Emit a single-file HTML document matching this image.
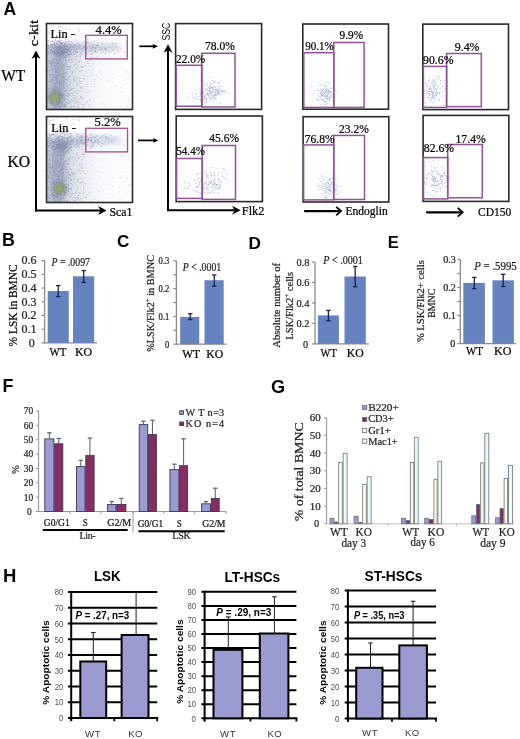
<!DOCTYPE html>
<html><head><meta charset="utf-8"><title>Figure</title>
<style>html,body{margin:0;padding:0;background:#fff;width:520px;height:739px;overflow:hidden}svg{display:block;will-change:transform}</style>
</head><body>
<svg width="520" height="739" viewBox="0 0 520 739">
<defs><filter id="soft" x="-5%" y="-5%" width="110%" height="110%"><feGaussianBlur stdDeviation="0.45"/></filter><filter id="blur1" x="-50%" y="-50%" width="200%" height="200%"><feGaussianBlur stdDeviation="1.6"/></filter><filter id="blur3" x="-20%" y="-20%" width="140%" height="140%"><feGaussianBlur stdDeviation="2.5"/></filter></defs>
<rect width="520" height="739" fill="#fff"/>
<text x="3.4" y="15.4" font-family="'Liberation Sans', sans-serif" font-size="17.5" font-weight="bold">A</text>
<text x="1.3" y="81" font-family="'Liberation Serif', serif" font-size="16" stroke="#000" stroke-width="0.22" textLength="24" lengthAdjust="spacingAndGlyphs">WT</text>
<text x="7.5" y="167.3" font-family="'Liberation Serif', serif" font-size="16" stroke="#000" stroke-width="0.22" textLength="22.6" lengthAdjust="spacingAndGlyphs">KO</text>
<text x="38.4" y="46.2" font-family="'Liberation Serif', serif" font-size="13.5" stroke="#000" stroke-width="0.22" textLength="26.2" lengthAdjust="spacingAndGlyphs" transform="rotate(-90 38.4 46.2)">c-kit</text>
<clipPath id="c23"><rect x="46.5" y="23.5" width="86.0" height="86.0"/></clipPath>
<linearGradient id="gc23" x1="46.5" y1="0" x2="132.5" y2="0" gradientUnits="userSpaceOnUse"><stop offset="0" stop-color="#c4c9d9"/><stop offset="0.22" stop-color="#d3d7e3"/><stop offset="0.42" stop-color="#e9ebf1"/><stop offset="0.6" stop-color="#f7f8fa"/><stop offset="1" stop-color="#fdfdfe"/></linearGradient>
<g clip-path="url(#c23)"><g filter="url(#blur3)">
<rect x="41.5" y="45.5" width="96.0" height="70.0" fill="url(#gc23)"/>
<ellipse cx="79.5" cy="47.5" rx="36" ry="5" fill="#c9cedd"/>
<ellipse cx="104.5" cy="47.5" rx="18" ry="4" fill="#d0d5e4"/>
<ellipse cx="58.5" cy="81.5" rx="7.5" ry="34" fill="#a9b0c6"/>
<ellipse cx="61.5" cy="50" rx="9" ry="6" fill="#9aa2bb"/>
<ellipse cx="55.0" cy="97.5" rx="7.5" ry="8" fill="#84938a"/>
</g><g filter="url(#soft)">
<path d="M52.7 69.0h1.0v1.0h-1.0zM51.4 66.6h1.0v1.0h-1.0zM50.5 96.5h1.0v1.0h-1.0zM56.5 59.0h1.0v1.0h-1.0zM59.4 65.1h1.0v1.0h-1.0zM48.4 62.7h1.0v1.0h-1.0zM57.5 44.5h1.0v1.0h-1.0zM59.3 38.5h1.0v1.0h-1.0zM55.1 54.4h1.0v1.0h-1.0zM67.9 53.0h1.0v1.0h-1.0zM55.2 52.6h1.0v1.0h-1.0zM68.7 54.7h1.0v1.0h-1.0zM90.5 53.7h1.0v1.0h-1.0zM48.9 47.3h1.0v1.0h-1.0zM68.5 59.1h1.0v1.0h-1.0zM94.1 44.6h1.0v1.0h-1.0zM52.7 44.0h1.0v1.0h-1.0zM59.6 84.4h1.0v1.0h-1.0zM60.2 60.2h1.0v1.0h-1.0zM55.4 46.1h1.0v1.0h-1.0zM51.4 82.0h1.0v1.0h-1.0zM52.7 103.3h1.0v1.0h-1.0zM52.2 96.8h1.0v1.0h-1.0zM50.8 40.7h1.0v1.0h-1.0zM48.0 44.8h1.0v1.0h-1.0zM80.9 53.0h1.0v1.0h-1.0zM70.5 44.1h1.0v1.0h-1.0zM72.8 53.8h1.0v1.0h-1.0zM63.6 66.4h1.0v1.0h-1.0zM55.4 94.5h1.0v1.0h-1.0zM59.0 45.1h1.0v1.0h-1.0zM72.4 71.8h1.0v1.0h-1.0zM51.7 46.3h1.0v1.0h-1.0zM56.6 99.5h1.0v1.0h-1.0zM84.7 46.3h1.0v1.0h-1.0zM57.8 93.2h1.0v1.0h-1.0zM73.4 94.9h1.0v1.0h-1.0zM82.9 46.9h1.0v1.0h-1.0zM55.1 94.4h1.0v1.0h-1.0zM101.3 47.8h1.0v1.0h-1.0zM75.7 48.8h1.0v1.0h-1.0zM58.4 39.9h1.0v1.0h-1.0zM51.8 47.1h1.0v1.0h-1.0zM57.2 66.3h1.0v1.0h-1.0zM85.4 70.4h1.0v1.0h-1.0zM101.4 49.3h1.0v1.0h-1.0zM49.4 52.2h1.0v1.0h-1.0zM62.4 42.5h1.0v1.0h-1.0zM50.7 63.7h1.0v1.0h-1.0zM73.4 46.9h1.0v1.0h-1.0zM79.4 44.8h1.0v1.0h-1.0zM56.8 95.0h1.0v1.0h-1.0zM63.4 44.5h1.0v1.0h-1.0zM59.5 98.7h1.0v1.0h-1.0zM60.4 82.6h1.0v1.0h-1.0zM51.0 102.2h1.0v1.0h-1.0zM60.1 90.3h1.0v1.0h-1.0zM62.1 42.0h1.0v1.0h-1.0zM49.7 94.7h1.0v1.0h-1.0zM52.1 53.3h1.0v1.0h-1.0zM60.0 99.7h1.0v1.0h-1.0zM89.5 50.6h1.0v1.0h-1.0zM55.4 107.9h1.0v1.0h-1.0zM58.0 103.1h1.0v1.0h-1.0zM67.6 100.3h1.0v1.0h-1.0zM51.5 89.7h1.0v1.0h-1.0zM72.8 49.0h1.0v1.0h-1.0zM49.8 52.0h1.0v1.0h-1.0zM64.5 76.4h1.0v1.0h-1.0zM55.6 102.5h1.0v1.0h-1.0zM58.6 25.9h1.0v1.0h-1.0zM64.0 33.0h1.0v1.0h-1.0zM63.9 50.6h1.0v1.0h-1.0zM48.3 45.3h1.0v1.0h-1.0zM62.2 65.5h1.0v1.0h-1.0zM53.4 90.5h1.0v1.0h-1.0zM53.8 99.0h1.0v1.0h-1.0zM64.0 45.9h1.0v1.0h-1.0zM76.1 51.3h1.0v1.0h-1.0zM63.2 77.7h1.0v1.0h-1.0zM64.0 56.5h1.0v1.0h-1.0zM58.6 74.8h1.0v1.0h-1.0zM73.1 76.9h1.0v1.0h-1.0zM64.4 81.7h1.0v1.0h-1.0zM65.7 105.4h1.0v1.0h-1.0zM86.3 48.5h1.0v1.0h-1.0zM57.1 94.4h1.0v1.0h-1.0zM68.1 59.7h1.0v1.0h-1.0zM46.7 84.9h1.0v1.0h-1.0zM67.3 49.2h1.0v1.0h-1.0zM51.5 63.2h1.0v1.0h-1.0zM89.3 46.6h1.0v1.0h-1.0zM74.6 50.5h1.0v1.0h-1.0zM68.4 49.2h1.0v1.0h-1.0zM64.5 36.4h1.0v1.0h-1.0zM46.9 81.6h1.0v1.0h-1.0zM67.1 85.9h1.0v1.0h-1.0zM61.9 83.1h1.0v1.0h-1.0zM75.8 67.7h1.0v1.0h-1.0zM49.8 45.2h1.0v1.0h-1.0zM60.8 43.8h1.0v1.0h-1.0zM58.6 42.3h1.0v1.0h-1.0zM59.7 46.5h1.0v1.0h-1.0zM73.5 100.3h1.0v1.0h-1.0zM70.8 45.4h1.0v1.0h-1.0zM71.4 106.7h1.0v1.0h-1.0zM65.1 72.1h1.0v1.0h-1.0zM52.1 85.8h1.0v1.0h-1.0zM62.3 94.2h1.0v1.0h-1.0zM60.4 55.0h1.0v1.0h-1.0zM65.5 39.0h1.0v1.0h-1.0zM67.8 93.0h1.0v1.0h-1.0zM54.7 82.9h1.0v1.0h-1.0zM57.0 65.5h1.0v1.0h-1.0zM81.1 48.0h1.0v1.0h-1.0zM63.6 83.9h1.0v1.0h-1.0zM72.9 44.1h1.0v1.0h-1.0zM61.0 50.5h1.0v1.0h-1.0zM59.8 48.1h1.0v1.0h-1.0zM55.0 100.3h1.0v1.0h-1.0zM51.1 99.2h1.0v1.0h-1.0zM65.3 49.8h1.0v1.0h-1.0zM61.2 54.0h1.0v1.0h-1.0zM56.3 68.9h1.0v1.0h-1.0zM62.8 47.6h1.0v1.0h-1.0zM49.5 80.0h1.0v1.0h-1.0zM59.8 83.5h1.0v1.0h-1.0zM69.4 94.5h1.0v1.0h-1.0zM60.0 53.5h1.0v1.0h-1.0zM64.6 97.7h1.0v1.0h-1.0zM73.8 79.8h1.0v1.0h-1.0zM57.7 47.0h1.0v1.0h-1.0zM63.3 49.3h1.0v1.0h-1.0zM49.8 49.9h1.0v1.0h-1.0zM61.8 94.9h1.0v1.0h-1.0zM104.7 53.2h1.0v1.0h-1.0zM50.5 44.3h1.0v1.0h-1.0zM57.3 88.3h1.0v1.0h-1.0zM92.7 44.7h1.0v1.0h-1.0zM58.6 71.4h1.0v1.0h-1.0zM60.9 80.2h1.0v1.0h-1.0zM56.2 48.1h1.0v1.0h-1.0zM63.3 83.1h1.0v1.0h-1.0zM56.1 51.1h1.0v1.0h-1.0zM67.9 44.4h1.0v1.0h-1.0zM59.9 49.0h1.0v1.0h-1.0zM53.3 82.0h1.0v1.0h-1.0zM49.9 60.9h1.0v1.0h-1.0zM60.5 48.6h1.0v1.0h-1.0zM53.7 51.0h1.0v1.0h-1.0zM65.8 72.2h1.0v1.0h-1.0zM64.6 49.0h1.0v1.0h-1.0zM50.2 74.8h1.0v1.0h-1.0zM55.9 91.6h1.0v1.0h-1.0zM53.0 51.5h1.0v1.0h-1.0zM60.9 54.2h1.0v1.0h-1.0zM47.0 72.7h1.0v1.0h-1.0zM69.7 46.7h1.0v1.0h-1.0zM66.5 53.2h1.0v1.0h-1.0zM69.9 45.4h1.0v1.0h-1.0zM60.5 46.3h1.0v1.0h-1.0zM65.1 57.5h1.0v1.0h-1.0zM51.4 58.7h1.0v1.0h-1.0zM108.1 51.5h1.0v1.0h-1.0zM54.1 92.7h1.0v1.0h-1.0zM51.6 66.2h1.0v1.0h-1.0zM62.0 103.4h1.0v1.0h-1.0zM52.1 78.4h1.0v1.0h-1.0zM68.8 60.4h1.0v1.0h-1.0zM56.0 106.3h1.0v1.0h-1.0zM54.2 52.4h1.0v1.0h-1.0zM66.2 60.1h1.0v1.0h-1.0zM48.2 107.7h1.0v1.0h-1.0zM58.0 59.9h1.0v1.0h-1.0zM108.7 46.7h1.0v1.0h-1.0zM78.5 44.0h1.0v1.0h-1.0zM73.3 106.1h1.0v1.0h-1.0zM87.0 42.3h1.0v1.0h-1.0zM61.1 93.4h1.0v1.0h-1.0zM59.6 44.9h1.0v1.0h-1.0zM59.2 81.3h1.0v1.0h-1.0zM75.4 55.9h1.0v1.0h-1.0zM63.6 72.0h1.0v1.0h-1.0zM61.7 84.5h1.0v1.0h-1.0zM103.1 51.5h1.0v1.0h-1.0zM48.7 73.9h1.0v1.0h-1.0zM58.9 51.9h1.0v1.0h-1.0zM47.0 107.5h1.0v1.0h-1.0zM68.8 50.1h1.0v1.0h-1.0zM68.4 40.7h1.0v1.0h-1.0zM83.4 77.8h1.0v1.0h-1.0zM61.8 101.9h1.0v1.0h-1.0zM103.9 48.6h1.0v1.0h-1.0zM54.5 63.0h1.0v1.0h-1.0zM65.8 102.1h1.0v1.0h-1.0zM57.7 72.6h1.0v1.0h-1.0zM60.9 103.5h1.0v1.0h-1.0zM56.5 65.7h1.0v1.0h-1.0zM56.5 63.3h1.0v1.0h-1.0zM63.3 57.8h1.0v1.0h-1.0zM57.3 43.9h1.0v1.0h-1.0zM89.2 99.2h1.0v1.0h-1.0zM49.1 56.9h1.0v1.0h-1.0zM71.3 99.2h1.0v1.0h-1.0zM85.8 101.8h1.0v1.0h-1.0zM54.0 44.3h1.0v1.0h-1.0zM58.4 40.3h1.0v1.0h-1.0zM54.0 46.5h1.0v1.0h-1.0zM56.8 81.6h1.0v1.0h-1.0zM53.0 76.5h1.0v1.0h-1.0zM77.4 106.5h1.0v1.0h-1.0zM60.3 86.3h1.0v1.0h-1.0zM62.4 49.8h1.0v1.0h-1.0zM63.3 50.8h1.0v1.0h-1.0zM55.7 45.6h1.0v1.0h-1.0zM63.8 100.7h1.0v1.0h-1.0zM62.3 97.6h1.0v1.0h-1.0zM57.9 52.3h1.0v1.0h-1.0zM57.7 83.3h1.0v1.0h-1.0zM98.5 46.9h1.0v1.0h-1.0zM64.6 42.5h1.0v1.0h-1.0zM77.1 83.0h1.0v1.0h-1.0zM117.8 51.1h1.0v1.0h-1.0zM51.5 61.4h1.0v1.0h-1.0zM55.9 42.6h1.0v1.0h-1.0zM65.0 90.9h1.0v1.0h-1.0zM49.1 89.6h1.0v1.0h-1.0zM57.9 62.1h1.0v1.0h-1.0zM62.6 57.7h1.0v1.0h-1.0zM63.0 86.1h1.0v1.0h-1.0zM63.2 46.1h1.0v1.0h-1.0zM59.6 89.6h1.0v1.0h-1.0zM55.8 71.4h1.0v1.0h-1.0zM64.3 44.9h1.0v1.0h-1.0zM96.3 55.7h1.0v1.0h-1.0zM50.2 99.1h1.0v1.0h-1.0zM52.5 51.0h1.0v1.0h-1.0zM57.2 40.5h1.0v1.0h-1.0zM51.1 63.5h1.0v1.0h-1.0zM58.6 100.8h1.0v1.0h-1.0zM66.9 102.6h1.0v1.0h-1.0zM48.0 87.9h1.0v1.0h-1.0zM71.2 57.2h1.0v1.0h-1.0zM55.9 106.5h1.0v1.0h-1.0zM56.2 82.4h1.0v1.0h-1.0zM69.8 44.7h1.0v1.0h-1.0zM64.6 47.9h1.0v1.0h-1.0zM47.7 45.6h1.0v1.0h-1.0zM48.9 82.2h1.0v1.0h-1.0zM105.6 49.3h1.0v1.0h-1.0zM49.1 93.9h1.0v1.0h-1.0zM65.5 29.0h1.0v1.0h-1.0zM65.1 56.2h1.0v1.0h-1.0zM56.3 62.6h1.0v1.0h-1.0zM61.3 43.1h1.0v1.0h-1.0zM91.1 43.9h1.0v1.0h-1.0zM87.4 38.8h1.0v1.0h-1.0zM53.5 41.9h1.0v1.0h-1.0zM80.7 81.2h1.0v1.0h-1.0zM60.3 93.9h1.0v1.0h-1.0zM50.9 101.3h1.0v1.0h-1.0zM48.0 48.1h1.0v1.0h-1.0zM68.2 43.6h1.0v1.0h-1.0zM64.8 46.1h1.0v1.0h-1.0zM58.1 58.0h1.0v1.0h-1.0zM48.0 81.0h1.0v1.0h-1.0zM69.7 29.5h1.0v1.0h-1.0zM61.2 82.7h1.0v1.0h-1.0zM66.0 46.0h1.0v1.0h-1.0zM54.3 76.5h1.0v1.0h-1.0zM59.6 82.4h1.0v1.0h-1.0zM62.9 73.0h1.0v1.0h-1.0zM49.1 85.1h1.0v1.0h-1.0zM59.9 42.7h1.0v1.0h-1.0zM65.4 50.6h1.0v1.0h-1.0zM100.6 47.2h1.0v1.0h-1.0zM54.5 105.4h1.0v1.0h-1.0zM71.0 88.8h1.0v1.0h-1.0zM61.3 88.5h1.0v1.0h-1.0zM75.3 44.6h1.0v1.0h-1.0zM76.5 55.7h1.0v1.0h-1.0zM50.6 97.5h1.0v1.0h-1.0zM75.4 44.7h1.0v1.0h-1.0zM49.5 73.7h1.0v1.0h-1.0zM62.4 70.0h1.0v1.0h-1.0zM62.1 100.9h1.0v1.0h-1.0zM68.5 47.0h1.0v1.0h-1.0zM99.0 49.3h1.0v1.0h-1.0zM63.3 73.8h1.0v1.0h-1.0zM92.3 46.9h1.0v1.0h-1.0zM48.3 39.9h1.0v1.0h-1.0zM51.4 45.9h1.0v1.0h-1.0zM51.3 34.1h1.0v1.0h-1.0zM59.2 88.2h1.0v1.0h-1.0zM55.2 47.0h1.0v1.0h-1.0zM54.8 65.5h1.0v1.0h-1.0zM64.7 79.1h1.0v1.0h-1.0zM58.8 81.3h1.0v1.0h-1.0zM57.6 77.6h1.0v1.0h-1.0zM67.7 92.8h1.0v1.0h-1.0zM58.1 92.7h1.0v1.0h-1.0zM62.3 66.0h1.0v1.0h-1.0zM60.4 102.5h1.0v1.0h-1.0zM58.2 63.5h1.0v1.0h-1.0zM57.0 47.7h1.0v1.0h-1.0zM64.0 66.6h1.0v1.0h-1.0zM47.6 40.7h1.0v1.0h-1.0zM60.2 85.2h1.0v1.0h-1.0zM81.6 69.7h1.0v1.0h-1.0zM51.4 59.4h1.0v1.0h-1.0zM53.5 51.7h1.0v1.0h-1.0zM59.6 49.5h1.0v1.0h-1.0zM54.3 100.2h1.0v1.0h-1.0zM65.4 57.4h1.0v1.0h-1.0zM75.0 46.1h1.0v1.0h-1.0zM55.0 66.2h1.0v1.0h-1.0zM63.0 80.4h1.0v1.0h-1.0zM56.1 50.9h1.0v1.0h-1.0zM78.9 80.6h1.0v1.0h-1.0zM78.4 48.2h1.0v1.0h-1.0zM76.9 49.5h1.0v1.0h-1.0zM66.0 52.1h1.0v1.0h-1.0zM77.9 46.4h1.0v1.0h-1.0zM59.9 47.4h1.0v1.0h-1.0zM97.1 45.2h1.0v1.0h-1.0zM79.7 55.7h1.0v1.0h-1.0zM95.3 50.9h1.0v1.0h-1.0zM66.9 96.3h1.0v1.0h-1.0zM51.1 55.8h1.0v1.0h-1.0zM55.4 45.6h1.0v1.0h-1.0zM85.8 41.6h1.0v1.0h-1.0zM60.9 66.9h1.0v1.0h-1.0zM53.7 104.7h1.0v1.0h-1.0zM56.2 79.3h1.0v1.0h-1.0zM68.5 78.3h1.0v1.0h-1.0zM73.2 70.3h1.0v1.0h-1.0zM61.6 93.9h1.0v1.0h-1.0zM47.8 99.2h1.0v1.0h-1.0zM54.3 102.1h1.0v1.0h-1.0zM76.5 92.6h1.0v1.0h-1.0zM62.1 72.6h1.0v1.0h-1.0zM65.0 89.9h1.0v1.0h-1.0zM50.8 44.6h1.0v1.0h-1.0zM67.8 49.0h1.0v1.0h-1.0zM56.2 42.5h1.0v1.0h-1.0zM49.6 87.8h1.0v1.0h-1.0zM52.7 104.1h1.0v1.0h-1.0zM48.4 61.0h1.0v1.0h-1.0zM97.3 52.1h1.0v1.0h-1.0zM56.3 85.6h1.0v1.0h-1.0zM59.5 67.6h1.0v1.0h-1.0zM57.3 63.7h1.0v1.0h-1.0zM59.3 42.4h1.0v1.0h-1.0zM58.1 93.3h1.0v1.0h-1.0zM50.5 86.6h1.0v1.0h-1.0zM70.1 65.7h1.0v1.0h-1.0zM83.7 47.4h1.0v1.0h-1.0zM71.9 46.9h1.0v1.0h-1.0zM53.8 91.6h1.0v1.0h-1.0zM53.3 96.9h1.0v1.0h-1.0zM68.5 75.9h1.0v1.0h-1.0zM62.7 105.1h1.0v1.0h-1.0zM64.5 52.1h1.0v1.0h-1.0zM59.7 84.4h1.0v1.0h-1.0zM72.2 46.2h1.0v1.0h-1.0zM47.5 60.5h1.0v1.0h-1.0zM47.6 96.7h1.0v1.0h-1.0zM46.5 105.1h1.0v1.0h-1.0zM67.4 47.9h1.0v1.0h-1.0zM57.1 95.6h1.0v1.0h-1.0zM92.4 46.1h1.0v1.0h-1.0zM55.2 51.8h1.0v1.0h-1.0zM61.2 106.1h1.0v1.0h-1.0zM53.0 62.0h1.0v1.0h-1.0zM47.5 31.5h1.0v1.0h-1.0zM68.7 76.3h1.0v1.0h-1.0zM73.7 98.0h1.0v1.0h-1.0zM48.1 46.5h1.0v1.0h-1.0zM52.0 51.5h1.0v1.0h-1.0zM57.9 49.3h1.0v1.0h-1.0zM115.4 43.0h1.0v1.0h-1.0zM94.7 46.9h1.0v1.0h-1.0zM111.6 49.5h1.0v1.0h-1.0zM52.7 87.5h1.0v1.0h-1.0zM57.3 56.2h1.0v1.0h-1.0zM74.2 47.5h1.0v1.0h-1.0zM57.0 77.6h1.0v1.0h-1.0zM90.3 48.0h1.0v1.0h-1.0zM58.3 101.8h1.0v1.0h-1.0zM54.1 106.6h1.0v1.0h-1.0zM67.8 50.3h1.0v1.0h-1.0zM102.1 42.6h1.0v1.0h-1.0zM66.2 83.4h1.0v1.0h-1.0zM78.7 107.4h1.0v1.0h-1.0zM46.5 45.5h1.0v1.0h-1.0zM63.3 49.9h1.0v1.0h-1.0zM54.7 53.1h1.0v1.0h-1.0zM56.4 87.4h1.0v1.0h-1.0zM54.7 44.9h1.0v1.0h-1.0zM69.6 41.5h1.0v1.0h-1.0zM62.8 76.8h1.0v1.0h-1.0zM50.0 46.8h1.0v1.0h-1.0zM59.2 68.4h1.0v1.0h-1.0zM56.5 95.6h1.0v1.0h-1.0zM81.4 87.3h1.0v1.0h-1.0zM53.2 96.5h1.0v1.0h-1.0zM115.8 46.9h1.0v1.0h-1.0zM58.1 108.1h1.0v1.0h-1.0zM81.6 104.0h1.0v1.0h-1.0zM47.9 51.4h1.0v1.0h-1.0zM57.0 59.0h1.0v1.0h-1.0zM60.8 52.7h1.0v1.0h-1.0zM57.5 59.7h1.0v1.0h-1.0zM67.0 45.2h1.0v1.0h-1.0zM52.3 92.3h1.0v1.0h-1.0zM55.9 58.4h1.0v1.0h-1.0zM100.7 52.6h1.0v1.0h-1.0zM57.1 71.1h1.0v1.0h-1.0zM69.9 90.0h1.0v1.0h-1.0zM60.6 39.9h1.0v1.0h-1.0zM64.7 51.7h1.0v1.0h-1.0zM78.9 46.6h1.0v1.0h-1.0zM61.6 52.1h1.0v1.0h-1.0zM74.3 44.6h1.0v1.0h-1.0zM60.5 45.4h1.0v1.0h-1.0zM68.3 95.6h1.0v1.0h-1.0zM104.5 47.5h1.0v1.0h-1.0zM53.9 107.2h1.0v1.0h-1.0zM60.5 77.0h1.0v1.0h-1.0zM50.1 94.1h1.0v1.0h-1.0zM59.7 79.5h1.0v1.0h-1.0zM57.3 56.2h1.0v1.0h-1.0zM54.0 51.5h1.0v1.0h-1.0zM56.5 45.2h1.0v1.0h-1.0zM59.6 94.2h1.0v1.0h-1.0zM63.1 105.5h1.0v1.0h-1.0zM54.1 101.7h1.0v1.0h-1.0zM58.3 80.7h1.0v1.0h-1.0zM73.9 45.7h1.0v1.0h-1.0zM51.3 68.4h1.0v1.0h-1.0zM47.0 53.5h1.0v1.0h-1.0zM54.6 101.7h1.0v1.0h-1.0zM54.4 84.1h1.0v1.0h-1.0zM48.1 60.2h1.0v1.0h-1.0zM52.9 82.5h1.0v1.0h-1.0zM74.1 50.3h1.0v1.0h-1.0zM55.1 76.8h1.0v1.0h-1.0zM63.7 96.3h1.0v1.0h-1.0zM46.8 44.7h1.0v1.0h-1.0zM55.8 89.7h1.0v1.0h-1.0zM75.4 53.2h1.0v1.0h-1.0zM46.9 59.0h1.0v1.0h-1.0zM56.7 51.1h1.0v1.0h-1.0zM53.5 87.3h1.0v1.0h-1.0zM51.6 60.5h1.0v1.0h-1.0zM80.1 46.4h1.0v1.0h-1.0zM61.1 46.0h1.0v1.0h-1.0zM51.5 49.2h1.0v1.0h-1.0zM65.4 79.4h1.0v1.0h-1.0zM48.2 65.5h1.0v1.0h-1.0zM68.5 56.0h1.0v1.0h-1.0zM46.7 45.6h1.0v1.0h-1.0zM56.9 66.1h1.0v1.0h-1.0zM56.5 50.6h1.0v1.0h-1.0zM78.6 29.4h1.0v1.0h-1.0zM53.0 88.9h1.0v1.0h-1.0zM55.0 91.2h1.0v1.0h-1.0zM58.1 47.1h1.0v1.0h-1.0zM60.9 44.1h1.0v1.0h-1.0zM54.5 71.6h1.0v1.0h-1.0zM53.3 89.2h1.0v1.0h-1.0zM88.4 91.2h1.0v1.0h-1.0zM57.8 41.0h1.0v1.0h-1.0zM58.1 67.0h1.0v1.0h-1.0zM55.4 62.3h1.0v1.0h-1.0zM54.6 87.3h1.0v1.0h-1.0zM76.7 84.4h1.0v1.0h-1.0zM57.5 75.4h1.0v1.0h-1.0zM65.4 79.0h1.0v1.0h-1.0zM55.6 44.8h1.0v1.0h-1.0zM61.9 73.0h1.0v1.0h-1.0zM86.7 84.1h1.0v1.0h-1.0zM71.0 45.3h1.0v1.0h-1.0zM65.0 45.3h1.0v1.0h-1.0zM90.5 47.4h1.0v1.0h-1.0zM57.1 100.4h1.0v1.0h-1.0zM61.9 51.7h1.0v1.0h-1.0zM52.9 97.4h1.0v1.0h-1.0zM85.6 46.9h1.0v1.0h-1.0zM112.1 49.5h1.0v1.0h-1.0zM62.1 82.6h1.0v1.0h-1.0zM79.1 70.4h1.0v1.0h-1.0zM81.4 54.2h1.0v1.0h-1.0zM88.8 45.5h1.0v1.0h-1.0zM63.1 77.5h1.0v1.0h-1.0zM53.1 104.2h1.0v1.0h-1.0zM51.5 103.0h1.0v1.0h-1.0zM58.9 45.6h1.0v1.0h-1.0zM49.9 81.0h1.0v1.0h-1.0zM78.2 77.8h1.0v1.0h-1.0zM93.1 46.9h1.0v1.0h-1.0zM93.7 51.2h1.0v1.0h-1.0zM82.2 66.5h1.0v1.0h-1.0zM93.5 40.5h1.0v1.0h-1.0zM50.1 94.5h1.0v1.0h-1.0zM64.9 58.0h1.0v1.0h-1.0zM61.3 82.1h1.0v1.0h-1.0zM54.8 95.1h1.0v1.0h-1.0zM62.4 52.0h1.0v1.0h-1.0zM47.5 105.3h1.0v1.0h-1.0zM51.9 41.0h1.0v1.0h-1.0zM69.6 66.9h1.0v1.0h-1.0zM66.3 74.3h1.0v1.0h-1.0zM60.8 94.8h1.0v1.0h-1.0zM77.7 104.4h1.0v1.0h-1.0zM53.7 63.5h1.0v1.0h-1.0zM60.9 50.8h1.0v1.0h-1.0zM63.2 75.7h1.0v1.0h-1.0zM53.9 95.5h1.0v1.0h-1.0zM58.4 49.1h1.0v1.0h-1.0zM56.1 67.6h1.0v1.0h-1.0zM64.8 45.7h1.0v1.0h-1.0zM64.0 63.2h1.0v1.0h-1.0zM68.2 93.5h1.0v1.0h-1.0zM62.8 83.9h1.0v1.0h-1.0zM67.0 63.9h1.0v1.0h-1.0zM50.3 61.7h1.0v1.0h-1.0zM67.7 66.2h1.0v1.0h-1.0zM72.0 93.2h1.0v1.0h-1.0zM50.5 104.6h1.0v1.0h-1.0zM54.5 78.4h1.0v1.0h-1.0zM90.4 41.7h1.0v1.0h-1.0zM68.5 50.2h1.0v1.0h-1.0zM57.7 79.0h1.0v1.0h-1.0zM58.8 73.8h1.0v1.0h-1.0zM49.8 70.4h1.0v1.0h-1.0zM49.8 63.1h1.0v1.0h-1.0zM49.3 70.0h1.0v1.0h-1.0zM56.1 72.0h1.0v1.0h-1.0zM52.8 59.1h1.0v1.0h-1.0zM58.9 42.2h1.0v1.0h-1.0zM46.5 59.1h1.0v1.0h-1.0zM57.7 92.2h1.0v1.0h-1.0zM78.2 108.5h1.0v1.0h-1.0zM61.4 53.4h1.0v1.0h-1.0zM48.3 98.0h1.0v1.0h-1.0zM53.6 68.0h1.0v1.0h-1.0zM52.8 47.3h1.0v1.0h-1.0zM50.1 77.6h1.0v1.0h-1.0zM63.3 90.6h1.0v1.0h-1.0zM47.4 53.4h1.0v1.0h-1.0zM56.5 42.6h1.0v1.0h-1.0zM55.4 87.5h1.0v1.0h-1.0zM60.8 98.0h1.0v1.0h-1.0zM58.3 46.2h1.0v1.0h-1.0zM75.1 102.5h1.0v1.0h-1.0zM66.7 49.8h1.0v1.0h-1.0zM87.6 42.0h1.0v1.0h-1.0zM57.6 47.8h1.0v1.0h-1.0zM58.4 87.0h1.0v1.0h-1.0zM58.4 101.0h1.0v1.0h-1.0zM91.3 48.5h1.0v1.0h-1.0zM80.2 96.4h1.0v1.0h-1.0zM61.3 64.7h1.0v1.0h-1.0zM66.0 78.8h1.0v1.0h-1.0zM52.2 76.1h1.0v1.0h-1.0zM91.7 56.5h1.0v1.0h-1.0zM91.3 53.7h1.0v1.0h-1.0zM83.3 74.9h1.0v1.0h-1.0zM61.6 89.1h1.0v1.0h-1.0zM62.2 69.6h1.0v1.0h-1.0zM72.9 44.9h1.0v1.0h-1.0zM55.6 46.3h1.0v1.0h-1.0zM50.6 80.3h1.0v1.0h-1.0zM62.5 64.1h1.0v1.0h-1.0zM63.1 95.3h1.0v1.0h-1.0zM61.3 69.4h1.0v1.0h-1.0zM59.3 57.6h1.0v1.0h-1.0zM58.4 102.5h1.0v1.0h-1.0zM57.1 103.9h1.0v1.0h-1.0zM65.3 78.8h1.0v1.0h-1.0zM60.7 62.3h1.0v1.0h-1.0zM64.6 103.0h1.0v1.0h-1.0zM90.1 60.1h1.0v1.0h-1.0zM55.5 95.1h1.0v1.0h-1.0zM71.3 61.9h1.0v1.0h-1.0zM63.2 50.5h1.0v1.0h-1.0zM56.6 52.0h1.0v1.0h-1.0zM61.3 53.2h1.0v1.0h-1.0zM54.6 74.4h1.0v1.0h-1.0zM59.4 88.5h1.0v1.0h-1.0zM70.1 51.4h1.0v1.0h-1.0zM62.9 92.7h1.0v1.0h-1.0zM62.0 97.9h1.0v1.0h-1.0zM60.2 52.7h1.0v1.0h-1.0zM55.8 77.9h1.0v1.0h-1.0zM105.4 48.8h1.0v1.0h-1.0zM59.2 72.8h1.0v1.0h-1.0zM61.1 80.2h1.0v1.0h-1.0zM53.4 106.2h1.0v1.0h-1.0zM65.5 47.4h1.0v1.0h-1.0zM79.7 77.8h1.0v1.0h-1.0zM83.5 66.1h1.0v1.0h-1.0zM86.1 91.8h1.0v1.0h-1.0zM81.4 33.3h1.0v1.0h-1.0zM49.0 32.3h1.0v1.0h-1.0zM54.5 48.7h1.0v1.0h-1.0zM71.1 41.6h1.0v1.0h-1.0zM60.6 74.6h1.0v1.0h-1.0zM59.4 99.6h1.0v1.0h-1.0zM59.7 65.4h1.0v1.0h-1.0zM68.7 57.6h1.0v1.0h-1.0zM77.4 51.2h1.0v1.0h-1.0zM67.3 49.6h1.0v1.0h-1.0zM58.3 106.1h1.0v1.0h-1.0zM87.2 41.6h1.0v1.0h-1.0zM58.3 82.7h1.0v1.0h-1.0zM60.4 88.3h1.0v1.0h-1.0zM59.5 97.7h1.0v1.0h-1.0zM95.0 48.6h1.0v1.0h-1.0zM56.6 58.7h1.0v1.0h-1.0zM112.2 43.3h1.0v1.0h-1.0zM68.2 49.1h1.0v1.0h-1.0zM56.5 74.1h1.0v1.0h-1.0zM53.9 42.5h1.0v1.0h-1.0zM54.2 100.5h1.0v1.0h-1.0zM104.2 47.8h1.0v1.0h-1.0zM62.0 45.9h1.0v1.0h-1.0zM95.0 50.2h1.0v1.0h-1.0zM47.3 70.4h1.0v1.0h-1.0zM60.8 42.7h1.0v1.0h-1.0zM54.6 67.6h1.0v1.0h-1.0zM55.0 70.5h1.0v1.0h-1.0zM70.5 48.8h1.0v1.0h-1.0zM54.1 47.7h1.0v1.0h-1.0zM56.8 70.2h1.0v1.0h-1.0zM49.4 107.3h1.0v1.0h-1.0zM67.9 102.6h1.0v1.0h-1.0zM53.7 41.8h1.0v1.0h-1.0zM54.9 46.3h1.0v1.0h-1.0zM46.7 47.9h1.0v1.0h-1.0zM84.4 45.6h1.0v1.0h-1.0zM53.8 47.1h1.0v1.0h-1.0zM60.4 45.3h1.0v1.0h-1.0zM57.4 44.1h1.0v1.0h-1.0zM91.4 52.9h1.0v1.0h-1.0zM54.1 85.7h1.0v1.0h-1.0zM94.7 47.8h1.0v1.0h-1.0zM50.3 89.8h1.0v1.0h-1.0zM64.8 63.5h1.0v1.0h-1.0zM105.2 50.0h1.0v1.0h-1.0zM61.2 74.6h1.0v1.0h-1.0zM86.5 48.5h1.0v1.0h-1.0zM80.4 52.6h1.0v1.0h-1.0zM55.8 92.4h1.0v1.0h-1.0zM65.8 49.2h1.0v1.0h-1.0zM62.6 97.8h1.0v1.0h-1.0zM75.7 100.7h1.0v1.0h-1.0zM55.8 76.5h1.0v1.0h-1.0zM62.5 61.3h1.0v1.0h-1.0zM76.4 48.0h1.0v1.0h-1.0zM64.1 105.3h1.0v1.0h-1.0zM81.3 66.8h1.0v1.0h-1.0zM59.1 84.9h1.0v1.0h-1.0zM54.6 44.9h1.0v1.0h-1.0zM69.7 106.7h1.0v1.0h-1.0zM82.4 108.1h1.0v1.0h-1.0zM69.9 76.1h1.0v1.0h-1.0zM55.1 68.1h1.0v1.0h-1.0zM47.3 68.6h1.0v1.0h-1.0zM108.8 51.2h1.0v1.0h-1.0zM62.9 58.8h1.0v1.0h-1.0zM66.9 95.1h1.0v1.0h-1.0zM69.9 87.8h1.0v1.0h-1.0zM74.5 80.4h1.0v1.0h-1.0zM53.8 45.3h1.0v1.0h-1.0zM73.5 47.3h1.0v1.0h-1.0zM47.7 40.0h1.0v1.0h-1.0zM66.4 65.7h1.0v1.0h-1.0zM60.2 43.6h1.0v1.0h-1.0zM55.9 56.8h1.0v1.0h-1.0zM65.2 40.9h1.0v1.0h-1.0zM89.2 45.9h1.0v1.0h-1.0zM63.7 64.1h1.0v1.0h-1.0zM99.6 49.2h1.0v1.0h-1.0zM55.2 105.2h1.0v1.0h-1.0zM67.3 88.9h1.0v1.0h-1.0zM69.6 43.4h1.0v1.0h-1.0zM49.5 52.6h1.0v1.0h-1.0zM57.7 88.0h1.0v1.0h-1.0zM52.9 94.1h1.0v1.0h-1.0zM78.9 61.8h1.0v1.0h-1.0zM58.1 100.2h1.0v1.0h-1.0zM59.1 90.8h1.0v1.0h-1.0zM65.7 59.0h1.0v1.0h-1.0zM82.8 50.8h1.0v1.0h-1.0zM84.5 41.5h1.0v1.0h-1.0zM65.5 27.6h1.0v1.0h-1.0zM53.3 73.3h1.0v1.0h-1.0zM83.1 46.5h1.0v1.0h-1.0zM54.9 39.6h1.0v1.0h-1.0zM58.9 55.5h1.0v1.0h-1.0zM61.1 47.0h1.0v1.0h-1.0zM71.9 88.2h1.0v1.0h-1.0zM67.8 80.7h1.0v1.0h-1.0zM56.5 52.5h1.0v1.0h-1.0zM51.9 52.0h1.0v1.0h-1.0zM52.0 41.0h1.0v1.0h-1.0zM60.6 51.6h1.0v1.0h-1.0zM54.1 94.8h1.0v1.0h-1.0zM48.7 59.9h1.0v1.0h-1.0zM61.6 101.4h1.0v1.0h-1.0zM46.9 45.2h1.0v1.0h-1.0zM65.4 104.5h1.0v1.0h-1.0zM51.1 51.1h1.0v1.0h-1.0zM55.3 74.5h1.0v1.0h-1.0zM65.2 59.8h1.0v1.0h-1.0zM56.3 87.0h1.0v1.0h-1.0zM48.0 62.6h1.0v1.0h-1.0zM59.6 51.2h1.0v1.0h-1.0zM63.6 65.7h1.0v1.0h-1.0zM73.4 47.6h1.0v1.0h-1.0zM51.9 67.2h1.0v1.0h-1.0zM62.3 56.1h1.0v1.0h-1.0zM63.0 50.7h1.0v1.0h-1.0zM49.4 67.5h1.0v1.0h-1.0zM56.3 63.8h1.0v1.0h-1.0zM56.4 75.0h1.0v1.0h-1.0zM65.4 105.9h1.0v1.0h-1.0zM56.0 65.5h1.0v1.0h-1.0zM53.2 49.2h1.0v1.0h-1.0zM59.4 68.0h1.0v1.0h-1.0zM47.4 69.8h1.0v1.0h-1.0zM52.9 101.7h1.0v1.0h-1.0zM87.1 61.4h1.0v1.0h-1.0zM74.1 64.5h1.0v1.0h-1.0zM57.5 98.7h1.0v1.0h-1.0zM77.5 42.7h1.0v1.0h-1.0zM58.0 106.5h1.0v1.0h-1.0zM66.8 98.4h1.0v1.0h-1.0zM77.1 45.8h1.0v1.0h-1.0zM55.3 48.9h1.0v1.0h-1.0zM64.1 86.7h1.0v1.0h-1.0zM59.3 40.9h1.0v1.0h-1.0zM80.0 87.5h1.0v1.0h-1.0zM53.9 97.4h1.0v1.0h-1.0zM54.2 56.3h1.0v1.0h-1.0zM51.2 64.5h1.0v1.0h-1.0zM63.0 70.5h1.0v1.0h-1.0zM52.0 79.3h1.0v1.0h-1.0zM58.8 86.3h1.0v1.0h-1.0zM55.3 55.6h1.0v1.0h-1.0zM52.0 94.5h1.0v1.0h-1.0zM67.7 95.8h1.0v1.0h-1.0zM105.0 48.5h1.0v1.0h-1.0zM60.8 95.8h1.0v1.0h-1.0zM51.0 79.5h1.0v1.0h-1.0zM65.8 61.0h1.0v1.0h-1.0zM54.3 43.4h1.0v1.0h-1.0zM63.3 87.8h1.0v1.0h-1.0zM96.1 45.1h1.0v1.0h-1.0zM67.4 48.7h1.0v1.0h-1.0zM60.3 107.4h1.0v1.0h-1.0zM62.3 75.3h1.0v1.0h-1.0zM52.8 79.4h1.0v1.0h-1.0zM52.3 87.2h1.0v1.0h-1.0zM51.5 24.9h1.0v1.0h-1.0zM55.4 77.2h1.0v1.0h-1.0zM56.4 80.3h1.0v1.0h-1.0zM51.9 69.9h1.0v1.0h-1.0zM51.8 107.9h1.0v1.0h-1.0zM58.4 36.5h1.0v1.0h-1.0zM64.1 42.9h1.0v1.0h-1.0zM69.2 85.2h1.0v1.0h-1.0zM62.5 56.1h1.0v1.0h-1.0zM60.2 49.4h1.0v1.0h-1.0zM57.8 55.2h1.0v1.0h-1.0zM98.8 49.0h1.0v1.0h-1.0zM60.6 53.5h1.0v1.0h-1.0zM58.5 92.1h1.0v1.0h-1.0zM47.9 39.9h1.0v1.0h-1.0zM58.9 45.2h1.0v1.0h-1.0zM74.9 50.3h1.0v1.0h-1.0zM48.7 82.2h1.0v1.0h-1.0zM54.1 68.1h1.0v1.0h-1.0zM65.3 51.3h1.0v1.0h-1.0zM60.1 45.2h1.0v1.0h-1.0zM47.1 96.6h1.0v1.0h-1.0zM68.1 49.4h1.0v1.0h-1.0zM57.9 50.6h1.0v1.0h-1.0zM95.3 49.7h1.0v1.0h-1.0zM51.2 49.1h1.0v1.0h-1.0zM53.4 59.1h1.0v1.0h-1.0zM63.3 78.2h1.0v1.0h-1.0zM90.4 57.2h1.0v1.0h-1.0zM62.8 47.8h1.0v1.0h-1.0zM78.6 48.3h1.0v1.0h-1.0zM51.6 58.6h1.0v1.0h-1.0zM51.4 48.6h1.0v1.0h-1.0zM62.4 73.1h1.0v1.0h-1.0zM73.5 78.9h1.0v1.0h-1.0zM65.1 61.8h1.0v1.0h-1.0zM75.4 63.9h1.0v1.0h-1.0zM59.8 91.1h1.0v1.0h-1.0zM57.5 48.8h1.0v1.0h-1.0zM49.6 74.0h1.0v1.0h-1.0zM63.6 75.4h1.0v1.0h-1.0zM73.1 50.6h1.0v1.0h-1.0zM51.7 44.7h1.0v1.0h-1.0zM61.6 82.4h1.0v1.0h-1.0zM58.5 62.4h1.0v1.0h-1.0zM54.3 80.3h1.0v1.0h-1.0zM64.1 104.2h1.0v1.0h-1.0zM50.8 63.0h1.0v1.0h-1.0zM58.9 70.9h1.0v1.0h-1.0zM112.1 43.0h1.0v1.0h-1.0zM52.6 98.8h1.0v1.0h-1.0zM67.0 68.8h1.0v1.0h-1.0zM92.7 47.5h1.0v1.0h-1.0zM53.9 106.9h1.0v1.0h-1.0zM95.3 47.3h1.0v1.0h-1.0zM57.5 72.9h1.0v1.0h-1.0zM76.6 52.0h1.0v1.0h-1.0zM47.3 67.1h1.0v1.0h-1.0zM61.8 67.8h1.0v1.0h-1.0zM54.1 57.5h1.0v1.0h-1.0zM53.3 63.0h1.0v1.0h-1.0zM61.1 97.4h1.0v1.0h-1.0zM57.1 95.1h1.0v1.0h-1.0zM114.0 53.6h1.0v1.0h-1.0zM53.3 47.4h1.0v1.0h-1.0zM54.0 53.3h1.0v1.0h-1.0zM61.9 44.3h1.0v1.0h-1.0zM65.4 103.7h1.0v1.0h-1.0zM56.0 77.3h1.0v1.0h-1.0zM68.8 66.1h1.0v1.0h-1.0zM75.7 59.1h1.0v1.0h-1.0zM53.7 60.7h1.0v1.0h-1.0zM51.7 39.5h1.0v1.0h-1.0zM70.5 36.6h1.0v1.0h-1.0zM62.5 79.5h1.0v1.0h-1.0zM71.6 73.4h1.0v1.0h-1.0zM54.2 40.5h1.0v1.0h-1.0zM77.6 101.6h1.0v1.0h-1.0zM51.2 69.4h1.0v1.0h-1.0zM58.8 80.4h1.0v1.0h-1.0zM53.5 43.7h1.0v1.0h-1.0zM60.0 58.9h1.0v1.0h-1.0zM58.5 46.9h1.0v1.0h-1.0zM47.6 90.9h1.0v1.0h-1.0zM70.2 44.9h1.0v1.0h-1.0zM60.4 102.0h1.0v1.0h-1.0zM59.4 82.8h1.0v1.0h-1.0zM97.4 45.4h1.0v1.0h-1.0zM50.0 44.1h1.0v1.0h-1.0zM58.4 52.0h1.0v1.0h-1.0zM56.1 91.8h1.0v1.0h-1.0zM63.6 99.4h1.0v1.0h-1.0zM59.8 63.9h1.0v1.0h-1.0zM71.2 46.7h1.0v1.0h-1.0zM57.5 62.5h1.0v1.0h-1.0zM46.6 102.9h1.0v1.0h-1.0zM70.1 82.1h1.0v1.0h-1.0zM59.6 106.2h1.0v1.0h-1.0zM50.2 73.7h1.0v1.0h-1.0zM65.6 50.8h1.0v1.0h-1.0zM56.5 59.6h1.0v1.0h-1.0zM54.3 44.2h1.0v1.0h-1.0zM55.4 96.7h1.0v1.0h-1.0zM49.6 76.3h1.0v1.0h-1.0zM59.7 41.9h1.0v1.0h-1.0zM63.4 72.2h1.0v1.0h-1.0zM67.5 54.0h1.0v1.0h-1.0zM78.0 60.9h1.0v1.0h-1.0zM49.4 46.8h1.0v1.0h-1.0zM56.5 43.3h1.0v1.0h-1.0zM71.7 71.3h1.0v1.0h-1.0zM63.6 93.4h1.0v1.0h-1.0zM94.3 51.6h1.0v1.0h-1.0zM97.5 44.2h1.0v1.0h-1.0zM86.8 47.2h1.0v1.0h-1.0zM87.3 53.3h1.0v1.0h-1.0zM62.1 65.0h1.0v1.0h-1.0zM55.5 103.9h1.0v1.0h-1.0zM64.3 106.4h1.0v1.0h-1.0zM57.1 81.0h1.0v1.0h-1.0zM74.6 44.0h1.0v1.0h-1.0zM49.6 103.1h1.0v1.0h-1.0zM63.4 64.9h1.0v1.0h-1.0zM85.7 44.7h1.0v1.0h-1.0zM61.4 57.3h1.0v1.0h-1.0zM76.9 46.3h1.0v1.0h-1.0zM68.6 102.7h1.0v1.0h-1.0zM71.3 73.4h1.0v1.0h-1.0zM56.9 82.1h1.0v1.0h-1.0zM66.3 55.3h1.0v1.0h-1.0zM80.4 96.0h1.0v1.0h-1.0zM69.7 101.1h1.0v1.0h-1.0zM53.5 56.4h1.0v1.0h-1.0zM60.0 26.2h1.0v1.0h-1.0zM59.1 99.9h1.0v1.0h-1.0zM54.6 68.2h1.0v1.0h-1.0zM75.4 52.6h1.0v1.0h-1.0zM56.5 70.8h1.0v1.0h-1.0zM57.0 52.3h1.0v1.0h-1.0zM79.6 102.2h1.0v1.0h-1.0zM56.3 80.1h1.0v1.0h-1.0zM83.2 98.3h1.0v1.0h-1.0zM49.6 86.7h1.0v1.0h-1.0zM69.9 48.1h1.0v1.0h-1.0zM85.8 42.4h1.0v1.0h-1.0zM88.5 63.3h1.0v1.0h-1.0zM56.7 81.1h1.0v1.0h-1.0zM57.2 79.6h1.0v1.0h-1.0zM61.9 44.4h1.0v1.0h-1.0zM55.7 54.1h1.0v1.0h-1.0zM75.3 97.0h1.0v1.0h-1.0zM61.3 92.0h1.0v1.0h-1.0zM48.6 88.0h1.0v1.0h-1.0zM56.4 43.0h1.0v1.0h-1.0zM91.1 50.3h1.0v1.0h-1.0zM55.4 52.2h1.0v1.0h-1.0zM50.8 60.9h1.0v1.0h-1.0zM57.8 40.0h1.0v1.0h-1.0zM49.4 52.6h1.0v1.0h-1.0zM61.1 83.4h1.0v1.0h-1.0zM64.4 46.3h1.0v1.0h-1.0zM69.0 84.2h1.0v1.0h-1.0zM72.5 51.9h1.0v1.0h-1.0zM70.1 88.2h1.0v1.0h-1.0zM51.8 62.8h1.0v1.0h-1.0zM46.7 49.6h1.0v1.0h-1.0zM82.3 47.7h1.0v1.0h-1.0zM50.0 64.7h1.0v1.0h-1.0zM58.3 50.8h1.0v1.0h-1.0zM59.6 63.7h1.0v1.0h-1.0zM65.0 42.8h1.0v1.0h-1.0zM80.8 48.7h1.0v1.0h-1.0zM49.9 50.4h1.0v1.0h-1.0zM83.7 104.6h1.0v1.0h-1.0zM59.4 83.5h1.0v1.0h-1.0zM56.1 78.8h1.0v1.0h-1.0zM68.4 68.5h1.0v1.0h-1.0zM59.9 53.7h1.0v1.0h-1.0zM74.8 51.0h1.0v1.0h-1.0zM51.3 65.7h1.0v1.0h-1.0zM63.4 53.7h1.0v1.0h-1.0zM47.2 54.6h1.0v1.0h-1.0zM59.7 105.9h1.0v1.0h-1.0zM58.4 55.1h1.0v1.0h-1.0z" fill="#8891b0" opacity="0.65"/>
<path d="M62.6 82.7h1.0v1.0h-1.0zM47.5 104.1h1.0v1.0h-1.0zM61.6 65.9h1.0v1.0h-1.0zM51.7 89.7h1.0v1.0h-1.0zM76.8 65.4h1.0v1.0h-1.0zM70.9 104.9h1.0v1.0h-1.0zM60.7 72.2h1.0v1.0h-1.0zM48.8 49.3h1.0v1.0h-1.0zM110.2 51.7h1.0v1.0h-1.0zM48.0 49.1h1.0v1.0h-1.0zM54.3 63.6h1.0v1.0h-1.0zM85.8 64.4h1.0v1.0h-1.0zM57.6 50.0h1.0v1.0h-1.0zM48.3 63.2h1.0v1.0h-1.0zM125.2 41.6h1.0v1.0h-1.0zM90.9 108.3h1.0v1.0h-1.0zM71.7 98.4h1.0v1.0h-1.0zM52.4 86.4h1.0v1.0h-1.0zM73.4 66.2h1.0v1.0h-1.0zM68.5 77.7h1.0v1.0h-1.0zM61.5 47.0h1.0v1.0h-1.0zM62.9 65.5h1.0v1.0h-1.0zM115.2 85.5h1.0v1.0h-1.0zM59.9 61.8h1.0v1.0h-1.0zM79.4 54.6h1.0v1.0h-1.0zM52.1 67.4h1.0v1.0h-1.0zM64.9 89.3h1.0v1.0h-1.0zM88.4 104.4h1.0v1.0h-1.0zM129.8 73.0h1.0v1.0h-1.0zM97.7 42.3h1.0v1.0h-1.0zM102.3 102.2h1.0v1.0h-1.0zM51.4 47.4h1.0v1.0h-1.0zM52.0 62.5h1.0v1.0h-1.0zM65.7 67.7h1.0v1.0h-1.0zM77.2 106.4h1.0v1.0h-1.0zM88.9 44.4h1.0v1.0h-1.0zM81.3 97.8h1.0v1.0h-1.0zM92.8 67.2h1.0v1.0h-1.0zM77.1 78.2h1.0v1.0h-1.0zM47.5 95.2h1.0v1.0h-1.0zM68.4 42.8h1.0v1.0h-1.0zM68.1 86.9h1.0v1.0h-1.0zM61.0 40.1h1.0v1.0h-1.0zM54.1 46.6h1.0v1.0h-1.0zM52.4 89.6h1.0v1.0h-1.0zM63.6 102.5h1.0v1.0h-1.0zM47.4 53.5h1.0v1.0h-1.0zM76.7 69.1h1.0v1.0h-1.0zM51.7 93.1h1.0v1.0h-1.0zM77.8 43.6h1.0v1.0h-1.0zM66.9 78.8h1.0v1.0h-1.0zM69.3 67.9h1.0v1.0h-1.0zM80.6 50.2h1.0v1.0h-1.0zM70.3 80.1h1.0v1.0h-1.0zM50.6 103.6h1.0v1.0h-1.0zM48.8 93.2h1.0v1.0h-1.0zM91.4 75.6h1.0v1.0h-1.0zM50.2 69.7h1.0v1.0h-1.0zM77.8 98.4h1.0v1.0h-1.0zM73.2 60.0h1.0v1.0h-1.0zM62.3 91.9h1.0v1.0h-1.0zM70.9 85.1h1.0v1.0h-1.0zM120.6 90.9h1.0v1.0h-1.0zM93.5 61.5h1.0v1.0h-1.0zM109.3 80.5h1.0v1.0h-1.0zM54.5 60.1h1.0v1.0h-1.0zM87.6 69.7h1.0v1.0h-1.0zM73.7 45.0h1.0v1.0h-1.0zM70.7 69.6h1.0v1.0h-1.0zM54.2 82.1h1.0v1.0h-1.0zM62.1 83.1h1.0v1.0h-1.0zM80.4 54.3h1.0v1.0h-1.0zM51.4 40.3h1.0v1.0h-1.0zM120.5 87.0h1.0v1.0h-1.0zM81.0 91.1h1.0v1.0h-1.0zM49.7 40.8h1.0v1.0h-1.0zM78.5 81.7h1.0v1.0h-1.0zM93.8 86.2h1.0v1.0h-1.0zM53.0 47.5h1.0v1.0h-1.0zM57.5 92.2h1.0v1.0h-1.0zM77.1 102.3h1.0v1.0h-1.0zM50.3 77.4h1.0v1.0h-1.0zM66.4 46.9h1.0v1.0h-1.0zM77.0 45.2h1.0v1.0h-1.0zM75.7 102.6h1.0v1.0h-1.0zM66.5 61.9h1.0v1.0h-1.0zM100.5 79.1h1.0v1.0h-1.0zM53.0 106.4h1.0v1.0h-1.0zM64.5 84.0h1.0v1.0h-1.0zM52.4 66.0h1.0v1.0h-1.0zM49.5 105.2h1.0v1.0h-1.0zM55.4 100.4h1.0v1.0h-1.0zM55.3 49.3h1.0v1.0h-1.0zM62.4 69.3h1.0v1.0h-1.0zM81.1 70.2h1.0v1.0h-1.0zM91.2 81.1h1.0v1.0h-1.0zM55.4 84.9h1.0v1.0h-1.0zM127.0 105.6h1.0v1.0h-1.0zM49.8 84.4h1.0v1.0h-1.0zM64.9 69.0h1.0v1.0h-1.0zM55.9 65.5h1.0v1.0h-1.0zM48.4 102.3h1.0v1.0h-1.0zM83.9 79.0h1.0v1.0h-1.0zM89.7 66.0h1.0v1.0h-1.0zM52.8 99.2h1.0v1.0h-1.0zM76.6 76.6h1.0v1.0h-1.0zM51.9 70.9h1.0v1.0h-1.0zM50.4 69.6h1.0v1.0h-1.0zM95.8 32.7h1.0v1.0h-1.0zM66.1 74.1h1.0v1.0h-1.0zM73.5 106.2h1.0v1.0h-1.0zM79.3 85.6h1.0v1.0h-1.0zM88.8 38.9h1.0v1.0h-1.0zM79.6 59.6h1.0v1.0h-1.0zM62.9 90.8h1.0v1.0h-1.0zM53.8 47.8h1.0v1.0h-1.0zM85.9 62.4h1.0v1.0h-1.0zM104.1 47.7h1.0v1.0h-1.0zM72.8 56.9h1.0v1.0h-1.0zM47.9 105.3h1.0v1.0h-1.0zM66.3 62.7h1.0v1.0h-1.0zM74.7 38.6h1.0v1.0h-1.0zM91.8 73.4h1.0v1.0h-1.0zM69.4 72.4h1.0v1.0h-1.0zM52.3 93.9h1.0v1.0h-1.0zM55.8 91.5h1.0v1.0h-1.0zM53.6 47.7h1.0v1.0h-1.0zM60.5 65.3h1.0v1.0h-1.0zM79.9 95.8h1.0v1.0h-1.0zM58.0 71.0h1.0v1.0h-1.0zM60.9 91.0h1.0v1.0h-1.0zM57.9 65.2h1.0v1.0h-1.0zM59.7 107.9h1.0v1.0h-1.0zM71.6 44.6h1.0v1.0h-1.0zM57.8 48.0h1.0v1.0h-1.0zM62.1 54.6h1.0v1.0h-1.0zM73.3 80.8h1.0v1.0h-1.0zM61.6 85.6h1.0v1.0h-1.0zM65.9 107.9h1.0v1.0h-1.0zM51.8 83.2h1.0v1.0h-1.0zM55.9 40.9h1.0v1.0h-1.0zM70.5 70.5h1.0v1.0h-1.0zM61.0 89.0h1.0v1.0h-1.0zM85.8 54.1h1.0v1.0h-1.0zM50.8 49.2h1.0v1.0h-1.0zM86.7 75.4h1.0v1.0h-1.0zM53.2 56.5h1.0v1.0h-1.0zM74.9 35.1h1.0v1.0h-1.0zM97.8 58.2h1.0v1.0h-1.0zM76.6 108.3h1.0v1.0h-1.0zM72.4 59.5h1.0v1.0h-1.0zM89.1 76.0h1.0v1.0h-1.0zM66.2 67.0h1.0v1.0h-1.0zM72.9 58.7h1.0v1.0h-1.0zM65.0 102.4h1.0v1.0h-1.0zM61.3 70.7h1.0v1.0h-1.0zM52.1 65.8h1.0v1.0h-1.0zM87.0 100.7h1.0v1.0h-1.0zM82.8 106.2h1.0v1.0h-1.0zM78.8 31.0h1.0v1.0h-1.0zM79.9 60.3h1.0v1.0h-1.0zM46.7 50.8h1.0v1.0h-1.0zM55.9 85.1h1.0v1.0h-1.0zM120.9 56.4h1.0v1.0h-1.0zM74.6 95.5h1.0v1.0h-1.0zM57.9 85.4h1.0v1.0h-1.0zM73.6 48.1h1.0v1.0h-1.0zM70.5 93.1h1.0v1.0h-1.0zM80.2 97.6h1.0v1.0h-1.0zM61.4 85.0h1.0v1.0h-1.0zM54.6 48.7h1.0v1.0h-1.0zM64.8 50.3h1.0v1.0h-1.0zM46.8 107.4h1.0v1.0h-1.0zM88.4 51.0h1.0v1.0h-1.0zM59.0 78.7h1.0v1.0h-1.0zM88.3 104.5h1.0v1.0h-1.0zM89.1 105.8h1.0v1.0h-1.0zM114.9 44.6h1.0v1.0h-1.0zM73.0 48.9h1.0v1.0h-1.0zM49.4 46.8h1.0v1.0h-1.0zM71.9 84.0h1.0v1.0h-1.0zM83.9 107.9h1.0v1.0h-1.0zM81.1 82.8h1.0v1.0h-1.0zM84.1 88.6h1.0v1.0h-1.0zM49.7 83.4h1.0v1.0h-1.0zM75.9 62.5h1.0v1.0h-1.0zM85.3 86.0h1.0v1.0h-1.0zM126.5 78.8h1.0v1.0h-1.0zM118.2 40.3h1.0v1.0h-1.0zM70.1 68.8h1.0v1.0h-1.0zM130.6 58.1h1.0v1.0h-1.0zM104.5 106.6h1.0v1.0h-1.0zM94.7 78.8h1.0v1.0h-1.0zM52.4 87.5h1.0v1.0h-1.0zM52.8 105.8h1.0v1.0h-1.0zM80.0 86.3h1.0v1.0h-1.0zM84.3 52.5h1.0v1.0h-1.0zM120.3 48.1h1.0v1.0h-1.0zM48.6 103.9h1.0v1.0h-1.0zM61.3 100.2h1.0v1.0h-1.0zM52.7 100.4h1.0v1.0h-1.0zM78.2 61.1h1.0v1.0h-1.0zM56.5 95.2h1.0v1.0h-1.0zM63.6 63.7h1.0v1.0h-1.0zM58.1 82.8h1.0v1.0h-1.0zM49.7 53.5h1.0v1.0h-1.0zM65.0 69.7h1.0v1.0h-1.0zM61.5 72.7h1.0v1.0h-1.0zM56.0 66.3h1.0v1.0h-1.0zM56.9 45.8h1.0v1.0h-1.0zM65.2 107.4h1.0v1.0h-1.0zM47.9 59.1h1.0v1.0h-1.0zM49.7 59.1h1.0v1.0h-1.0zM108.6 56.2h1.0v1.0h-1.0zM48.5 50.2h1.0v1.0h-1.0zM52.7 67.8h1.0v1.0h-1.0zM74.7 106.2h1.0v1.0h-1.0zM66.7 68.5h1.0v1.0h-1.0zM61.0 70.2h1.0v1.0h-1.0zM58.8 78.1h1.0v1.0h-1.0zM56.9 38.2h1.0v1.0h-1.0zM85.6 37.6h1.0v1.0h-1.0zM58.1 57.9h1.0v1.0h-1.0zM80.5 50.8h1.0v1.0h-1.0zM54.7 56.1h1.0v1.0h-1.0zM47.2 60.4h1.0v1.0h-1.0zM49.7 67.0h1.0v1.0h-1.0zM53.1 67.6h1.0v1.0h-1.0zM106.4 80.3h1.0v1.0h-1.0zM125.2 70.1h1.0v1.0h-1.0zM59.6 48.6h1.0v1.0h-1.0zM62.8 92.9h1.0v1.0h-1.0zM49.9 76.2h1.0v1.0h-1.0zM59.4 104.3h1.0v1.0h-1.0zM57.5 57.3h1.0v1.0h-1.0zM50.0 71.7h1.0v1.0h-1.0zM99.8 70.3h1.0v1.0h-1.0zM49.2 88.6h1.0v1.0h-1.0zM123.2 51.8h1.0v1.0h-1.0zM66.2 52.9h1.0v1.0h-1.0zM125.0 44.4h1.0v1.0h-1.0zM59.0 51.3h1.0v1.0h-1.0zM70.3 88.3h1.0v1.0h-1.0zM75.0 90.9h1.0v1.0h-1.0zM46.5 56.1h1.0v1.0h-1.0zM77.5 90.0h1.0v1.0h-1.0zM69.3 103.2h1.0v1.0h-1.0zM64.0 49.7h1.0v1.0h-1.0zM75.6 40.0h1.0v1.0h-1.0zM58.5 63.9h1.0v1.0h-1.0zM67.2 104.9h1.0v1.0h-1.0zM88.2 42.8h1.0v1.0h-1.0zM92.7 69.4h1.0v1.0h-1.0zM53.7 70.6h1.0v1.0h-1.0zM52.4 90.7h1.0v1.0h-1.0zM94.6 83.2h1.0v1.0h-1.0zM69.1 26.3h1.0v1.0h-1.0zM128.2 99.0h1.0v1.0h-1.0zM66.9 85.4h1.0v1.0h-1.0zM47.4 86.1h1.0v1.0h-1.0zM49.6 75.8h1.0v1.0h-1.0zM53.6 72.9h1.0v1.0h-1.0zM53.7 101.7h1.0v1.0h-1.0zM58.1 48.5h1.0v1.0h-1.0zM55.9 73.0h1.0v1.0h-1.0zM74.0 50.4h1.0v1.0h-1.0zM66.1 95.5h1.0v1.0h-1.0zM71.3 60.7h1.0v1.0h-1.0zM66.2 53.2h1.0v1.0h-1.0zM74.4 75.2h1.0v1.0h-1.0zM46.7 48.8h1.0v1.0h-1.0zM62.1 106.4h1.0v1.0h-1.0zM67.9 89.4h1.0v1.0h-1.0zM89.7 106.9h1.0v1.0h-1.0zM73.6 88.3h1.0v1.0h-1.0zM53.9 50.6h1.0v1.0h-1.0zM79.3 82.6h1.0v1.0h-1.0zM85.9 36.7h1.0v1.0h-1.0zM78.2 27.1h1.0v1.0h-1.0zM111.7 73.2h1.0v1.0h-1.0zM57.0 106.5h1.0v1.0h-1.0zM68.2 95.6h1.0v1.0h-1.0zM50.6 50.8h1.0v1.0h-1.0zM109.3 67.2h1.0v1.0h-1.0zM60.3 100.4h1.0v1.0h-1.0zM68.1 44.6h1.0v1.0h-1.0zM101.3 37.2h1.0v1.0h-1.0zM76.4 79.7h1.0v1.0h-1.0zM53.7 75.7h1.0v1.0h-1.0zM54.8 102.3h1.0v1.0h-1.0zM69.3 87.0h1.0v1.0h-1.0zM125.6 71.2h1.0v1.0h-1.0zM79.9 66.2h1.0v1.0h-1.0zM71.1 101.3h1.0v1.0h-1.0zM57.6 65.3h1.0v1.0h-1.0zM48.0 59.9h1.0v1.0h-1.0zM91.5 32.7h1.0v1.0h-1.0zM67.1 41.3h1.0v1.0h-1.0zM61.1 106.7h1.0v1.0h-1.0zM95.8 74.9h1.0v1.0h-1.0z" fill="#bcc0d3" opacity="0.7"/>
<path d="M56.4 47.0h1.0v1.0h-1.0zM67.3 46.4h1.0v1.0h-1.0zM54.1 51.3h1.0v1.0h-1.0zM60.4 53.9h1.0v1.0h-1.0zM64.7 55.5h1.0v1.0h-1.0zM60.0 53.7h1.0v1.0h-1.0zM59.4 42.6h1.0v1.0h-1.0zM70.9 59.1h1.0v1.0h-1.0zM57.8 54.3h1.0v1.0h-1.0zM56.3 43.1h1.0v1.0h-1.0zM66.5 44.7h1.0v1.0h-1.0zM55.7 47.3h1.0v1.0h-1.0zM67.2 51.2h1.0v1.0h-1.0zM71.1 54.2h1.0v1.0h-1.0zM59.5 56.6h1.0v1.0h-1.0zM69.6 53.7h1.0v1.0h-1.0zM61.6 52.3h1.0v1.0h-1.0zM58.7 56.7h1.0v1.0h-1.0zM57.5 49.2h1.0v1.0h-1.0zM60.4 51.3h1.0v1.0h-1.0zM61.9 52.7h1.0v1.0h-1.0zM64.1 50.3h1.0v1.0h-1.0zM56.9 46.2h1.0v1.0h-1.0zM68.5 54.3h1.0v1.0h-1.0zM63.7 44.6h1.0v1.0h-1.0zM62.5 51.9h1.0v1.0h-1.0zM53.9 42.6h1.0v1.0h-1.0zM60.8 50.2h1.0v1.0h-1.0zM59.8 49.4h1.0v1.0h-1.0zM62.5 54.9h1.0v1.0h-1.0zM59.4 47.5h1.0v1.0h-1.0zM60.5 57.6h1.0v1.0h-1.0zM58.3 54.2h1.0v1.0h-1.0zM64.4 52.7h1.0v1.0h-1.0zM61.0 50.3h1.0v1.0h-1.0zM56.9 50.6h1.0v1.0h-1.0zM58.9 48.6h1.0v1.0h-1.0zM53.8 51.8h1.0v1.0h-1.0zM63.5 50.1h1.0v1.0h-1.0zM54.1 50.9h1.0v1.0h-1.0zM63.7 51.3h1.0v1.0h-1.0zM62.0 55.0h1.0v1.0h-1.0zM64.5 51.1h1.0v1.0h-1.0zM52.6 53.5h1.0v1.0h-1.0zM71.4 49.0h1.0v1.0h-1.0zM62.8 52.0h1.0v1.0h-1.0zM55.5 49.1h1.0v1.0h-1.0zM65.2 54.4h1.0v1.0h-1.0zM66.2 49.0h1.0v1.0h-1.0zM56.8 52.2h1.0v1.0h-1.0zM52.0 43.8h1.0v1.0h-1.0zM57.1 49.1h1.0v1.0h-1.0zM58.8 46.3h1.0v1.0h-1.0zM57.0 48.5h1.0v1.0h-1.0zM68.0 54.8h1.0v1.0h-1.0zM60.3 52.4h1.0v1.0h-1.0zM58.7 53.1h1.0v1.0h-1.0zM60.7 50.2h1.0v1.0h-1.0zM64.3 46.4h1.0v1.0h-1.0zM67.5 54.9h1.0v1.0h-1.0zM55.4 54.0h1.0v1.0h-1.0zM60.2 53.2h1.0v1.0h-1.0zM57.6 55.6h1.0v1.0h-1.0zM68.4 50.4h1.0v1.0h-1.0zM52.7 50.9h1.0v1.0h-1.0zM61.1 47.1h1.0v1.0h-1.0zM70.8 53.3h1.0v1.0h-1.0zM62.8 52.9h1.0v1.0h-1.0zM58.3 56.8h1.0v1.0h-1.0zM56.4 52.9h1.0v1.0h-1.0zM65.8 56.8h1.0v1.0h-1.0zM60.4 45.4h1.0v1.0h-1.0zM62.1 50.3h1.0v1.0h-1.0zM64.6 44.7h1.0v1.0h-1.0zM56.2 51.6h1.0v1.0h-1.0zM69.8 50.3h1.0v1.0h-1.0zM62.3 50.6h1.0v1.0h-1.0zM60.8 47.8h1.0v1.0h-1.0zM70.0 52.6h1.0v1.0h-1.0zM67.8 46.5h1.0v1.0h-1.0zM54.7 49.6h1.0v1.0h-1.0zM67.2 54.3h1.0v1.0h-1.0zM59.0 58.2h1.0v1.0h-1.0zM63.9 52.3h1.0v1.0h-1.0zM60.4 55.9h1.0v1.0h-1.0zM59.2 54.6h1.0v1.0h-1.0zM58.2 51.1h1.0v1.0h-1.0zM60.0 50.8h1.0v1.0h-1.0zM54.8 53.2h1.0v1.0h-1.0zM60.1 50.9h1.0v1.0h-1.0zM50.3 49.8h1.0v1.0h-1.0zM58.2 53.3h1.0v1.0h-1.0zM65.5 44.2h1.0v1.0h-1.0zM62.8 46.8h1.0v1.0h-1.0zM61.5 53.0h1.0v1.0h-1.0zM59.1 49.3h1.0v1.0h-1.0zM59.5 49.2h1.0v1.0h-1.0zM54.2 52.9h1.0v1.0h-1.0zM58.4 48.3h1.0v1.0h-1.0zM52.0 46.5h1.0v1.0h-1.0zM61.4 46.6h1.0v1.0h-1.0zM63.0 51.4h1.0v1.0h-1.0zM61.4 51.9h1.0v1.0h-1.0zM57.9 45.9h1.0v1.0h-1.0zM73.5 54.0h1.0v1.0h-1.0zM50.6 53.2h1.0v1.0h-1.0zM63.6 56.6h1.0v1.0h-1.0zM68.1 48.6h1.0v1.0h-1.0zM58.9 60.2h1.0v1.0h-1.0zM58.8 54.6h1.0v1.0h-1.0zM56.9 51.2h1.0v1.0h-1.0zM65.1 47.9h1.0v1.0h-1.0zM64.6 53.0h1.0v1.0h-1.0zM61.1 42.4h1.0v1.0h-1.0zM68.6 53.5h1.0v1.0h-1.0zM61.2 50.8h1.0v1.0h-1.0zM50.6 48.7h1.0v1.0h-1.0zM52.8 44.3h1.0v1.0h-1.0zM60.0 48.1h1.0v1.0h-1.0zM64.5 47.3h1.0v1.0h-1.0z" fill="#6f7a99" opacity="0.5"/>
<path d="M58.4 100.5h1.0v1.0h-1.0zM64.3 98.6h1.0v1.0h-1.0zM64.2 98.7h1.0v1.0h-1.0zM55.9 99.0h1.0v1.0h-1.0zM52.1 92.5h1.0v1.0h-1.0zM51.3 96.7h1.0v1.0h-1.0zM51.5 100.7h1.0v1.0h-1.0zM59.8 94.5h1.0v1.0h-1.0zM59.0 93.4h1.0v1.0h-1.0zM53.7 99.6h1.0v1.0h-1.0zM48.3 97.0h1.0v1.0h-1.0zM59.2 98.1h1.0v1.0h-1.0zM53.3 94.3h1.0v1.0h-1.0zM60.7 96.5h1.0v1.0h-1.0zM55.1 94.6h1.0v1.0h-1.0zM57.1 93.9h1.0v1.0h-1.0zM58.3 101.1h1.0v1.0h-1.0zM56.8 102.1h1.0v1.0h-1.0zM58.8 95.1h1.0v1.0h-1.0zM57.0 104.5h1.0v1.0h-1.0zM51.5 102.3h1.0v1.0h-1.0zM56.1 94.2h1.0v1.0h-1.0zM55.4 99.7h1.0v1.0h-1.0zM54.0 96.1h1.0v1.0h-1.0zM56.5 96.7h1.0v1.0h-1.0zM59.6 91.2h1.0v1.0h-1.0zM55.3 84.9h1.0v1.0h-1.0zM50.0 102.4h1.0v1.0h-1.0zM54.9 97.4h1.0v1.0h-1.0zM48.6 95.6h1.0v1.0h-1.0zM53.7 100.9h1.0v1.0h-1.0zM55.9 98.1h1.0v1.0h-1.0zM55.7 98.8h1.0v1.0h-1.0zM58.8 98.1h1.0v1.0h-1.0zM47.9 97.0h1.0v1.0h-1.0zM61.3 105.5h1.0v1.0h-1.0zM57.8 93.4h1.0v1.0h-1.0zM59.6 101.0h1.0v1.0h-1.0zM57.3 97.8h1.0v1.0h-1.0zM51.8 94.8h1.0v1.0h-1.0zM60.4 94.5h1.0v1.0h-1.0zM51.7 89.4h1.0v1.0h-1.0zM50.4 97.6h1.0v1.0h-1.0zM53.7 95.8h1.0v1.0h-1.0zM55.9 99.4h1.0v1.0h-1.0zM56.0 91.3h1.0v1.0h-1.0zM58.8 105.9h1.0v1.0h-1.0zM56.8 100.0h1.0v1.0h-1.0zM51.2 104.3h1.0v1.0h-1.0zM54.4 89.6h1.0v1.0h-1.0zM53.7 90.2h1.0v1.0h-1.0zM54.6 92.1h1.0v1.0h-1.0zM51.0 94.1h1.0v1.0h-1.0zM51.2 103.0h1.0v1.0h-1.0zM58.2 91.8h1.0v1.0h-1.0zM59.2 99.0h1.0v1.0h-1.0zM53.9 101.0h1.0v1.0h-1.0zM56.0 98.0h1.0v1.0h-1.0zM52.2 101.2h1.0v1.0h-1.0zM53.8 97.0h1.0v1.0h-1.0zM63.1 94.8h1.0v1.0h-1.0zM57.3 101.9h1.0v1.0h-1.0zM54.6 95.4h1.0v1.0h-1.0zM55.4 100.7h1.0v1.0h-1.0zM47.9 95.5h1.0v1.0h-1.0zM56.3 93.5h1.0v1.0h-1.0zM57.0 97.8h1.0v1.0h-1.0z" fill="#6f7d8c" opacity="0.6"/>
</g>
<g filter="url(#blur1)"><circle cx="55.0" cy="97.5" r="4" fill="#97ad5e" opacity="0.9"/></g>
</g>
<clipPath id="c116"><rect x="46.5" y="116.5" width="86.0" height="86.0"/></clipPath>
<linearGradient id="gc116" x1="46.5" y1="0" x2="132.5" y2="0" gradientUnits="userSpaceOnUse"><stop offset="0" stop-color="#c4c9d9"/><stop offset="0.22" stop-color="#d3d7e3"/><stop offset="0.42" stop-color="#e9ebf1"/><stop offset="0.6" stop-color="#f7f8fa"/><stop offset="1" stop-color="#fdfdfe"/></linearGradient>
<g clip-path="url(#c116)"><g filter="url(#blur3)">
<rect x="41.5" y="138" width="96.0" height="70.5" fill="url(#gc116)"/>
<ellipse cx="79.5" cy="140" rx="36" ry="5" fill="#c9cedd"/>
<ellipse cx="104.5" cy="140" rx="18" ry="4" fill="#d0d5e4"/>
<ellipse cx="58.5" cy="174.25" rx="7.5" ry="34" fill="#a9b0c6"/>
<ellipse cx="61.5" cy="145" rx="9" ry="6" fill="#9aa2bb"/>
<ellipse cx="59.5" cy="188.5" rx="7.5" ry="8" fill="#84938a"/>
</g><g filter="url(#soft)">
<path d="M65.8 151.4h1.0v1.0h-1.0zM58.0 140.4h1.0v1.0h-1.0zM58.3 167.6h1.0v1.0h-1.0zM56.9 162.8h1.0v1.0h-1.0zM49.4 157.4h1.0v1.0h-1.0zM55.1 146.1h1.0v1.0h-1.0zM59.8 180.7h1.0v1.0h-1.0zM49.9 151.6h1.0v1.0h-1.0zM46.8 145.0h1.0v1.0h-1.0zM59.1 142.3h1.0v1.0h-1.0zM65.9 176.7h1.0v1.0h-1.0zM64.3 143.8h1.0v1.0h-1.0zM59.8 155.4h1.0v1.0h-1.0zM46.7 195.8h1.0v1.0h-1.0zM66.4 137.4h1.0v1.0h-1.0zM46.9 176.6h1.0v1.0h-1.0zM81.3 165.6h1.0v1.0h-1.0zM48.2 145.5h1.0v1.0h-1.0zM51.4 187.2h1.0v1.0h-1.0zM83.3 185.7h1.0v1.0h-1.0zM63.6 184.8h1.0v1.0h-1.0zM76.5 152.6h1.0v1.0h-1.0zM47.7 167.7h1.0v1.0h-1.0zM64.1 153.8h1.0v1.0h-1.0zM52.2 146.8h1.0v1.0h-1.0zM48.1 181.0h1.0v1.0h-1.0zM47.9 193.6h1.0v1.0h-1.0zM69.6 146.0h1.0v1.0h-1.0zM72.7 141.1h1.0v1.0h-1.0zM49.9 174.8h1.0v1.0h-1.0zM57.4 140.1h1.0v1.0h-1.0zM65.8 176.2h1.0v1.0h-1.0zM57.0 181.9h1.0v1.0h-1.0zM60.4 133.4h1.0v1.0h-1.0zM52.8 198.9h1.0v1.0h-1.0zM102.7 135.2h1.0v1.0h-1.0zM59.3 154.6h1.0v1.0h-1.0zM47.3 151.7h1.0v1.0h-1.0zM56.7 149.4h1.0v1.0h-1.0zM69.5 180.3h1.0v1.0h-1.0zM62.9 156.2h1.0v1.0h-1.0zM53.8 195.5h1.0v1.0h-1.0zM67.3 145.8h1.0v1.0h-1.0zM52.6 160.4h1.0v1.0h-1.0zM59.2 194.6h1.0v1.0h-1.0zM48.2 150.2h1.0v1.0h-1.0zM58.5 150.5h1.0v1.0h-1.0zM82.6 143.5h1.0v1.0h-1.0zM108.8 138.8h1.0v1.0h-1.0zM53.4 128.9h1.0v1.0h-1.0zM62.6 183.3h1.0v1.0h-1.0zM64.7 166.5h1.0v1.0h-1.0zM53.4 151.5h1.0v1.0h-1.0zM76.4 185.6h1.0v1.0h-1.0zM47.4 139.6h1.0v1.0h-1.0zM59.6 145.3h1.0v1.0h-1.0zM60.5 189.4h1.0v1.0h-1.0zM53.4 174.4h1.0v1.0h-1.0zM72.8 139.9h1.0v1.0h-1.0zM57.1 176.2h1.0v1.0h-1.0zM62.9 141.6h1.0v1.0h-1.0zM92.7 142.9h1.0v1.0h-1.0zM55.3 153.7h1.0v1.0h-1.0zM105.1 137.2h1.0v1.0h-1.0zM57.5 165.9h1.0v1.0h-1.0zM90.5 145.2h1.0v1.0h-1.0zM59.5 179.1h1.0v1.0h-1.0zM61.7 173.1h1.0v1.0h-1.0zM60.6 172.7h1.0v1.0h-1.0zM54.1 171.7h1.0v1.0h-1.0zM60.2 169.9h1.0v1.0h-1.0zM47.5 153.7h1.0v1.0h-1.0zM47.5 198.5h1.0v1.0h-1.0zM62.6 192.6h1.0v1.0h-1.0zM59.5 177.5h1.0v1.0h-1.0zM47.5 188.8h1.0v1.0h-1.0zM59.9 162.3h1.0v1.0h-1.0zM52.2 177.2h1.0v1.0h-1.0zM47.7 145.1h1.0v1.0h-1.0zM60.3 184.9h1.0v1.0h-1.0zM70.6 174.9h1.0v1.0h-1.0zM92.7 142.2h1.0v1.0h-1.0zM61.2 191.7h1.0v1.0h-1.0zM50.4 194.6h1.0v1.0h-1.0zM55.6 183.9h1.0v1.0h-1.0zM103.8 134.4h1.0v1.0h-1.0zM56.9 148.4h1.0v1.0h-1.0zM80.9 139.1h1.0v1.0h-1.0zM72.9 173.1h1.0v1.0h-1.0zM81.2 135.5h1.0v1.0h-1.0zM62.5 165.2h1.0v1.0h-1.0zM51.8 166.3h1.0v1.0h-1.0zM51.1 143.3h1.0v1.0h-1.0zM55.7 160.2h1.0v1.0h-1.0zM60.4 145.0h1.0v1.0h-1.0zM48.4 167.1h1.0v1.0h-1.0zM55.2 135.2h1.0v1.0h-1.0zM64.7 151.5h1.0v1.0h-1.0zM52.6 134.2h1.0v1.0h-1.0zM53.2 198.1h1.0v1.0h-1.0zM81.5 136.9h1.0v1.0h-1.0zM46.5 163.0h1.0v1.0h-1.0zM76.9 134.3h1.0v1.0h-1.0zM46.6 143.1h1.0v1.0h-1.0zM59.9 146.4h1.0v1.0h-1.0zM64.5 137.0h1.0v1.0h-1.0zM48.3 138.5h1.0v1.0h-1.0zM54.7 190.4h1.0v1.0h-1.0zM81.7 139.8h1.0v1.0h-1.0zM64.8 198.1h1.0v1.0h-1.0zM67.9 162.9h1.0v1.0h-1.0zM58.8 183.8h1.0v1.0h-1.0zM53.8 155.4h1.0v1.0h-1.0zM81.7 141.0h1.0v1.0h-1.0zM55.7 153.4h1.0v1.0h-1.0zM58.8 183.8h1.0v1.0h-1.0zM63.4 140.3h1.0v1.0h-1.0zM65.2 140.0h1.0v1.0h-1.0zM52.3 198.9h1.0v1.0h-1.0zM54.3 149.0h1.0v1.0h-1.0zM52.5 168.3h1.0v1.0h-1.0zM58.1 148.3h1.0v1.0h-1.0zM53.5 166.2h1.0v1.0h-1.0zM63.6 131.8h1.0v1.0h-1.0zM47.0 142.9h1.0v1.0h-1.0zM50.0 135.2h1.0v1.0h-1.0zM47.3 186.3h1.0v1.0h-1.0zM76.3 140.1h1.0v1.0h-1.0zM56.4 151.5h1.0v1.0h-1.0zM87.2 139.2h1.0v1.0h-1.0zM62.4 131.7h1.0v1.0h-1.0zM60.4 183.1h1.0v1.0h-1.0zM70.1 188.9h1.0v1.0h-1.0zM65.9 131.2h1.0v1.0h-1.0zM53.7 197.3h1.0v1.0h-1.0zM51.1 142.1h1.0v1.0h-1.0zM66.3 184.7h1.0v1.0h-1.0zM60.5 168.0h1.0v1.0h-1.0zM82.9 170.6h1.0v1.0h-1.0zM67.7 158.3h1.0v1.0h-1.0zM62.1 132.8h1.0v1.0h-1.0zM62.0 172.0h1.0v1.0h-1.0zM61.0 136.0h1.0v1.0h-1.0zM66.0 140.7h1.0v1.0h-1.0zM95.2 141.8h1.0v1.0h-1.0zM57.1 181.2h1.0v1.0h-1.0zM53.5 142.1h1.0v1.0h-1.0zM57.1 166.5h1.0v1.0h-1.0zM54.9 161.5h1.0v1.0h-1.0zM97.3 138.9h1.0v1.0h-1.0zM85.5 136.5h1.0v1.0h-1.0zM77.9 197.9h1.0v1.0h-1.0zM68.8 174.9h1.0v1.0h-1.0zM76.1 143.6h1.0v1.0h-1.0zM75.1 197.3h1.0v1.0h-1.0zM60.2 160.2h1.0v1.0h-1.0zM56.7 145.9h1.0v1.0h-1.0zM49.0 187.4h1.0v1.0h-1.0zM64.2 184.3h1.0v1.0h-1.0zM61.6 201.4h1.0v1.0h-1.0zM48.0 189.5h1.0v1.0h-1.0zM69.2 176.9h1.0v1.0h-1.0zM66.0 185.6h1.0v1.0h-1.0zM83.1 151.5h1.0v1.0h-1.0zM57.6 166.1h1.0v1.0h-1.0zM58.0 170.7h1.0v1.0h-1.0zM49.3 198.0h1.0v1.0h-1.0zM77.9 156.4h1.0v1.0h-1.0zM62.8 197.1h1.0v1.0h-1.0zM84.1 173.3h1.0v1.0h-1.0zM53.2 171.6h1.0v1.0h-1.0zM55.9 139.4h1.0v1.0h-1.0zM85.6 144.4h1.0v1.0h-1.0zM50.1 190.1h1.0v1.0h-1.0zM56.4 181.8h1.0v1.0h-1.0zM56.1 182.1h1.0v1.0h-1.0zM46.9 170.2h1.0v1.0h-1.0zM62.1 172.5h1.0v1.0h-1.0zM54.2 160.3h1.0v1.0h-1.0zM56.6 137.8h1.0v1.0h-1.0zM59.6 147.9h1.0v1.0h-1.0zM59.7 135.6h1.0v1.0h-1.0zM67.5 164.1h1.0v1.0h-1.0zM49.0 184.4h1.0v1.0h-1.0zM46.8 171.3h1.0v1.0h-1.0zM60.4 158.3h1.0v1.0h-1.0zM56.4 163.6h1.0v1.0h-1.0zM82.7 154.1h1.0v1.0h-1.0zM46.5 141.3h1.0v1.0h-1.0zM65.1 192.0h1.0v1.0h-1.0zM53.1 141.2h1.0v1.0h-1.0zM69.7 173.7h1.0v1.0h-1.0zM60.8 190.8h1.0v1.0h-1.0zM51.4 168.7h1.0v1.0h-1.0zM53.0 169.8h1.0v1.0h-1.0zM73.1 139.0h1.0v1.0h-1.0zM63.0 153.7h1.0v1.0h-1.0zM57.4 195.8h1.0v1.0h-1.0zM76.1 189.5h1.0v1.0h-1.0zM50.2 175.5h1.0v1.0h-1.0zM57.8 178.1h1.0v1.0h-1.0zM48.5 159.3h1.0v1.0h-1.0zM55.0 195.9h1.0v1.0h-1.0zM59.2 193.4h1.0v1.0h-1.0zM69.2 196.3h1.0v1.0h-1.0zM49.1 167.7h1.0v1.0h-1.0zM59.6 162.6h1.0v1.0h-1.0zM58.6 175.9h1.0v1.0h-1.0zM61.2 162.1h1.0v1.0h-1.0zM62.9 127.8h1.0v1.0h-1.0zM70.1 136.5h1.0v1.0h-1.0zM69.6 144.0h1.0v1.0h-1.0zM51.5 167.5h1.0v1.0h-1.0zM63.4 164.8h1.0v1.0h-1.0zM67.9 177.1h1.0v1.0h-1.0zM110.3 135.0h1.0v1.0h-1.0zM61.2 181.4h1.0v1.0h-1.0zM57.8 192.0h1.0v1.0h-1.0zM68.3 183.8h1.0v1.0h-1.0zM92.9 145.2h1.0v1.0h-1.0zM85.9 144.2h1.0v1.0h-1.0zM60.9 184.1h1.0v1.0h-1.0zM53.5 138.7h1.0v1.0h-1.0zM75.3 146.9h1.0v1.0h-1.0zM58.5 172.2h1.0v1.0h-1.0zM58.2 165.1h1.0v1.0h-1.0zM59.7 192.6h1.0v1.0h-1.0zM62.1 145.4h1.0v1.0h-1.0zM68.7 151.2h1.0v1.0h-1.0zM66.9 150.4h1.0v1.0h-1.0zM80.6 182.6h1.0v1.0h-1.0zM55.2 158.6h1.0v1.0h-1.0zM54.4 142.1h1.0v1.0h-1.0zM88.0 139.4h1.0v1.0h-1.0zM46.7 156.2h1.0v1.0h-1.0zM52.6 135.0h1.0v1.0h-1.0zM52.8 146.5h1.0v1.0h-1.0zM53.2 185.6h1.0v1.0h-1.0zM52.2 166.5h1.0v1.0h-1.0zM61.3 165.5h1.0v1.0h-1.0zM77.9 179.1h1.0v1.0h-1.0zM55.5 146.0h1.0v1.0h-1.0zM63.0 157.9h1.0v1.0h-1.0zM55.8 141.3h1.0v1.0h-1.0zM73.2 161.6h1.0v1.0h-1.0zM56.7 183.2h1.0v1.0h-1.0zM64.9 166.5h1.0v1.0h-1.0zM52.0 155.2h1.0v1.0h-1.0zM56.8 190.0h1.0v1.0h-1.0zM55.9 147.5h1.0v1.0h-1.0zM52.9 183.8h1.0v1.0h-1.0zM58.8 138.0h1.0v1.0h-1.0zM57.2 139.1h1.0v1.0h-1.0zM49.3 160.1h1.0v1.0h-1.0zM55.2 148.6h1.0v1.0h-1.0zM66.6 137.8h1.0v1.0h-1.0zM59.6 187.6h1.0v1.0h-1.0zM91.3 133.6h1.0v1.0h-1.0zM81.5 142.4h1.0v1.0h-1.0zM52.5 150.2h1.0v1.0h-1.0zM67.8 188.2h1.0v1.0h-1.0zM48.0 187.4h1.0v1.0h-1.0zM64.8 191.6h1.0v1.0h-1.0zM59.3 165.4h1.0v1.0h-1.0zM76.4 154.4h1.0v1.0h-1.0zM62.5 196.0h1.0v1.0h-1.0zM57.5 144.2h1.0v1.0h-1.0zM59.5 158.7h1.0v1.0h-1.0zM54.6 136.3h1.0v1.0h-1.0zM62.0 128.0h1.0v1.0h-1.0zM58.2 167.2h1.0v1.0h-1.0zM50.3 139.1h1.0v1.0h-1.0zM52.2 158.4h1.0v1.0h-1.0zM84.1 156.8h1.0v1.0h-1.0zM58.1 195.9h1.0v1.0h-1.0zM49.5 140.0h1.0v1.0h-1.0zM84.9 183.3h1.0v1.0h-1.0zM85.0 141.1h1.0v1.0h-1.0zM62.6 143.5h1.0v1.0h-1.0zM61.4 189.5h1.0v1.0h-1.0zM46.7 169.9h1.0v1.0h-1.0zM82.1 136.6h1.0v1.0h-1.0zM57.2 160.0h1.0v1.0h-1.0zM58.2 192.3h1.0v1.0h-1.0zM48.8 199.9h1.0v1.0h-1.0zM68.7 141.0h1.0v1.0h-1.0zM79.9 139.7h1.0v1.0h-1.0zM61.2 154.7h1.0v1.0h-1.0zM79.0 164.5h1.0v1.0h-1.0zM58.7 190.9h1.0v1.0h-1.0zM50.0 138.3h1.0v1.0h-1.0zM66.6 193.6h1.0v1.0h-1.0zM90.5 139.4h1.0v1.0h-1.0zM66.7 162.7h1.0v1.0h-1.0zM49.9 164.4h1.0v1.0h-1.0zM65.9 137.9h1.0v1.0h-1.0zM70.7 179.5h1.0v1.0h-1.0zM85.0 147.4h1.0v1.0h-1.0zM65.6 144.5h1.0v1.0h-1.0zM52.3 157.8h1.0v1.0h-1.0zM53.3 152.0h1.0v1.0h-1.0zM61.3 164.5h1.0v1.0h-1.0zM62.3 136.2h1.0v1.0h-1.0zM58.9 189.5h1.0v1.0h-1.0zM61.3 178.0h1.0v1.0h-1.0zM70.3 193.1h1.0v1.0h-1.0zM53.0 163.6h1.0v1.0h-1.0zM53.2 181.8h1.0v1.0h-1.0zM77.1 143.8h1.0v1.0h-1.0zM66.9 168.9h1.0v1.0h-1.0zM106.3 144.4h1.0v1.0h-1.0zM58.5 187.4h1.0v1.0h-1.0zM57.2 141.5h1.0v1.0h-1.0zM61.6 163.4h1.0v1.0h-1.0zM58.3 171.9h1.0v1.0h-1.0zM97.4 142.0h1.0v1.0h-1.0zM64.4 148.2h1.0v1.0h-1.0zM57.0 192.6h1.0v1.0h-1.0zM61.2 164.3h1.0v1.0h-1.0zM80.8 167.8h1.0v1.0h-1.0zM63.3 187.0h1.0v1.0h-1.0zM53.2 174.9h1.0v1.0h-1.0zM54.0 169.2h1.0v1.0h-1.0zM59.9 194.2h1.0v1.0h-1.0zM54.4 140.9h1.0v1.0h-1.0zM52.9 194.4h1.0v1.0h-1.0zM57.4 154.7h1.0v1.0h-1.0zM55.8 174.3h1.0v1.0h-1.0zM106.5 136.4h1.0v1.0h-1.0zM53.9 200.3h1.0v1.0h-1.0zM56.0 128.2h1.0v1.0h-1.0zM64.4 141.9h1.0v1.0h-1.0zM51.4 189.3h1.0v1.0h-1.0zM68.8 137.1h1.0v1.0h-1.0zM82.6 180.8h1.0v1.0h-1.0zM49.1 197.6h1.0v1.0h-1.0zM61.8 159.2h1.0v1.0h-1.0zM49.6 142.3h1.0v1.0h-1.0zM52.8 200.9h1.0v1.0h-1.0zM57.8 136.4h1.0v1.0h-1.0zM50.8 135.0h1.0v1.0h-1.0zM48.7 154.7h1.0v1.0h-1.0zM59.9 198.6h1.0v1.0h-1.0zM49.4 142.3h1.0v1.0h-1.0zM58.5 162.5h1.0v1.0h-1.0zM91.3 137.9h1.0v1.0h-1.0zM58.1 180.0h1.0v1.0h-1.0zM67.4 169.0h1.0v1.0h-1.0zM55.6 148.3h1.0v1.0h-1.0zM53.3 146.6h1.0v1.0h-1.0zM65.6 180.1h1.0v1.0h-1.0zM60.4 187.5h1.0v1.0h-1.0zM56.0 151.1h1.0v1.0h-1.0zM67.5 137.9h1.0v1.0h-1.0zM59.5 154.2h1.0v1.0h-1.0zM66.0 147.1h1.0v1.0h-1.0zM49.8 167.0h1.0v1.0h-1.0zM87.5 139.9h1.0v1.0h-1.0zM66.7 140.3h1.0v1.0h-1.0zM56.8 136.8h1.0v1.0h-1.0zM86.5 135.8h1.0v1.0h-1.0zM57.0 172.1h1.0v1.0h-1.0zM63.1 150.7h1.0v1.0h-1.0zM47.5 137.2h1.0v1.0h-1.0zM78.1 158.1h1.0v1.0h-1.0zM73.2 142.3h1.0v1.0h-1.0zM57.0 159.2h1.0v1.0h-1.0zM49.0 177.0h1.0v1.0h-1.0zM54.2 163.6h1.0v1.0h-1.0zM65.4 159.9h1.0v1.0h-1.0zM52.2 196.9h1.0v1.0h-1.0zM58.1 135.9h1.0v1.0h-1.0zM74.6 158.5h1.0v1.0h-1.0zM52.9 149.0h1.0v1.0h-1.0zM62.3 170.6h1.0v1.0h-1.0zM60.9 142.5h1.0v1.0h-1.0zM65.4 147.8h1.0v1.0h-1.0zM66.5 200.1h1.0v1.0h-1.0zM65.4 186.8h1.0v1.0h-1.0zM49.7 171.3h1.0v1.0h-1.0zM64.3 134.2h1.0v1.0h-1.0zM56.3 167.2h1.0v1.0h-1.0zM64.1 180.2h1.0v1.0h-1.0zM72.2 143.7h1.0v1.0h-1.0zM48.1 164.3h1.0v1.0h-1.0zM62.4 173.6h1.0v1.0h-1.0zM57.2 197.2h1.0v1.0h-1.0zM52.8 144.8h1.0v1.0h-1.0zM97.0 135.2h1.0v1.0h-1.0zM48.9 170.2h1.0v1.0h-1.0zM53.6 156.6h1.0v1.0h-1.0zM81.0 148.8h1.0v1.0h-1.0zM49.8 167.8h1.0v1.0h-1.0zM55.2 145.8h1.0v1.0h-1.0zM51.9 154.2h1.0v1.0h-1.0zM60.9 159.7h1.0v1.0h-1.0zM60.1 170.8h1.0v1.0h-1.0zM47.5 196.1h1.0v1.0h-1.0zM54.5 149.8h1.0v1.0h-1.0zM49.1 158.6h1.0v1.0h-1.0zM53.8 151.6h1.0v1.0h-1.0zM63.1 162.5h1.0v1.0h-1.0zM61.3 148.3h1.0v1.0h-1.0zM75.0 191.8h1.0v1.0h-1.0zM81.4 135.0h1.0v1.0h-1.0zM80.7 137.2h1.0v1.0h-1.0zM52.7 183.1h1.0v1.0h-1.0zM55.5 192.9h1.0v1.0h-1.0zM67.1 160.2h1.0v1.0h-1.0zM74.5 144.4h1.0v1.0h-1.0zM72.5 118.9h1.0v1.0h-1.0zM54.5 187.3h1.0v1.0h-1.0zM55.9 154.8h1.0v1.0h-1.0zM47.3 159.6h1.0v1.0h-1.0zM65.7 187.7h1.0v1.0h-1.0zM61.5 139.2h1.0v1.0h-1.0zM57.1 162.9h1.0v1.0h-1.0zM85.2 197.1h1.0v1.0h-1.0zM46.9 175.0h1.0v1.0h-1.0zM52.1 191.6h1.0v1.0h-1.0zM62.7 144.7h1.0v1.0h-1.0zM58.0 144.8h1.0v1.0h-1.0zM52.6 196.2h1.0v1.0h-1.0zM58.1 140.6h1.0v1.0h-1.0zM62.7 131.4h1.0v1.0h-1.0zM47.4 166.1h1.0v1.0h-1.0zM62.8 153.4h1.0v1.0h-1.0zM62.7 165.4h1.0v1.0h-1.0zM56.8 187.0h1.0v1.0h-1.0zM51.9 143.3h1.0v1.0h-1.0zM61.1 186.5h1.0v1.0h-1.0zM89.9 201.1h1.0v1.0h-1.0zM92.0 144.4h1.0v1.0h-1.0zM68.0 171.7h1.0v1.0h-1.0zM56.4 165.4h1.0v1.0h-1.0zM55.5 169.5h1.0v1.0h-1.0zM58.8 181.2h1.0v1.0h-1.0zM101.6 136.5h1.0v1.0h-1.0zM67.6 185.0h1.0v1.0h-1.0zM59.9 135.6h1.0v1.0h-1.0zM51.3 141.0h1.0v1.0h-1.0zM59.4 171.6h1.0v1.0h-1.0zM52.9 141.0h1.0v1.0h-1.0zM97.8 139.9h1.0v1.0h-1.0zM57.0 161.3h1.0v1.0h-1.0zM53.4 185.2h1.0v1.0h-1.0zM62.3 187.7h1.0v1.0h-1.0zM77.4 187.7h1.0v1.0h-1.0zM63.5 140.5h1.0v1.0h-1.0zM70.6 147.6h1.0v1.0h-1.0zM62.3 169.5h1.0v1.0h-1.0zM51.0 194.1h1.0v1.0h-1.0zM61.0 155.7h1.0v1.0h-1.0zM80.6 137.4h1.0v1.0h-1.0zM64.4 145.3h1.0v1.0h-1.0zM54.7 175.2h1.0v1.0h-1.0zM65.0 140.4h1.0v1.0h-1.0zM70.0 157.3h1.0v1.0h-1.0zM55.4 168.3h1.0v1.0h-1.0zM61.7 137.2h1.0v1.0h-1.0zM50.0 195.1h1.0v1.0h-1.0zM65.9 133.2h1.0v1.0h-1.0zM63.3 143.6h1.0v1.0h-1.0zM54.4 194.5h1.0v1.0h-1.0zM70.7 134.5h1.0v1.0h-1.0zM60.9 158.7h1.0v1.0h-1.0zM63.8 155.8h1.0v1.0h-1.0zM48.8 135.6h1.0v1.0h-1.0zM78.1 194.9h1.0v1.0h-1.0zM52.3 178.0h1.0v1.0h-1.0zM55.3 180.3h1.0v1.0h-1.0zM50.9 138.3h1.0v1.0h-1.0zM65.8 170.9h1.0v1.0h-1.0zM47.8 119.3h1.0v1.0h-1.0zM99.6 136.8h1.0v1.0h-1.0zM87.9 138.4h1.0v1.0h-1.0zM55.4 200.3h1.0v1.0h-1.0zM92.2 145.8h1.0v1.0h-1.0zM49.5 199.9h1.0v1.0h-1.0zM46.7 140.8h1.0v1.0h-1.0zM67.5 138.1h1.0v1.0h-1.0zM65.6 140.6h1.0v1.0h-1.0zM71.0 187.5h1.0v1.0h-1.0zM91.2 147.1h1.0v1.0h-1.0zM60.5 147.7h1.0v1.0h-1.0zM77.5 136.0h1.0v1.0h-1.0zM67.7 158.4h1.0v1.0h-1.0zM51.0 177.6h1.0v1.0h-1.0zM47.6 174.2h1.0v1.0h-1.0zM53.6 194.7h1.0v1.0h-1.0zM52.1 162.1h1.0v1.0h-1.0zM48.5 142.7h1.0v1.0h-1.0zM53.5 190.0h1.0v1.0h-1.0zM68.4 153.1h1.0v1.0h-1.0zM55.0 189.5h1.0v1.0h-1.0zM55.0 200.4h1.0v1.0h-1.0zM71.9 173.5h1.0v1.0h-1.0zM56.1 145.2h1.0v1.0h-1.0zM52.6 171.5h1.0v1.0h-1.0zM50.7 175.3h1.0v1.0h-1.0zM53.1 195.6h1.0v1.0h-1.0zM97.6 141.8h1.0v1.0h-1.0zM61.0 186.1h1.0v1.0h-1.0zM90.7 136.8h1.0v1.0h-1.0zM61.5 194.7h1.0v1.0h-1.0zM61.1 189.0h1.0v1.0h-1.0zM90.9 140.8h1.0v1.0h-1.0zM63.3 126.1h1.0v1.0h-1.0zM52.1 181.0h1.0v1.0h-1.0zM81.9 158.8h1.0v1.0h-1.0zM56.4 175.4h1.0v1.0h-1.0zM56.5 163.5h1.0v1.0h-1.0zM105.4 136.2h1.0v1.0h-1.0zM61.2 157.5h1.0v1.0h-1.0zM53.1 190.3h1.0v1.0h-1.0zM49.8 185.7h1.0v1.0h-1.0zM66.5 151.4h1.0v1.0h-1.0zM61.6 168.1h1.0v1.0h-1.0zM62.8 170.9h1.0v1.0h-1.0zM50.7 173.8h1.0v1.0h-1.0zM49.5 123.8h1.0v1.0h-1.0zM62.0 188.4h1.0v1.0h-1.0zM62.2 181.5h1.0v1.0h-1.0zM99.9 145.4h1.0v1.0h-1.0zM61.7 133.1h1.0v1.0h-1.0zM54.9 172.1h1.0v1.0h-1.0zM71.4 176.0h1.0v1.0h-1.0zM90.7 141.1h1.0v1.0h-1.0zM83.9 139.4h1.0v1.0h-1.0zM62.4 195.7h1.0v1.0h-1.0zM83.1 188.3h1.0v1.0h-1.0zM77.7 118.7h1.0v1.0h-1.0zM64.6 153.0h1.0v1.0h-1.0zM57.9 149.1h1.0v1.0h-1.0zM55.9 197.9h1.0v1.0h-1.0zM56.0 196.8h1.0v1.0h-1.0zM72.3 143.8h1.0v1.0h-1.0zM59.2 144.1h1.0v1.0h-1.0zM65.3 154.1h1.0v1.0h-1.0zM48.1 176.3h1.0v1.0h-1.0zM61.5 154.1h1.0v1.0h-1.0zM50.1 142.2h1.0v1.0h-1.0zM61.9 167.6h1.0v1.0h-1.0zM64.2 139.5h1.0v1.0h-1.0zM77.4 142.0h1.0v1.0h-1.0zM50.3 136.9h1.0v1.0h-1.0zM52.5 134.0h1.0v1.0h-1.0zM54.2 190.2h1.0v1.0h-1.0zM60.7 198.7h1.0v1.0h-1.0zM55.6 164.3h1.0v1.0h-1.0zM54.0 171.1h1.0v1.0h-1.0zM69.3 140.4h1.0v1.0h-1.0zM59.5 136.2h1.0v1.0h-1.0zM93.8 137.1h1.0v1.0h-1.0zM58.1 153.4h1.0v1.0h-1.0zM53.4 163.2h1.0v1.0h-1.0zM48.6 196.7h1.0v1.0h-1.0zM67.0 200.2h1.0v1.0h-1.0zM98.2 143.6h1.0v1.0h-1.0zM50.2 182.3h1.0v1.0h-1.0zM54.8 154.0h1.0v1.0h-1.0zM62.4 165.6h1.0v1.0h-1.0zM61.2 140.9h1.0v1.0h-1.0zM50.9 146.1h1.0v1.0h-1.0zM57.0 145.5h1.0v1.0h-1.0zM47.8 195.1h1.0v1.0h-1.0zM54.4 150.7h1.0v1.0h-1.0zM63.2 186.5h1.0v1.0h-1.0zM54.1 191.7h1.0v1.0h-1.0zM48.0 163.4h1.0v1.0h-1.0zM61.4 185.4h1.0v1.0h-1.0zM57.3 156.6h1.0v1.0h-1.0zM58.3 134.2h1.0v1.0h-1.0zM52.2 153.4h1.0v1.0h-1.0zM56.3 186.6h1.0v1.0h-1.0zM70.2 135.8h1.0v1.0h-1.0zM55.3 186.7h1.0v1.0h-1.0zM58.8 153.9h1.0v1.0h-1.0zM77.7 142.0h1.0v1.0h-1.0zM60.9 198.9h1.0v1.0h-1.0zM56.7 133.2h1.0v1.0h-1.0zM55.6 145.6h1.0v1.0h-1.0zM47.3 185.9h1.0v1.0h-1.0zM54.8 143.9h1.0v1.0h-1.0zM70.4 169.0h1.0v1.0h-1.0zM52.8 119.6h1.0v1.0h-1.0zM58.9 163.6h1.0v1.0h-1.0zM64.5 193.4h1.0v1.0h-1.0zM57.1 136.7h1.0v1.0h-1.0zM55.9 162.8h1.0v1.0h-1.0zM55.9 163.1h1.0v1.0h-1.0zM57.2 190.3h1.0v1.0h-1.0zM57.8 181.7h1.0v1.0h-1.0zM57.2 174.5h1.0v1.0h-1.0zM48.8 128.4h1.0v1.0h-1.0zM60.1 153.9h1.0v1.0h-1.0zM57.8 143.1h1.0v1.0h-1.0zM48.4 171.6h1.0v1.0h-1.0zM56.7 139.0h1.0v1.0h-1.0zM60.5 168.9h1.0v1.0h-1.0zM62.2 173.1h1.0v1.0h-1.0zM47.0 181.3h1.0v1.0h-1.0zM61.9 148.7h1.0v1.0h-1.0zM49.6 165.2h1.0v1.0h-1.0zM55.4 164.7h1.0v1.0h-1.0zM59.1 183.5h1.0v1.0h-1.0zM91.1 141.6h1.0v1.0h-1.0zM48.5 140.5h1.0v1.0h-1.0zM68.2 164.2h1.0v1.0h-1.0zM51.0 141.2h1.0v1.0h-1.0zM51.6 193.5h1.0v1.0h-1.0zM53.8 134.1h1.0v1.0h-1.0zM61.3 178.7h1.0v1.0h-1.0zM53.9 144.6h1.0v1.0h-1.0zM76.4 141.3h1.0v1.0h-1.0zM48.9 120.8h1.0v1.0h-1.0zM89.7 139.8h1.0v1.0h-1.0zM51.4 142.7h1.0v1.0h-1.0zM59.5 188.8h1.0v1.0h-1.0zM49.5 142.5h1.0v1.0h-1.0zM49.4 136.6h1.0v1.0h-1.0zM56.2 160.7h1.0v1.0h-1.0zM46.9 153.3h1.0v1.0h-1.0zM51.4 155.6h1.0v1.0h-1.0zM77.2 146.1h1.0v1.0h-1.0zM54.7 129.2h1.0v1.0h-1.0zM70.9 141.0h1.0v1.0h-1.0zM55.0 184.7h1.0v1.0h-1.0zM62.9 149.7h1.0v1.0h-1.0zM70.8 178.9h1.0v1.0h-1.0zM72.4 156.8h1.0v1.0h-1.0zM94.9 140.0h1.0v1.0h-1.0zM92.3 141.8h1.0v1.0h-1.0zM83.7 142.0h1.0v1.0h-1.0zM76.2 138.9h1.0v1.0h-1.0zM59.3 139.9h1.0v1.0h-1.0zM62.0 140.2h1.0v1.0h-1.0zM58.4 176.1h1.0v1.0h-1.0zM82.2 153.5h1.0v1.0h-1.0zM65.7 166.8h1.0v1.0h-1.0zM50.0 172.4h1.0v1.0h-1.0zM57.8 178.9h1.0v1.0h-1.0zM59.9 179.4h1.0v1.0h-1.0zM59.3 197.6h1.0v1.0h-1.0zM94.5 140.6h1.0v1.0h-1.0zM59.1 178.5h1.0v1.0h-1.0zM52.0 157.3h1.0v1.0h-1.0zM71.4 139.7h1.0v1.0h-1.0zM48.8 150.2h1.0v1.0h-1.0zM55.8 185.7h1.0v1.0h-1.0zM62.1 188.0h1.0v1.0h-1.0zM52.7 172.2h1.0v1.0h-1.0zM57.9 176.1h1.0v1.0h-1.0zM49.2 132.7h1.0v1.0h-1.0zM55.1 135.5h1.0v1.0h-1.0zM67.9 130.3h1.0v1.0h-1.0zM53.5 190.0h1.0v1.0h-1.0zM59.4 161.1h1.0v1.0h-1.0zM56.5 189.6h1.0v1.0h-1.0zM53.0 133.6h1.0v1.0h-1.0zM76.8 141.5h1.0v1.0h-1.0zM91.7 135.7h1.0v1.0h-1.0zM63.1 180.0h1.0v1.0h-1.0zM54.8 200.0h1.0v1.0h-1.0zM58.5 162.0h1.0v1.0h-1.0zM80.7 141.6h1.0v1.0h-1.0zM66.5 201.1h1.0v1.0h-1.0zM78.8 119.9h1.0v1.0h-1.0zM62.6 171.5h1.0v1.0h-1.0zM62.1 177.1h1.0v1.0h-1.0zM58.4 174.2h1.0v1.0h-1.0zM46.9 139.5h1.0v1.0h-1.0zM67.7 141.1h1.0v1.0h-1.0zM50.3 197.2h1.0v1.0h-1.0zM101.2 143.0h1.0v1.0h-1.0zM80.5 182.1h1.0v1.0h-1.0zM46.6 135.7h1.0v1.0h-1.0zM62.9 198.3h1.0v1.0h-1.0zM53.8 142.9h1.0v1.0h-1.0zM48.4 187.7h1.0v1.0h-1.0zM70.6 142.2h1.0v1.0h-1.0zM72.2 141.0h1.0v1.0h-1.0zM69.7 148.8h1.0v1.0h-1.0zM62.8 172.0h1.0v1.0h-1.0zM58.2 174.5h1.0v1.0h-1.0zM94.5 136.8h1.0v1.0h-1.0zM51.5 185.5h1.0v1.0h-1.0zM56.6 197.9h1.0v1.0h-1.0zM58.0 183.8h1.0v1.0h-1.0zM49.3 200.6h1.0v1.0h-1.0zM49.2 171.7h1.0v1.0h-1.0zM61.9 164.3h1.0v1.0h-1.0zM95.6 135.7h1.0v1.0h-1.0zM58.3 140.4h1.0v1.0h-1.0zM64.2 143.2h1.0v1.0h-1.0zM64.7 160.4h1.0v1.0h-1.0zM69.5 141.7h1.0v1.0h-1.0zM56.8 184.7h1.0v1.0h-1.0zM52.2 195.0h1.0v1.0h-1.0zM67.6 152.1h1.0v1.0h-1.0zM61.0 197.4h1.0v1.0h-1.0zM48.3 136.9h1.0v1.0h-1.0zM53.5 186.2h1.0v1.0h-1.0zM57.2 161.7h1.0v1.0h-1.0zM54.2 185.8h1.0v1.0h-1.0zM64.3 137.6h1.0v1.0h-1.0zM65.7 177.7h1.0v1.0h-1.0zM55.3 189.4h1.0v1.0h-1.0zM56.6 185.0h1.0v1.0h-1.0zM77.8 142.3h1.0v1.0h-1.0zM59.3 151.7h1.0v1.0h-1.0zM79.4 192.1h1.0v1.0h-1.0zM66.8 137.3h1.0v1.0h-1.0zM70.6 188.6h1.0v1.0h-1.0zM58.7 191.3h1.0v1.0h-1.0zM52.1 182.5h1.0v1.0h-1.0zM76.6 139.7h1.0v1.0h-1.0zM51.6 184.5h1.0v1.0h-1.0zM68.5 173.7h1.0v1.0h-1.0zM66.1 142.4h1.0v1.0h-1.0zM50.1 189.7h1.0v1.0h-1.0zM65.1 140.2h1.0v1.0h-1.0zM71.5 171.9h1.0v1.0h-1.0zM65.0 148.3h1.0v1.0h-1.0zM88.8 137.5h1.0v1.0h-1.0zM61.8 137.3h1.0v1.0h-1.0zM85.6 139.5h1.0v1.0h-1.0zM89.8 191.5h1.0v1.0h-1.0zM57.8 178.1h1.0v1.0h-1.0zM52.8 172.5h1.0v1.0h-1.0zM50.7 146.9h1.0v1.0h-1.0zM51.7 145.0h1.0v1.0h-1.0zM60.9 188.8h1.0v1.0h-1.0zM55.1 147.1h1.0v1.0h-1.0zM63.0 168.6h1.0v1.0h-1.0zM67.5 138.5h1.0v1.0h-1.0zM51.7 141.9h1.0v1.0h-1.0zM87.8 138.4h1.0v1.0h-1.0zM56.7 194.4h1.0v1.0h-1.0zM65.9 117.6h1.0v1.0h-1.0zM59.2 135.4h1.0v1.0h-1.0zM74.8 144.3h1.0v1.0h-1.0zM52.1 194.0h1.0v1.0h-1.0zM58.9 184.3h1.0v1.0h-1.0zM69.0 136.5h1.0v1.0h-1.0zM49.3 167.1h1.0v1.0h-1.0zM56.1 165.0h1.0v1.0h-1.0zM50.5 140.7h1.0v1.0h-1.0zM72.9 178.7h1.0v1.0h-1.0zM48.9 171.2h1.0v1.0h-1.0zM52.2 179.7h1.0v1.0h-1.0zM54.0 165.9h1.0v1.0h-1.0zM71.8 138.8h1.0v1.0h-1.0zM52.4 133.1h1.0v1.0h-1.0zM49.1 181.5h1.0v1.0h-1.0zM54.9 157.2h1.0v1.0h-1.0zM72.8 164.5h1.0v1.0h-1.0zM49.2 143.4h1.0v1.0h-1.0zM61.1 198.2h1.0v1.0h-1.0zM68.1 137.1h1.0v1.0h-1.0zM52.8 125.0h1.0v1.0h-1.0zM51.6 146.7h1.0v1.0h-1.0zM58.1 154.7h1.0v1.0h-1.0zM51.2 167.2h1.0v1.0h-1.0zM48.7 162.7h1.0v1.0h-1.0zM79.7 143.1h1.0v1.0h-1.0zM61.1 194.4h1.0v1.0h-1.0zM70.9 138.8h1.0v1.0h-1.0zM51.3 194.9h1.0v1.0h-1.0zM70.5 179.9h1.0v1.0h-1.0zM69.2 148.3h1.0v1.0h-1.0zM56.4 168.4h1.0v1.0h-1.0zM55.4 173.4h1.0v1.0h-1.0zM67.7 189.5h1.0v1.0h-1.0zM53.0 154.1h1.0v1.0h-1.0zM76.6 160.6h1.0v1.0h-1.0zM48.3 177.7h1.0v1.0h-1.0zM64.3 183.6h1.0v1.0h-1.0zM61.6 169.2h1.0v1.0h-1.0zM53.0 146.1h1.0v1.0h-1.0zM50.8 133.8h1.0v1.0h-1.0zM49.7 201.3h1.0v1.0h-1.0zM80.4 136.5h1.0v1.0h-1.0zM62.6 154.4h1.0v1.0h-1.0zM53.2 195.9h1.0v1.0h-1.0zM61.0 153.4h1.0v1.0h-1.0zM66.3 117.6h1.0v1.0h-1.0zM61.9 180.3h1.0v1.0h-1.0zM63.6 137.6h1.0v1.0h-1.0zM50.9 179.5h1.0v1.0h-1.0zM56.7 173.8h1.0v1.0h-1.0zM55.8 163.2h1.0v1.0h-1.0zM54.2 183.5h1.0v1.0h-1.0zM101.9 136.3h1.0v1.0h-1.0zM108.2 142.2h1.0v1.0h-1.0zM110.7 140.1h1.0v1.0h-1.0zM61.4 138.1h1.0v1.0h-1.0zM56.5 153.4h1.0v1.0h-1.0zM84.1 142.8h1.0v1.0h-1.0zM70.6 179.9h1.0v1.0h-1.0zM81.6 154.1h1.0v1.0h-1.0zM53.5 151.0h1.0v1.0h-1.0zM78.2 146.4h1.0v1.0h-1.0zM52.1 164.6h1.0v1.0h-1.0zM68.8 158.8h1.0v1.0h-1.0zM61.4 194.6h1.0v1.0h-1.0zM57.4 155.9h1.0v1.0h-1.0zM48.4 197.8h1.0v1.0h-1.0zM86.5 140.8h1.0v1.0h-1.0zM60.3 132.1h1.0v1.0h-1.0zM61.5 157.9h1.0v1.0h-1.0zM76.8 197.0h1.0v1.0h-1.0zM57.2 192.3h1.0v1.0h-1.0zM52.8 139.0h1.0v1.0h-1.0zM55.8 193.4h1.0v1.0h-1.0zM53.3 173.5h1.0v1.0h-1.0zM56.2 137.6h1.0v1.0h-1.0zM49.8 166.1h1.0v1.0h-1.0zM48.0 146.6h1.0v1.0h-1.0zM59.8 190.8h1.0v1.0h-1.0zM61.6 148.2h1.0v1.0h-1.0zM62.3 165.9h1.0v1.0h-1.0zM49.7 174.4h1.0v1.0h-1.0zM95.5 141.2h1.0v1.0h-1.0zM47.2 178.1h1.0v1.0h-1.0zM59.7 185.8h1.0v1.0h-1.0zM47.6 141.1h1.0v1.0h-1.0zM46.9 144.3h1.0v1.0h-1.0zM57.8 189.4h1.0v1.0h-1.0zM70.2 195.7h1.0v1.0h-1.0zM50.6 186.3h1.0v1.0h-1.0zM48.1 164.8h1.0v1.0h-1.0zM47.5 141.3h1.0v1.0h-1.0zM56.0 185.0h1.0v1.0h-1.0zM59.7 153.3h1.0v1.0h-1.0zM59.0 155.0h1.0v1.0h-1.0zM103.6 143.6h1.0v1.0h-1.0zM63.9 194.5h1.0v1.0h-1.0zM78.7 144.8h1.0v1.0h-1.0zM65.7 180.3h1.0v1.0h-1.0zM56.0 155.5h1.0v1.0h-1.0zM47.2 133.5h1.0v1.0h-1.0zM106.2 133.5h1.0v1.0h-1.0zM57.2 193.0h1.0v1.0h-1.0zM67.0 142.2h1.0v1.0h-1.0zM68.3 178.1h1.0v1.0h-1.0zM61.4 192.0h1.0v1.0h-1.0zM59.7 170.0h1.0v1.0h-1.0zM64.0 160.9h1.0v1.0h-1.0zM57.2 181.3h1.0v1.0h-1.0zM58.0 177.8h1.0v1.0h-1.0zM51.1 134.8h1.0v1.0h-1.0zM55.7 134.5h1.0v1.0h-1.0zM55.4 190.9h1.0v1.0h-1.0zM59.4 151.2h1.0v1.0h-1.0zM70.0 168.7h1.0v1.0h-1.0zM51.3 196.6h1.0v1.0h-1.0zM74.6 200.0h1.0v1.0h-1.0zM61.5 200.0h1.0v1.0h-1.0zM63.8 200.5h1.0v1.0h-1.0zM61.1 166.5h1.0v1.0h-1.0zM50.4 120.0h1.0v1.0h-1.0zM89.0 147.8h1.0v1.0h-1.0zM54.2 138.5h1.0v1.0h-1.0zM70.3 146.8h1.0v1.0h-1.0zM73.6 177.3h1.0v1.0h-1.0zM63.5 167.9h1.0v1.0h-1.0zM56.3 178.0h1.0v1.0h-1.0zM54.4 180.5h1.0v1.0h-1.0zM66.6 172.3h1.0v1.0h-1.0zM69.3 144.1h1.0v1.0h-1.0zM54.8 184.3h1.0v1.0h-1.0zM76.3 133.3h1.0v1.0h-1.0zM82.8 192.8h1.0v1.0h-1.0zM58.4 171.3h1.0v1.0h-1.0zM59.5 138.8h1.0v1.0h-1.0zM60.1 172.0h1.0v1.0h-1.0zM62.0 174.7h1.0v1.0h-1.0zM58.7 201.3h1.0v1.0h-1.0zM64.3 162.7h1.0v1.0h-1.0zM55.0 192.2h1.0v1.0h-1.0zM60.1 174.7h1.0v1.0h-1.0zM56.7 194.8h1.0v1.0h-1.0zM50.9 184.2h1.0v1.0h-1.0zM83.2 142.6h1.0v1.0h-1.0zM48.5 134.6h1.0v1.0h-1.0zM63.8 132.4h1.0v1.0h-1.0zM62.0 183.1h1.0v1.0h-1.0zM81.4 139.0h1.0v1.0h-1.0zM106.5 138.1h1.0v1.0h-1.0zM51.5 177.2h1.0v1.0h-1.0zM77.6 143.3h1.0v1.0h-1.0zM54.3 200.4h1.0v1.0h-1.0zM55.3 132.7h1.0v1.0h-1.0zM53.5 188.4h1.0v1.0h-1.0zM81.0 142.0h1.0v1.0h-1.0zM53.9 198.1h1.0v1.0h-1.0zM60.8 192.9h1.0v1.0h-1.0zM78.9 137.7h1.0v1.0h-1.0zM70.2 143.4h1.0v1.0h-1.0zM50.8 140.6h1.0v1.0h-1.0zM48.9 164.0h1.0v1.0h-1.0zM81.9 139.4h1.0v1.0h-1.0zM52.0 133.8h1.0v1.0h-1.0zM47.2 150.6h1.0v1.0h-1.0zM64.7 192.7h1.0v1.0h-1.0zM59.8 171.7h1.0v1.0h-1.0zM79.4 170.3h1.0v1.0h-1.0zM59.3 193.5h1.0v1.0h-1.0zM61.5 178.8h1.0v1.0h-1.0zM83.6 143.1h1.0v1.0h-1.0zM66.4 134.2h1.0v1.0h-1.0zM64.1 147.5h1.0v1.0h-1.0zM80.2 140.4h1.0v1.0h-1.0zM48.2 133.7h1.0v1.0h-1.0zM62.7 185.5h1.0v1.0h-1.0zM72.3 193.1h1.0v1.0h-1.0zM65.3 166.8h1.0v1.0h-1.0zM49.3 168.4h1.0v1.0h-1.0zM113.5 138.2h1.0v1.0h-1.0zM63.2 163.6h1.0v1.0h-1.0zM80.1 198.3h1.0v1.0h-1.0zM70.6 140.4h1.0v1.0h-1.0zM89.7 134.3h1.0v1.0h-1.0zM57.2 160.2h1.0v1.0h-1.0zM69.8 136.5h1.0v1.0h-1.0zM57.3 166.6h1.0v1.0h-1.0zM52.1 159.7h1.0v1.0h-1.0zM98.2 141.7h1.0v1.0h-1.0zM52.7 192.2h1.0v1.0h-1.0zM61.1 199.0h1.0v1.0h-1.0zM64.7 165.9h1.0v1.0h-1.0zM51.7 147.0h1.0v1.0h-1.0zM64.1 142.7h1.0v1.0h-1.0zM51.8 171.0h1.0v1.0h-1.0zM57.2 194.8h1.0v1.0h-1.0zM54.6 153.8h1.0v1.0h-1.0zM56.8 189.7h1.0v1.0h-1.0zM55.1 168.3h1.0v1.0h-1.0zM53.8 195.1h1.0v1.0h-1.0zM79.5 140.7h1.0v1.0h-1.0zM55.8 138.3h1.0v1.0h-1.0zM55.0 140.0h1.0v1.0h-1.0zM56.2 131.3h1.0v1.0h-1.0zM60.6 170.6h1.0v1.0h-1.0zM50.9 155.2h1.0v1.0h-1.0zM48.5 163.6h1.0v1.0h-1.0zM60.5 131.0h1.0v1.0h-1.0zM56.6 196.3h1.0v1.0h-1.0zM54.9 177.4h1.0v1.0h-1.0z" fill="#8891b0" opacity="0.65"/>
<path d="M64.9 134.1h1.0v1.0h-1.0zM78.6 134.0h1.0v1.0h-1.0zM80.3 136.1h1.0v1.0h-1.0zM101.8 143.5h1.0v1.0h-1.0zM65.0 182.4h1.0v1.0h-1.0zM72.3 174.9h1.0v1.0h-1.0zM63.0 196.3h1.0v1.0h-1.0zM74.0 143.3h1.0v1.0h-1.0zM52.7 136.9h1.0v1.0h-1.0zM53.5 172.9h1.0v1.0h-1.0zM58.4 186.9h1.0v1.0h-1.0zM77.9 171.1h1.0v1.0h-1.0zM64.6 195.6h1.0v1.0h-1.0zM50.3 197.8h1.0v1.0h-1.0zM49.6 147.2h1.0v1.0h-1.0zM89.0 182.7h1.0v1.0h-1.0zM80.0 172.7h1.0v1.0h-1.0zM52.2 196.5h1.0v1.0h-1.0zM48.5 194.1h1.0v1.0h-1.0zM70.8 133.0h1.0v1.0h-1.0zM47.0 167.7h1.0v1.0h-1.0zM57.8 192.2h1.0v1.0h-1.0zM55.7 161.3h1.0v1.0h-1.0zM78.5 141.2h1.0v1.0h-1.0zM82.8 182.3h1.0v1.0h-1.0zM84.1 153.7h1.0v1.0h-1.0zM79.2 193.2h1.0v1.0h-1.0zM63.4 161.3h1.0v1.0h-1.0zM59.2 140.4h1.0v1.0h-1.0zM117.0 136.1h1.0v1.0h-1.0zM51.9 180.1h1.0v1.0h-1.0zM61.1 171.0h1.0v1.0h-1.0zM77.0 197.4h1.0v1.0h-1.0zM48.7 198.6h1.0v1.0h-1.0zM49.4 150.2h1.0v1.0h-1.0zM47.9 165.7h1.0v1.0h-1.0zM70.2 138.4h1.0v1.0h-1.0zM78.4 140.5h1.0v1.0h-1.0zM50.4 165.3h1.0v1.0h-1.0zM69.1 182.7h1.0v1.0h-1.0zM74.6 173.4h1.0v1.0h-1.0zM47.1 147.8h1.0v1.0h-1.0zM75.1 172.3h1.0v1.0h-1.0zM85.2 149.2h1.0v1.0h-1.0zM60.3 149.3h1.0v1.0h-1.0zM47.8 155.1h1.0v1.0h-1.0zM74.5 144.5h1.0v1.0h-1.0zM48.3 173.4h1.0v1.0h-1.0zM114.9 152.4h1.0v1.0h-1.0zM63.7 182.5h1.0v1.0h-1.0zM63.4 199.1h1.0v1.0h-1.0zM48.3 195.7h1.0v1.0h-1.0zM48.8 133.8h1.0v1.0h-1.0zM52.9 148.2h1.0v1.0h-1.0zM64.1 164.8h1.0v1.0h-1.0zM49.0 146.4h1.0v1.0h-1.0zM86.0 197.5h1.0v1.0h-1.0zM66.5 189.6h1.0v1.0h-1.0zM69.5 149.1h1.0v1.0h-1.0zM58.9 155.3h1.0v1.0h-1.0zM56.9 153.5h1.0v1.0h-1.0zM101.1 146.1h1.0v1.0h-1.0zM80.3 135.7h1.0v1.0h-1.0zM46.5 180.6h1.0v1.0h-1.0zM60.8 177.4h1.0v1.0h-1.0zM50.8 194.1h1.0v1.0h-1.0zM73.4 125.0h1.0v1.0h-1.0zM57.1 169.0h1.0v1.0h-1.0zM78.2 181.4h1.0v1.0h-1.0zM97.9 191.1h1.0v1.0h-1.0zM94.8 198.9h1.0v1.0h-1.0zM68.4 134.2h1.0v1.0h-1.0zM51.5 185.2h1.0v1.0h-1.0zM59.8 152.0h1.0v1.0h-1.0zM70.1 156.0h1.0v1.0h-1.0zM70.3 138.8h1.0v1.0h-1.0zM47.6 143.4h1.0v1.0h-1.0zM83.2 132.9h1.0v1.0h-1.0zM81.2 200.6h1.0v1.0h-1.0zM72.7 123.0h1.0v1.0h-1.0zM51.5 149.7h1.0v1.0h-1.0zM57.6 144.8h1.0v1.0h-1.0zM85.2 150.4h1.0v1.0h-1.0zM86.1 137.6h1.0v1.0h-1.0zM71.5 151.7h1.0v1.0h-1.0zM61.3 160.4h1.0v1.0h-1.0zM81.5 163.2h1.0v1.0h-1.0zM124.6 172.1h1.0v1.0h-1.0zM126.3 192.7h1.0v1.0h-1.0zM75.5 183.5h1.0v1.0h-1.0zM62.9 143.0h1.0v1.0h-1.0zM66.0 172.9h1.0v1.0h-1.0zM125.4 151.1h1.0v1.0h-1.0zM102.2 171.8h1.0v1.0h-1.0zM60.7 149.3h1.0v1.0h-1.0zM66.7 141.8h1.0v1.0h-1.0zM62.1 153.1h1.0v1.0h-1.0zM62.3 144.0h1.0v1.0h-1.0zM67.9 152.3h1.0v1.0h-1.0zM83.9 196.3h1.0v1.0h-1.0zM48.9 173.6h1.0v1.0h-1.0zM89.5 146.9h1.0v1.0h-1.0zM61.0 175.9h1.0v1.0h-1.0zM82.6 144.6h1.0v1.0h-1.0zM49.5 180.3h1.0v1.0h-1.0zM56.3 142.9h1.0v1.0h-1.0zM68.0 174.3h1.0v1.0h-1.0zM118.7 144.5h1.0v1.0h-1.0zM52.3 151.2h1.0v1.0h-1.0zM65.1 139.7h1.0v1.0h-1.0zM51.1 163.6h1.0v1.0h-1.0zM87.3 195.2h1.0v1.0h-1.0zM131.1 183.5h1.0v1.0h-1.0zM49.3 164.2h1.0v1.0h-1.0zM84.5 142.4h1.0v1.0h-1.0zM60.6 160.5h1.0v1.0h-1.0zM88.4 193.5h1.0v1.0h-1.0zM60.4 184.4h1.0v1.0h-1.0zM52.3 161.0h1.0v1.0h-1.0zM59.3 196.5h1.0v1.0h-1.0zM56.1 156.7h1.0v1.0h-1.0zM76.2 192.4h1.0v1.0h-1.0zM61.5 194.9h1.0v1.0h-1.0zM71.4 171.6h1.0v1.0h-1.0zM63.2 161.0h1.0v1.0h-1.0zM54.7 179.7h1.0v1.0h-1.0zM50.3 144.7h1.0v1.0h-1.0zM64.7 171.8h1.0v1.0h-1.0zM69.6 132.8h1.0v1.0h-1.0zM76.9 181.0h1.0v1.0h-1.0zM55.5 192.4h1.0v1.0h-1.0zM64.5 169.6h1.0v1.0h-1.0zM53.8 176.2h1.0v1.0h-1.0zM77.1 171.1h1.0v1.0h-1.0zM50.1 201.5h1.0v1.0h-1.0zM81.8 155.8h1.0v1.0h-1.0zM71.4 132.7h1.0v1.0h-1.0zM46.6 191.6h1.0v1.0h-1.0zM50.6 141.8h1.0v1.0h-1.0zM53.4 182.1h1.0v1.0h-1.0zM57.6 198.3h1.0v1.0h-1.0zM76.8 180.5h1.0v1.0h-1.0zM119.5 177.8h1.0v1.0h-1.0zM53.4 178.1h1.0v1.0h-1.0zM128.6 184.1h1.0v1.0h-1.0zM52.0 184.4h1.0v1.0h-1.0zM48.7 186.2h1.0v1.0h-1.0zM56.0 118.2h1.0v1.0h-1.0zM73.8 144.2h1.0v1.0h-1.0zM47.9 188.2h1.0v1.0h-1.0zM61.5 193.3h1.0v1.0h-1.0zM47.9 187.1h1.0v1.0h-1.0zM56.7 142.0h1.0v1.0h-1.0zM75.6 144.5h1.0v1.0h-1.0zM55.5 178.3h1.0v1.0h-1.0zM55.9 166.2h1.0v1.0h-1.0zM50.6 131.1h1.0v1.0h-1.0zM109.3 198.0h1.0v1.0h-1.0zM49.9 134.3h1.0v1.0h-1.0zM80.3 178.0h1.0v1.0h-1.0zM106.2 184.2h1.0v1.0h-1.0zM54.5 135.1h1.0v1.0h-1.0zM52.0 128.5h1.0v1.0h-1.0zM46.8 170.6h1.0v1.0h-1.0zM71.5 150.1h1.0v1.0h-1.0zM64.7 196.3h1.0v1.0h-1.0zM54.2 177.1h1.0v1.0h-1.0zM60.1 141.7h1.0v1.0h-1.0zM94.9 147.8h1.0v1.0h-1.0zM56.2 171.0h1.0v1.0h-1.0zM62.4 164.2h1.0v1.0h-1.0zM55.2 158.3h1.0v1.0h-1.0zM127.1 178.3h1.0v1.0h-1.0zM125.6 150.8h1.0v1.0h-1.0zM48.1 188.8h1.0v1.0h-1.0zM129.7 134.1h1.0v1.0h-1.0zM83.4 190.8h1.0v1.0h-1.0zM47.2 182.4h1.0v1.0h-1.0zM56.1 198.4h1.0v1.0h-1.0zM100.8 160.7h1.0v1.0h-1.0zM55.4 150.8h1.0v1.0h-1.0zM111.6 177.6h1.0v1.0h-1.0zM49.2 170.0h1.0v1.0h-1.0zM56.8 140.9h1.0v1.0h-1.0zM53.5 164.1h1.0v1.0h-1.0zM101.1 148.3h1.0v1.0h-1.0zM54.7 186.4h1.0v1.0h-1.0zM63.4 139.5h1.0v1.0h-1.0zM63.8 136.8h1.0v1.0h-1.0zM71.0 194.0h1.0v1.0h-1.0zM65.5 138.4h1.0v1.0h-1.0zM52.1 174.5h1.0v1.0h-1.0zM53.4 184.6h1.0v1.0h-1.0zM57.3 158.4h1.0v1.0h-1.0zM66.4 157.3h1.0v1.0h-1.0zM65.7 167.2h1.0v1.0h-1.0zM130.6 166.8h1.0v1.0h-1.0zM54.6 189.7h1.0v1.0h-1.0zM79.6 187.2h1.0v1.0h-1.0zM63.5 154.2h1.0v1.0h-1.0zM76.6 198.4h1.0v1.0h-1.0zM84.4 152.2h1.0v1.0h-1.0zM56.5 150.2h1.0v1.0h-1.0zM58.0 167.9h1.0v1.0h-1.0zM89.3 151.2h1.0v1.0h-1.0zM75.2 179.2h1.0v1.0h-1.0zM68.5 171.7h1.0v1.0h-1.0zM119.4 200.2h1.0v1.0h-1.0zM53.5 200.9h1.0v1.0h-1.0zM71.3 189.6h1.0v1.0h-1.0zM70.0 188.5h1.0v1.0h-1.0zM74.1 175.7h1.0v1.0h-1.0zM79.9 189.7h1.0v1.0h-1.0zM51.4 140.1h1.0v1.0h-1.0zM69.9 178.5h1.0v1.0h-1.0zM50.8 180.9h1.0v1.0h-1.0zM59.1 158.5h1.0v1.0h-1.0zM65.8 160.1h1.0v1.0h-1.0zM122.7 143.4h1.0v1.0h-1.0zM49.0 173.3h1.0v1.0h-1.0zM52.2 156.5h1.0v1.0h-1.0zM47.0 193.2h1.0v1.0h-1.0zM63.2 170.4h1.0v1.0h-1.0zM76.9 145.1h1.0v1.0h-1.0zM127.9 132.7h1.0v1.0h-1.0zM118.9 191.3h1.0v1.0h-1.0zM121.0 176.8h1.0v1.0h-1.0zM78.3 169.1h1.0v1.0h-1.0zM68.4 201.4h1.0v1.0h-1.0zM98.2 170.9h1.0v1.0h-1.0zM65.2 197.5h1.0v1.0h-1.0zM86.2 164.3h1.0v1.0h-1.0zM102.8 189.6h1.0v1.0h-1.0zM79.2 163.2h1.0v1.0h-1.0zM98.5 177.6h1.0v1.0h-1.0zM55.0 132.0h1.0v1.0h-1.0zM65.3 195.2h1.0v1.0h-1.0zM58.1 198.6h1.0v1.0h-1.0zM50.5 141.2h1.0v1.0h-1.0zM67.6 153.9h1.0v1.0h-1.0zM54.7 166.4h1.0v1.0h-1.0zM81.7 163.2h1.0v1.0h-1.0zM81.3 163.8h1.0v1.0h-1.0zM64.0 134.6h1.0v1.0h-1.0zM128.2 156.5h1.0v1.0h-1.0zM51.7 144.1h1.0v1.0h-1.0zM58.9 195.3h1.0v1.0h-1.0zM64.0 133.0h1.0v1.0h-1.0zM111.5 141.9h1.0v1.0h-1.0zM98.8 151.3h1.0v1.0h-1.0zM73.6 183.5h1.0v1.0h-1.0zM76.3 140.6h1.0v1.0h-1.0zM58.4 149.0h1.0v1.0h-1.0zM112.6 195.2h1.0v1.0h-1.0zM59.0 192.6h1.0v1.0h-1.0zM55.6 138.7h1.0v1.0h-1.0zM51.2 147.8h1.0v1.0h-1.0zM70.3 135.0h1.0v1.0h-1.0zM49.2 178.6h1.0v1.0h-1.0zM74.1 182.1h1.0v1.0h-1.0zM54.7 153.9h1.0v1.0h-1.0zM57.1 149.1h1.0v1.0h-1.0zM48.1 200.3h1.0v1.0h-1.0zM56.9 184.6h1.0v1.0h-1.0zM49.2 150.2h1.0v1.0h-1.0zM57.4 173.0h1.0v1.0h-1.0zM69.0 160.0h1.0v1.0h-1.0zM67.4 192.0h1.0v1.0h-1.0zM53.2 184.6h1.0v1.0h-1.0zM67.6 122.2h1.0v1.0h-1.0zM58.1 158.2h1.0v1.0h-1.0zM91.3 165.2h1.0v1.0h-1.0zM67.4 181.0h1.0v1.0h-1.0zM60.0 178.5h1.0v1.0h-1.0zM55.8 186.9h1.0v1.0h-1.0zM71.3 142.4h1.0v1.0h-1.0zM82.3 167.4h1.0v1.0h-1.0zM55.0 182.4h1.0v1.0h-1.0zM67.8 195.2h1.0v1.0h-1.0zM60.8 177.4h1.0v1.0h-1.0zM64.1 151.3h1.0v1.0h-1.0zM74.2 173.5h1.0v1.0h-1.0zM55.2 192.6h1.0v1.0h-1.0zM62.9 169.8h1.0v1.0h-1.0zM52.8 138.7h1.0v1.0h-1.0zM55.7 180.4h1.0v1.0h-1.0zM52.0 156.8h1.0v1.0h-1.0zM47.6 200.4h1.0v1.0h-1.0zM56.1 184.1h1.0v1.0h-1.0zM120.6 155.0h1.0v1.0h-1.0zM65.7 164.2h1.0v1.0h-1.0zM64.4 171.9h1.0v1.0h-1.0zM76.9 179.1h1.0v1.0h-1.0zM52.8 198.6h1.0v1.0h-1.0zM116.5 128.3h1.0v1.0h-1.0zM54.5 188.1h1.0v1.0h-1.0zM83.0 186.3h1.0v1.0h-1.0zM79.3 147.5h1.0v1.0h-1.0zM52.8 198.3h1.0v1.0h-1.0zM55.1 144.8h1.0v1.0h-1.0z" fill="#bcc0d3" opacity="0.7"/>
<path d="M63.8 141.6h1.0v1.0h-1.0zM68.0 138.7h1.0v1.0h-1.0zM57.8 151.7h1.0v1.0h-1.0zM61.1 143.8h1.0v1.0h-1.0zM51.6 148.5h1.0v1.0h-1.0zM57.8 136.6h1.0v1.0h-1.0zM67.1 141.4h1.0v1.0h-1.0zM57.1 144.4h1.0v1.0h-1.0zM61.0 147.4h1.0v1.0h-1.0zM64.0 152.2h1.0v1.0h-1.0zM55.3 139.4h1.0v1.0h-1.0zM61.1 149.6h1.0v1.0h-1.0zM51.8 145.8h1.0v1.0h-1.0zM56.7 142.4h1.0v1.0h-1.0zM59.9 139.3h1.0v1.0h-1.0zM60.5 148.6h1.0v1.0h-1.0zM65.6 150.7h1.0v1.0h-1.0zM63.5 145.4h1.0v1.0h-1.0zM59.7 140.1h1.0v1.0h-1.0zM62.6 142.3h1.0v1.0h-1.0zM54.1 149.6h1.0v1.0h-1.0zM62.5 138.4h1.0v1.0h-1.0zM52.0 141.6h1.0v1.0h-1.0zM52.4 148.5h1.0v1.0h-1.0zM55.9 145.2h1.0v1.0h-1.0zM63.0 149.2h1.0v1.0h-1.0zM60.8 150.6h1.0v1.0h-1.0zM64.1 148.6h1.0v1.0h-1.0zM58.8 150.8h1.0v1.0h-1.0zM58.1 139.7h1.0v1.0h-1.0zM59.1 141.2h1.0v1.0h-1.0zM51.6 141.0h1.0v1.0h-1.0zM66.3 144.9h1.0v1.0h-1.0zM72.9 145.8h1.0v1.0h-1.0zM71.3 149.9h1.0v1.0h-1.0zM58.3 148.3h1.0v1.0h-1.0zM62.6 146.6h1.0v1.0h-1.0zM59.4 144.8h1.0v1.0h-1.0zM60.0 148.2h1.0v1.0h-1.0zM53.3 147.2h1.0v1.0h-1.0zM67.0 143.0h1.0v1.0h-1.0zM63.4 147.9h1.0v1.0h-1.0zM61.1 142.0h1.0v1.0h-1.0zM57.8 148.6h1.0v1.0h-1.0zM56.6 144.2h1.0v1.0h-1.0zM62.7 143.5h1.0v1.0h-1.0zM55.9 143.9h1.0v1.0h-1.0zM60.4 143.5h1.0v1.0h-1.0zM58.2 147.4h1.0v1.0h-1.0zM60.3 138.7h1.0v1.0h-1.0zM67.2 142.0h1.0v1.0h-1.0zM65.4 146.0h1.0v1.0h-1.0zM59.5 142.8h1.0v1.0h-1.0zM64.1 146.8h1.0v1.0h-1.0zM60.5 141.9h1.0v1.0h-1.0zM68.3 148.4h1.0v1.0h-1.0zM65.3 147.5h1.0v1.0h-1.0zM61.7 150.7h1.0v1.0h-1.0zM59.6 150.1h1.0v1.0h-1.0zM62.5 147.3h1.0v1.0h-1.0zM52.6 140.8h1.0v1.0h-1.0zM60.4 151.7h1.0v1.0h-1.0zM60.9 145.5h1.0v1.0h-1.0zM64.3 143.6h1.0v1.0h-1.0zM63.2 143.2h1.0v1.0h-1.0zM62.3 143.0h1.0v1.0h-1.0zM58.6 143.7h1.0v1.0h-1.0zM61.2 149.5h1.0v1.0h-1.0zM57.5 141.0h1.0v1.0h-1.0zM61.8 145.9h1.0v1.0h-1.0zM53.7 143.2h1.0v1.0h-1.0zM58.8 146.9h1.0v1.0h-1.0zM57.4 144.3h1.0v1.0h-1.0zM53.1 140.7h1.0v1.0h-1.0zM49.9 144.2h1.0v1.0h-1.0zM49.7 145.6h1.0v1.0h-1.0zM58.4 148.7h1.0v1.0h-1.0zM58.7 140.3h1.0v1.0h-1.0zM58.6 145.5h1.0v1.0h-1.0zM66.4 144.2h1.0v1.0h-1.0zM58.0 145.3h1.0v1.0h-1.0zM64.4 149.9h1.0v1.0h-1.0zM60.9 149.5h1.0v1.0h-1.0zM57.7 138.0h1.0v1.0h-1.0zM61.9 152.4h1.0v1.0h-1.0zM62.0 147.0h1.0v1.0h-1.0zM63.6 152.1h1.0v1.0h-1.0zM53.5 147.3h1.0v1.0h-1.0zM55.0 152.5h1.0v1.0h-1.0zM57.5 144.4h1.0v1.0h-1.0zM63.2 151.1h1.0v1.0h-1.0zM56.6 147.3h1.0v1.0h-1.0zM61.0 149.5h1.0v1.0h-1.0zM69.1 142.8h1.0v1.0h-1.0zM63.1 148.7h1.0v1.0h-1.0zM62.3 143.0h1.0v1.0h-1.0zM62.6 154.4h1.0v1.0h-1.0zM65.6 144.2h1.0v1.0h-1.0zM56.0 147.9h1.0v1.0h-1.0zM57.7 148.1h1.0v1.0h-1.0zM62.2 145.7h1.0v1.0h-1.0zM70.4 146.8h1.0v1.0h-1.0zM56.4 142.3h1.0v1.0h-1.0zM60.2 144.2h1.0v1.0h-1.0zM65.2 146.2h1.0v1.0h-1.0zM69.9 146.4h1.0v1.0h-1.0zM57.7 142.3h1.0v1.0h-1.0zM59.0 147.1h1.0v1.0h-1.0zM62.7 144.5h1.0v1.0h-1.0zM61.8 139.7h1.0v1.0h-1.0zM54.8 148.9h1.0v1.0h-1.0zM59.8 147.3h1.0v1.0h-1.0zM54.4 147.9h1.0v1.0h-1.0zM60.5 155.1h1.0v1.0h-1.0zM67.2 138.5h1.0v1.0h-1.0zM70.9 144.1h1.0v1.0h-1.0zM62.5 152.2h1.0v1.0h-1.0zM58.5 140.6h1.0v1.0h-1.0zM57.2 147.2h1.0v1.0h-1.0zM67.8 150.1h1.0v1.0h-1.0z" fill="#6f7a99" opacity="0.5"/>
<path d="M56.3 185.3h1.0v1.0h-1.0zM65.0 186.6h1.0v1.0h-1.0zM59.6 184.1h1.0v1.0h-1.0zM55.0 190.2h1.0v1.0h-1.0zM70.4 182.8h1.0v1.0h-1.0zM57.1 193.2h1.0v1.0h-1.0zM58.2 192.8h1.0v1.0h-1.0zM57.9 183.7h1.0v1.0h-1.0zM59.5 181.6h1.0v1.0h-1.0zM57.8 191.8h1.0v1.0h-1.0zM53.4 187.9h1.0v1.0h-1.0zM58.5 199.5h1.0v1.0h-1.0zM50.3 189.6h1.0v1.0h-1.0zM58.6 187.0h1.0v1.0h-1.0zM59.5 188.3h1.0v1.0h-1.0zM65.6 186.8h1.0v1.0h-1.0zM54.1 182.3h1.0v1.0h-1.0zM54.3 185.0h1.0v1.0h-1.0zM53.0 184.2h1.0v1.0h-1.0zM60.0 187.7h1.0v1.0h-1.0zM56.1 187.2h1.0v1.0h-1.0zM56.3 186.8h1.0v1.0h-1.0zM56.3 187.9h1.0v1.0h-1.0zM59.4 192.0h1.0v1.0h-1.0zM58.1 183.7h1.0v1.0h-1.0zM53.3 195.0h1.0v1.0h-1.0zM56.7 186.1h1.0v1.0h-1.0zM58.2 176.2h1.0v1.0h-1.0zM66.3 189.9h1.0v1.0h-1.0zM62.9 187.2h1.0v1.0h-1.0zM59.0 186.8h1.0v1.0h-1.0zM61.4 176.1h1.0v1.0h-1.0zM62.1 185.7h1.0v1.0h-1.0zM52.9 187.8h1.0v1.0h-1.0zM64.6 192.8h1.0v1.0h-1.0zM66.0 189.7h1.0v1.0h-1.0zM63.0 189.7h1.0v1.0h-1.0zM54.2 188.8h1.0v1.0h-1.0zM58.3 191.1h1.0v1.0h-1.0zM56.5 188.5h1.0v1.0h-1.0zM63.6 191.1h1.0v1.0h-1.0zM54.8 190.0h1.0v1.0h-1.0zM58.6 190.8h1.0v1.0h-1.0zM64.5 191.8h1.0v1.0h-1.0zM53.6 197.4h1.0v1.0h-1.0zM60.9 188.4h1.0v1.0h-1.0zM62.3 184.2h1.0v1.0h-1.0zM62.0 186.8h1.0v1.0h-1.0zM59.5 184.1h1.0v1.0h-1.0zM56.0 188.7h1.0v1.0h-1.0zM59.2 188.2h1.0v1.0h-1.0zM60.0 193.9h1.0v1.0h-1.0zM68.4 187.4h1.0v1.0h-1.0zM56.7 179.1h1.0v1.0h-1.0zM59.9 194.1h1.0v1.0h-1.0zM53.7 187.5h1.0v1.0h-1.0zM56.4 183.5h1.0v1.0h-1.0zM71.9 184.4h1.0v1.0h-1.0zM58.5 189.5h1.0v1.0h-1.0zM58.3 190.9h1.0v1.0h-1.0zM63.9 188.3h1.0v1.0h-1.0zM52.8 180.2h1.0v1.0h-1.0zM55.4 192.2h1.0v1.0h-1.0zM60.9 186.1h1.0v1.0h-1.0zM59.8 191.1h1.0v1.0h-1.0zM65.1 194.5h1.0v1.0h-1.0zM68.1 190.9h1.0v1.0h-1.0zM56.8 186.2h1.0v1.0h-1.0zM61.2 186.8h1.0v1.0h-1.0z" fill="#6f7d8c" opacity="0.6"/>
</g>
<g filter="url(#blur1)"><circle cx="59.5" cy="188.5" r="4" fill="#97ad5e" opacity="0.9"/></g>
</g>
<rect x="46.5" y="23.5" width="86.0" height="86.0" fill="none" stroke="#2a2a2a" stroke-width="1.6" />
<rect x="46.5" y="116.5" width="86.0" height="86.0" fill="none" stroke="#2a2a2a" stroke-width="1.6" />
<text x="50.4" y="38.1" font-family="'Liberation Serif', serif" font-size="13" stroke="#000" stroke-width="0.22" textLength="24.6" lengthAdjust="spacingAndGlyphs">Lin -</text>
<text x="51.2" y="131.8" font-family="'Liberation Serif', serif" font-size="13" stroke="#000" stroke-width="0.22" textLength="24.6" lengthAdjust="spacingAndGlyphs">Lin -</text>
<text x="95.6" y="34.3" font-family="'Liberation Serif', serif" font-size="12" stroke="#000" stroke-width="0.22" textLength="26.2" lengthAdjust="spacingAndGlyphs">4.4%</text>
<text x="94.6" y="126.4" font-family="'Liberation Serif', serif" font-size="12" stroke="#000" stroke-width="0.22" textLength="26.2" lengthAdjust="spacingAndGlyphs">5.2%</text>
<rect x="85.7" y="35.3" width="41.6" height="23.6" fill="none" stroke="#ab5096" stroke-width="1.35" />
<rect x="85.7" y="128.3" width="41.8" height="23.6" fill="none" stroke="#ab5096" stroke-width="1.35" />
<line x1="36" y1="211.4" x2="36" y2="53.4" stroke="#000" stroke-width="2" />
<path d="M31.5 58.9 L36 50.4 L40.5 58.9 L36 56.4 Z" fill="#000"/>
<line x1="35" y1="210.5" x2="103.6" y2="210.5" stroke="#000" stroke-width="2" />
<path d="M98.1 206.0 L106.6 210.5 L98.1 215.0 L100.6 210.5 Z" fill="#000"/>
<text x="109.4" y="215.6" font-family="'Liberation Serif', serif" font-size="12.5" stroke="#000" stroke-width="0.22" textLength="23" lengthAdjust="spacingAndGlyphs">Sca1</text>
<line x1="139.3" y1="46.3" x2="155" y2="46.3" stroke="#000" stroke-width="1.7" />
<path d="M152.5 43.9 L158 46.3 L152.5 48.699999999999996 L153.3 46.3 Z" fill="#000"/>
<line x1="138" y1="140.4" x2="155.5" y2="140.4" stroke="#000" stroke-width="1.7" />
<path d="M153.0 138.0 L158.5 140.4 L153.0 142.8 L153.8 140.4 Z" fill="#000"/>
<line x1="168" y1="211" x2="168" y2="47.3" stroke="#000" stroke-width="2" />
<path d="M163.5 52.8 L168 44.3 L172.5 52.8 L168 50.3 Z" fill="#000"/>
<line x1="167" y1="210.2" x2="237.6" y2="210.2" stroke="#000" stroke-width="2" />
<path d="M232.1 205.7 L240.6 210.2 L232.1 214.7 L234.6 210.2 Z" fill="#000"/>
<text x="170.4" y="40.6" font-family="'Liberation Sans', sans-serif" font-size="10" textLength="18" lengthAdjust="spacingAndGlyphs" transform="rotate(-90 170.4 40.6)">SSC</text>
<text x="241.8" y="215.4" font-family="'Liberation Serif', serif" font-size="12.5" stroke="#000" stroke-width="0.22" textLength="22.6" lengthAdjust="spacingAndGlyphs">Flk2</text>
<g filter="url(#soft)">
<path d="M207.5 93.4h1.0v1.0h-1.0zM214.7 91.2h1.0v1.0h-1.0zM209.2 88.6h1.0v1.0h-1.0zM213.2 94.3h1.0v1.0h-1.0zM199.2 88.6h1.0v1.0h-1.0zM214.3 86.1h1.0v1.0h-1.0zM217.8 89.9h1.0v1.0h-1.0zM208.4 95.6h1.0v1.0h-1.0zM218.1 90.7h1.0v1.0h-1.0zM206.2 98.1h1.0v1.0h-1.0zM213.7 97.9h1.0v1.0h-1.0zM216.3 92.7h1.0v1.0h-1.0zM206.0 99.3h1.0v1.0h-1.0zM214.4 89.3h1.0v1.0h-1.0zM205.9 89.9h1.0v1.0h-1.0zM200.5 90.6h1.0v1.0h-1.0zM214.9 88.7h1.0v1.0h-1.0zM223.4 90.6h1.0v1.0h-1.0zM212.8 102.3h1.0v1.0h-1.0zM215.4 86.7h1.0v1.0h-1.0zM201.3 88.1h1.0v1.0h-1.0zM218.5 85.1h1.0v1.0h-1.0zM218.7 81.9h1.0v1.0h-1.0zM217.7 88.3h1.0v1.0h-1.0zM209.3 93.2h1.0v1.0h-1.0zM209.9 83.6h1.0v1.0h-1.0zM209.5 91.0h1.0v1.0h-1.0zM217.0 92.7h1.0v1.0h-1.0zM208.9 88.4h1.0v1.0h-1.0zM212.2 87.4h1.0v1.0h-1.0zM219.7 89.8h1.0v1.0h-1.0zM210.0 85.3h1.0v1.0h-1.0zM224.0 91.4h1.0v1.0h-1.0zM212.1 89.6h1.0v1.0h-1.0zM220.7 91.6h1.0v1.0h-1.0zM213.7 81.3h1.0v1.0h-1.0zM209.7 92.9h1.0v1.0h-1.0zM220.0 103.1h1.0v1.0h-1.0zM217.4 88.4h1.0v1.0h-1.0zM214.3 94.0h1.0v1.0h-1.0zM210.4 94.5h1.0v1.0h-1.0zM217.5 92.0h1.0v1.0h-1.0zM210.5 91.0h1.0v1.0h-1.0zM210.3 90.6h1.0v1.0h-1.0zM219.1 93.7h1.0v1.0h-1.0zM219.0 88.7h1.0v1.0h-1.0zM211.2 86.6h1.0v1.0h-1.0zM215.5 89.5h1.0v1.0h-1.0zM207.1 88.4h1.0v1.0h-1.0zM222.5 91.3h1.0v1.0h-1.0zM212.5 88.7h1.0v1.0h-1.0zM219.2 85.3h1.0v1.0h-1.0zM209.6 87.9h1.0v1.0h-1.0zM215.8 97.7h1.0v1.0h-1.0zM213.3 94.8h1.0v1.0h-1.0zM204.8 88.5h1.0v1.0h-1.0zM206.9 93.5h1.0v1.0h-1.0zM206.6 83.1h1.0v1.0h-1.0zM217.1 82.3h1.0v1.0h-1.0zM209.1 87.6h1.0v1.0h-1.0zM204.8 89.6h1.0v1.0h-1.0zM214.6 96.4h1.0v1.0h-1.0zM210.5 87.0h1.0v1.0h-1.0zM213.4 91.3h1.0v1.0h-1.0zM214.4 98.7h1.0v1.0h-1.0zM200.9 95.0h1.0v1.0h-1.0zM212.0 86.8h1.0v1.0h-1.0zM208.3 87.1h1.0v1.0h-1.0zM215.8 101.5h1.0v1.0h-1.0zM209.2 98.5h1.0v1.0h-1.0zM215.5 89.0h1.0v1.0h-1.0zM220.3 79.4h1.0v1.0h-1.0zM215.2 92.7h1.0v1.0h-1.0zM214.7 81.0h1.0v1.0h-1.0zM216.6 90.0h1.0v1.0h-1.0zM213.9 94.8h1.0v1.0h-1.0zM203.7 96.8h1.0v1.0h-1.0zM220.3 93.7h1.0v1.0h-1.0zM208.9 90.2h1.0v1.0h-1.0zM203.6 85.3h1.0v1.0h-1.0zM214.5 94.1h1.0v1.0h-1.0zM213.4 86.6h1.0v1.0h-1.0zM209.7 92.8h1.0v1.0h-1.0zM221.3 91.2h1.0v1.0h-1.0zM221.1 90.3h1.0v1.0h-1.0zM217.3 90.9h1.0v1.0h-1.0zM209.4 88.0h1.0v1.0h-1.0zM218.9 91.4h1.0v1.0h-1.0zM204.0 95.7h1.0v1.0h-1.0zM217.4 92.5h1.0v1.0h-1.0zM218.7 92.0h1.0v1.0h-1.0zM214.2 86.8h1.0v1.0h-1.0zM214.0 95.0h1.0v1.0h-1.0zM214.0 83.1h1.0v1.0h-1.0zM223.2 93.4h1.0v1.0h-1.0zM209.4 85.6h1.0v1.0h-1.0zM213.1 82.5h1.0v1.0h-1.0zM211.5 96.0h1.0v1.0h-1.0zM210.1 87.7h1.0v1.0h-1.0zM215.7 93.9h1.0v1.0h-1.0zM206.5 93.9h1.0v1.0h-1.0zM218.6 86.7h1.0v1.0h-1.0zM221.9 85.9h1.0v1.0h-1.0zM217.9 93.0h1.0v1.0h-1.0zM216.1 88.8h1.0v1.0h-1.0zM212.4 99.5h1.0v1.0h-1.0zM206.8 89.1h1.0v1.0h-1.0zM224.7 90.3h1.0v1.0h-1.0zM210.4 97.5h1.0v1.0h-1.0zM211.4 87.3h1.0v1.0h-1.0zM210.5 91.9h1.0v1.0h-1.0zM214.9 91.8h1.0v1.0h-1.0zM208.6 95.7h1.0v1.0h-1.0zM226.3 92.5h1.0v1.0h-1.0zM205.1 83.9h1.0v1.0h-1.0zM213.0 90.2h1.0v1.0h-1.0zM207.5 90.9h1.0v1.0h-1.0zM212.2 91.7h1.0v1.0h-1.0zM206.8 85.4h1.0v1.0h-1.0zM210.2 89.4h1.0v1.0h-1.0zM208.5 95.0h1.0v1.0h-1.0zM212.3 80.5h1.0v1.0h-1.0zM210.4 95.1h1.0v1.0h-1.0zM209.4 86.2h1.0v1.0h-1.0zM211.7 80.0h1.0v1.0h-1.0zM208.4 92.4h1.0v1.0h-1.0zM216.6 95.1h1.0v1.0h-1.0zM217.8 89.9h1.0v1.0h-1.0zM215.6 98.0h1.0v1.0h-1.0zM211.8 94.1h1.0v1.0h-1.0zM214.3 95.0h1.0v1.0h-1.0zM213.6 95.9h1.0v1.0h-1.0zM211.7 86.7h1.0v1.0h-1.0zM212.3 88.7h1.0v1.0h-1.0zM217.9 94.3h1.0v1.0h-1.0zM212.3 87.7h1.0v1.0h-1.0zM217.4 90.9h1.0v1.0h-1.0zM212.3 98.1h1.0v1.0h-1.0zM215.4 94.0h1.0v1.0h-1.0zM211.1 83.6h1.0v1.0h-1.0zM218.9 93.8h1.0v1.0h-1.0zM221.8 91.2h1.0v1.0h-1.0zM209.4 76.9h1.0v1.0h-1.0zM216.0 90.3h1.0v1.0h-1.0zM208.4 89.8h1.0v1.0h-1.0zM222.0 89.6h1.0v1.0h-1.0zM214.8 95.0h1.0v1.0h-1.0zM217.9 82.0h1.0v1.0h-1.0zM212.0 91.7h1.0v1.0h-1.0zM210.7 83.5h1.0v1.0h-1.0z" fill="#9ea7cf" opacity="0.75"/>
<path d="M200.1 93.7h1.0v1.0h-1.0zM206.4 98.9h1.0v1.0h-1.0zM200.4 98.6h1.0v1.0h-1.0zM203.1 91.9h1.0v1.0h-1.0zM204.5 96.7h1.0v1.0h-1.0zM203.7 95.9h1.0v1.0h-1.0zM197.0 97.9h1.0v1.0h-1.0zM205.1 100.0h1.0v1.0h-1.0zM212.5 96.7h1.0v1.0h-1.0zM203.3 98.4h1.0v1.0h-1.0zM204.8 94.1h1.0v1.0h-1.0zM205.6 98.1h1.0v1.0h-1.0zM209.0 96.7h1.0v1.0h-1.0zM189.3 93.3h1.0v1.0h-1.0zM203.5 94.7h1.0v1.0h-1.0zM200.2 92.7h1.0v1.0h-1.0zM196.5 96.1h1.0v1.0h-1.0zM211.6 91.9h1.0v1.0h-1.0zM195.2 98.0h1.0v1.0h-1.0zM198.6 96.2h1.0v1.0h-1.0zM209.6 100.6h1.0v1.0h-1.0zM192.0 92.4h1.0v1.0h-1.0zM200.5 101.1h1.0v1.0h-1.0zM192.0 96.9h1.0v1.0h-1.0zM199.1 92.7h1.0v1.0h-1.0zM187.9 96.6h1.0v1.0h-1.0zM182.1 88.9h1.0v1.0h-1.0zM206.5 93.0h1.0v1.0h-1.0zM198.4 98.9h1.0v1.0h-1.0zM202.6 99.9h1.0v1.0h-1.0zM207.7 94.3h1.0v1.0h-1.0zM202.4 92.4h1.0v1.0h-1.0zM201.8 93.9h1.0v1.0h-1.0zM191.8 95.3h1.0v1.0h-1.0zM201.3 100.2h1.0v1.0h-1.0zM202.3 98.7h1.0v1.0h-1.0zM194.4 98.6h1.0v1.0h-1.0zM204.0 97.3h1.0v1.0h-1.0zM194.9 94.1h1.0v1.0h-1.0zM205.0 102.0h1.0v1.0h-1.0zM194.5 96.9h1.0v1.0h-1.0zM194.8 89.3h1.0v1.0h-1.0zM204.1 97.6h1.0v1.0h-1.0zM207.0 92.5h1.0v1.0h-1.0zM206.1 101.7h1.0v1.0h-1.0zM202.9 91.4h1.0v1.0h-1.0zM210.3 97.7h1.0v1.0h-1.0zM200.4 99.5h1.0v1.0h-1.0zM206.5 94.8h1.0v1.0h-1.0zM195.7 93.3h1.0v1.0h-1.0z" fill="#9ea7cf" opacity="0.75"/>
</g>
<rect x="175.6" y="23.6" width="86.0" height="85.8" fill="none" stroke="#2a2a2a" stroke-width="1.6" />
<rect x="176.2" y="65.3" width="25.8" height="40.9" fill="none" stroke="#94529a" stroke-width="1.5" />
<rect x="201.6" y="53.3" width="33.4" height="53.7" fill="none" stroke="#94529a" stroke-width="1.5" />
<text x="205" y="50" font-family="'Liberation Serif', serif" font-size="12" stroke="#000" stroke-width="0.22" textLength="29.8" lengthAdjust="spacingAndGlyphs">78.0%</text>
<text x="176" y="62.7" font-family="'Liberation Serif', serif" font-size="12" stroke="#000" stroke-width="0.22" textLength="29.2" lengthAdjust="spacingAndGlyphs">22.0%</text>
<g filter="url(#soft)">
<path d="M207.4 174.9h1.0v1.0h-1.0zM187.0 188.4h1.0v1.0h-1.0zM202.2 183.8h1.0v1.0h-1.0zM198.0 186.8h1.0v1.0h-1.0zM201.1 187.2h1.0v1.0h-1.0zM200.0 179.2h1.0v1.0h-1.0zM207.3 184.0h1.0v1.0h-1.0zM205.7 180.5h1.0v1.0h-1.0zM204.1 184.1h1.0v1.0h-1.0zM204.4 188.2h1.0v1.0h-1.0zM206.5 188.5h1.0v1.0h-1.0zM207.9 189.4h1.0v1.0h-1.0zM199.0 184.3h1.0v1.0h-1.0zM196.3 186.1h1.0v1.0h-1.0zM216.0 184.4h1.0v1.0h-1.0zM202.4 187.7h1.0v1.0h-1.0zM202.7 185.7h1.0v1.0h-1.0zM217.9 181.9h1.0v1.0h-1.0zM202.5 185.3h1.0v1.0h-1.0zM205.2 183.1h1.0v1.0h-1.0zM188.7 184.9h1.0v1.0h-1.0zM199.3 192.2h1.0v1.0h-1.0zM214.7 179.3h1.0v1.0h-1.0zM218.4 180.0h1.0v1.0h-1.0zM209.6 192.4h1.0v1.0h-1.0zM196.7 173.3h1.0v1.0h-1.0zM210.0 183.0h1.0v1.0h-1.0zM204.7 186.3h1.0v1.0h-1.0zM213.7 188.7h1.0v1.0h-1.0zM200.7 187.7h1.0v1.0h-1.0zM203.2 182.2h1.0v1.0h-1.0zM208.6 192.6h1.0v1.0h-1.0zM189.4 185.4h1.0v1.0h-1.0zM195.3 186.7h1.0v1.0h-1.0zM197.2 189.5h1.0v1.0h-1.0zM196.2 187.0h1.0v1.0h-1.0zM219.0 188.3h1.0v1.0h-1.0zM208.5 181.8h1.0v1.0h-1.0zM213.5 172.1h1.0v1.0h-1.0zM201.5 194.2h1.0v1.0h-1.0zM202.9 182.2h1.0v1.0h-1.0zM200.9 183.4h1.0v1.0h-1.0zM184.0 182.1h1.0v1.0h-1.0zM214.7 183.0h1.0v1.0h-1.0zM202.2 184.5h1.0v1.0h-1.0zM198.5 177.6h1.0v1.0h-1.0zM207.4 192.3h1.0v1.0h-1.0zM213.0 190.1h1.0v1.0h-1.0zM207.8 184.6h1.0v1.0h-1.0zM198.4 182.2h1.0v1.0h-1.0zM218.3 179.0h1.0v1.0h-1.0zM210.4 174.6h1.0v1.0h-1.0zM215.0 183.5h1.0v1.0h-1.0zM200.9 192.7h1.0v1.0h-1.0zM201.2 180.2h1.0v1.0h-1.0zM214.4 184.2h1.0v1.0h-1.0zM198.0 172.9h1.0v1.0h-1.0zM203.4 189.7h1.0v1.0h-1.0zM205.3 183.2h1.0v1.0h-1.0zM187.6 188.1h1.0v1.0h-1.0zM196.6 191.4h1.0v1.0h-1.0zM187.8 175.5h1.0v1.0h-1.0zM194.7 179.2h1.0v1.0h-1.0zM213.5 181.9h1.0v1.0h-1.0zM202.6 182.0h1.0v1.0h-1.0zM212.3 184.3h1.0v1.0h-1.0zM218.3 188.4h1.0v1.0h-1.0zM204.0 192.0h1.0v1.0h-1.0zM185.5 181.0h1.0v1.0h-1.0zM208.3 181.4h1.0v1.0h-1.0zM198.8 181.6h1.0v1.0h-1.0zM210.7 180.8h1.0v1.0h-1.0zM197.4 194.6h1.0v1.0h-1.0zM207.7 188.0h1.0v1.0h-1.0zM197.0 185.9h1.0v1.0h-1.0zM207.6 177.1h1.0v1.0h-1.0zM205.9 177.8h1.0v1.0h-1.0zM207.5 187.4h1.0v1.0h-1.0zM215.2 187.6h1.0v1.0h-1.0zM219.9 183.9h1.0v1.0h-1.0zM188.0 183.0h1.0v1.0h-1.0zM205.1 171.9h1.0v1.0h-1.0zM192.4 190.0h1.0v1.0h-1.0zM212.9 180.0h1.0v1.0h-1.0zM183.1 190.3h1.0v1.0h-1.0zM202.1 180.7h1.0v1.0h-1.0zM199.6 181.1h1.0v1.0h-1.0zM196.1 183.3h1.0v1.0h-1.0zM183.9 186.9h1.0v1.0h-1.0zM193.4 179.8h1.0v1.0h-1.0zM209.5 180.6h1.0v1.0h-1.0zM206.7 174.5h1.0v1.0h-1.0zM194.7 182.4h1.0v1.0h-1.0zM205.8 182.4h1.0v1.0h-1.0zM212.9 191.8h1.0v1.0h-1.0zM197.6 178.5h1.0v1.0h-1.0zM210.8 190.3h1.0v1.0h-1.0zM216.5 184.6h1.0v1.0h-1.0zM202.2 185.5h1.0v1.0h-1.0zM200.1 192.8h1.0v1.0h-1.0zM206.0 187.7h1.0v1.0h-1.0zM208.1 184.0h1.0v1.0h-1.0zM212.6 183.3h1.0v1.0h-1.0zM209.5 191.5h1.0v1.0h-1.0zM219.6 184.2h1.0v1.0h-1.0zM210.2 185.7h1.0v1.0h-1.0zM208.6 183.5h1.0v1.0h-1.0zM202.8 186.4h1.0v1.0h-1.0zM185.4 188.3h1.0v1.0h-1.0zM210.6 182.3h1.0v1.0h-1.0zM217.9 186.8h1.0v1.0h-1.0zM203.6 189.7h1.0v1.0h-1.0zM212.9 184.1h1.0v1.0h-1.0zM196.8 175.3h1.0v1.0h-1.0zM207.5 184.5h1.0v1.0h-1.0zM195.0 191.1h1.0v1.0h-1.0zM215.4 186.9h1.0v1.0h-1.0zM205.8 174.3h1.0v1.0h-1.0zM202.4 184.0h1.0v1.0h-1.0zM207.0 186.2h1.0v1.0h-1.0zM216.0 183.9h1.0v1.0h-1.0zM210.9 175.6h1.0v1.0h-1.0zM211.0 190.3h1.0v1.0h-1.0zM187.5 187.2h1.0v1.0h-1.0zM198.0 191.8h1.0v1.0h-1.0zM197.7 179.3h1.0v1.0h-1.0zM197.6 185.5h1.0v1.0h-1.0zM198.5 182.8h1.0v1.0h-1.0zM211.9 186.4h1.0v1.0h-1.0zM203.4 188.1h1.0v1.0h-1.0z" fill="#9ea7cf" opacity="0.75"/>
<path d="M217.1 167.8h1.0v1.0h-1.0zM223.8 168.5h1.0v1.0h-1.0zM222.0 171.7h1.0v1.0h-1.0zM215.4 185.5h1.0v1.0h-1.0zM211.1 180.9h1.0v1.0h-1.0zM226.5 180.7h1.0v1.0h-1.0zM218.6 172.8h1.0v1.0h-1.0zM213.2 183.5h1.0v1.0h-1.0zM217.4 174.2h1.0v1.0h-1.0zM210.0 172.0h1.0v1.0h-1.0zM212.3 187.0h1.0v1.0h-1.0zM214.7 175.6h1.0v1.0h-1.0zM221.5 189.4h1.0v1.0h-1.0zM219.7 184.3h1.0v1.0h-1.0zM220.0 181.8h1.0v1.0h-1.0zM216.9 184.0h1.0v1.0h-1.0zM213.5 181.1h1.0v1.0h-1.0zM222.6 176.5h1.0v1.0h-1.0zM211.4 175.0h1.0v1.0h-1.0zM209.8 182.2h1.0v1.0h-1.0zM213.2 192.0h1.0v1.0h-1.0zM218.4 178.9h1.0v1.0h-1.0zM214.0 177.9h1.0v1.0h-1.0zM204.6 182.5h1.0v1.0h-1.0zM212.4 166.9h1.0v1.0h-1.0zM218.9 186.3h1.0v1.0h-1.0zM223.6 170.0h1.0v1.0h-1.0zM217.4 185.0h1.0v1.0h-1.0zM207.0 176.3h1.0v1.0h-1.0zM217.9 191.9h1.0v1.0h-1.0zM224.7 176.8h1.0v1.0h-1.0zM221.7 175.6h1.0v1.0h-1.0zM214.1 174.5h1.0v1.0h-1.0zM215.9 188.8h1.0v1.0h-1.0zM219.9 186.4h1.0v1.0h-1.0zM226.8 178.5h1.0v1.0h-1.0zM221.0 181.0h1.0v1.0h-1.0zM217.8 178.2h1.0v1.0h-1.0zM213.6 186.0h1.0v1.0h-1.0zM223.8 178.0h1.0v1.0h-1.0zM220.2 187.8h1.0v1.0h-1.0zM209.9 167.1h1.0v1.0h-1.0zM222.9 167.8h1.0v1.0h-1.0zM226.6 183.5h1.0v1.0h-1.0zM226.6 174.1h1.0v1.0h-1.0zM218.4 187.8h1.0v1.0h-1.0zM217.2 188.6h1.0v1.0h-1.0zM214.0 173.5h1.0v1.0h-1.0z" fill="#9ea7cf" opacity="0.75"/>
</g>
<rect x="176.2" y="116" width="86.2" height="85.6" fill="none" stroke="#2a2a2a" stroke-width="1.6" />
<rect x="176.6" y="158.5" width="25.6" height="39.9" fill="none" stroke="#94529a" stroke-width="1.5" />
<rect x="202.2" y="145.5" width="33.3" height="53.9" fill="none" stroke="#94529a" stroke-width="1.5" />
<text x="209.3" y="142.4" font-family="'Liberation Serif', serif" font-size="12" stroke="#000" stroke-width="0.22" textLength="29.8" lengthAdjust="spacingAndGlyphs">45.6%</text>
<text x="176.3" y="155.3" font-family="'Liberation Serif', serif" font-size="12" stroke="#000" stroke-width="0.22" textLength="28.6" lengthAdjust="spacingAndGlyphs">54.4%</text>
<g filter="url(#soft)">
<path d="M327.6 100.1h1.0v1.0h-1.0zM328.6 90.7h1.0v1.0h-1.0zM325.4 89.9h1.0v1.0h-1.0zM324.1 93.2h1.0v1.0h-1.0zM324.4 94.6h1.0v1.0h-1.0zM328.1 83.1h1.0v1.0h-1.0zM328.1 92.3h1.0v1.0h-1.0zM321.6 90.1h1.0v1.0h-1.0zM330.6 91.3h1.0v1.0h-1.0zM326.4 95.5h1.0v1.0h-1.0zM320.4 94.0h1.0v1.0h-1.0zM321.2 93.4h1.0v1.0h-1.0zM326.3 89.6h1.0v1.0h-1.0zM330.6 92.0h1.0v1.0h-1.0zM320.3 104.3h1.0v1.0h-1.0zM317.2 100.1h1.0v1.0h-1.0zM329.2 98.1h1.0v1.0h-1.0zM321.7 89.4h1.0v1.0h-1.0zM331.8 100.2h1.0v1.0h-1.0zM326.2 96.7h1.0v1.0h-1.0zM324.8 89.3h1.0v1.0h-1.0zM322.0 95.1h1.0v1.0h-1.0zM325.9 88.4h1.0v1.0h-1.0zM326.4 98.8h1.0v1.0h-1.0zM326.3 95.5h1.0v1.0h-1.0zM320.3 88.8h1.0v1.0h-1.0zM325.3 92.4h1.0v1.0h-1.0zM328.1 93.7h1.0v1.0h-1.0zM318.3 89.9h1.0v1.0h-1.0zM330.6 94.0h1.0v1.0h-1.0zM322.0 99.0h1.0v1.0h-1.0zM327.5 92.7h1.0v1.0h-1.0zM326.9 94.1h1.0v1.0h-1.0zM328.5 96.9h1.0v1.0h-1.0zM330.5 91.0h1.0v1.0h-1.0zM324.5 91.8h1.0v1.0h-1.0zM321.2 92.9h1.0v1.0h-1.0zM312.8 94.1h1.0v1.0h-1.0zM325.6 101.2h1.0v1.0h-1.0zM327.7 82.4h1.0v1.0h-1.0zM327.7 90.5h1.0v1.0h-1.0zM326.9 95.2h1.0v1.0h-1.0zM319.3 92.9h1.0v1.0h-1.0zM331.5 87.6h1.0v1.0h-1.0zM321.8 94.4h1.0v1.0h-1.0zM329.1 91.5h1.0v1.0h-1.0zM320.8 95.5h1.0v1.0h-1.0zM327.8 91.4h1.0v1.0h-1.0zM324.7 100.5h1.0v1.0h-1.0zM310.3 85.5h1.0v1.0h-1.0zM329.0 99.7h1.0v1.0h-1.0zM322.0 92.3h1.0v1.0h-1.0zM328.4 97.9h1.0v1.0h-1.0zM321.2 99.5h1.0v1.0h-1.0zM330.2 88.0h1.0v1.0h-1.0zM327.5 88.2h1.0v1.0h-1.0zM322.4 83.2h1.0v1.0h-1.0zM327.3 95.7h1.0v1.0h-1.0zM324.0 93.1h1.0v1.0h-1.0zM313.8 89.7h1.0v1.0h-1.0zM325.5 91.3h1.0v1.0h-1.0zM325.6 82.1h1.0v1.0h-1.0zM323.2 100.9h1.0v1.0h-1.0zM324.0 87.6h1.0v1.0h-1.0zM330.1 90.2h1.0v1.0h-1.0zM329.4 98.9h1.0v1.0h-1.0zM323.1 94.7h1.0v1.0h-1.0zM319.6 89.9h1.0v1.0h-1.0zM326.5 89.4h1.0v1.0h-1.0zM331.5 94.4h1.0v1.0h-1.0zM317.4 100.0h1.0v1.0h-1.0zM327.8 92.3h1.0v1.0h-1.0zM326.3 97.3h1.0v1.0h-1.0zM323.7 101.2h1.0v1.0h-1.0zM322.0 90.0h1.0v1.0h-1.0zM330.1 95.8h1.0v1.0h-1.0zM326.6 89.1h1.0v1.0h-1.0zM327.2 95.1h1.0v1.0h-1.0zM328.3 96.7h1.0v1.0h-1.0zM327.1 102.7h1.0v1.0h-1.0zM320.3 92.0h1.0v1.0h-1.0zM324.4 93.4h1.0v1.0h-1.0zM323.3 84.8h1.0v1.0h-1.0zM326.6 94.8h1.0v1.0h-1.0zM333.8 87.1h1.0v1.0h-1.0zM324.6 87.3h1.0v1.0h-1.0zM323.2 98.7h1.0v1.0h-1.0zM324.3 96.3h1.0v1.0h-1.0zM322.5 94.1h1.0v1.0h-1.0zM325.7 96.5h1.0v1.0h-1.0zM319.8 98.0h1.0v1.0h-1.0zM324.7 91.8h1.0v1.0h-1.0zM330.4 95.8h1.0v1.0h-1.0zM316.3 97.7h1.0v1.0h-1.0zM323.2 91.2h1.0v1.0h-1.0zM327.1 97.8h1.0v1.0h-1.0zM321.9 94.0h1.0v1.0h-1.0zM325.7 92.0h1.0v1.0h-1.0zM318.7 82.0h1.0v1.0h-1.0zM319.6 95.8h1.0v1.0h-1.0zM326.1 97.8h1.0v1.0h-1.0zM335.0 90.3h1.0v1.0h-1.0zM329.5 92.7h1.0v1.0h-1.0zM322.1 100.3h1.0v1.0h-1.0zM319.2 96.4h1.0v1.0h-1.0zM323.0 94.5h1.0v1.0h-1.0zM336.7 92.4h1.0v1.0h-1.0zM325.6 85.9h1.0v1.0h-1.0zM327.9 92.0h1.0v1.0h-1.0zM324.2 93.4h1.0v1.0h-1.0zM318.4 100.1h1.0v1.0h-1.0zM320.8 94.5h1.0v1.0h-1.0zM325.9 85.0h1.0v1.0h-1.0zM322.4 90.8h1.0v1.0h-1.0zM321.3 91.9h1.0v1.0h-1.0zM328.4 90.1h1.0v1.0h-1.0zM333.6 93.4h1.0v1.0h-1.0zM325.8 90.9h1.0v1.0h-1.0zM326.4 91.3h1.0v1.0h-1.0zM325.0 95.1h1.0v1.0h-1.0zM325.2 96.1h1.0v1.0h-1.0zM323.4 101.8h1.0v1.0h-1.0zM323.6 90.6h1.0v1.0h-1.0zM322.6 96.0h1.0v1.0h-1.0zM325.5 103.6h1.0v1.0h-1.0zM316.8 98.9h1.0v1.0h-1.0zM326.2 106.5h1.0v1.0h-1.0zM325.2 89.9h1.0v1.0h-1.0zM330.3 96.5h1.0v1.0h-1.0zM324.2 84.5h1.0v1.0h-1.0zM317.9 94.8h1.0v1.0h-1.0zM322.9 89.1h1.0v1.0h-1.0zM320.0 84.5h1.0v1.0h-1.0zM331.1 96.9h1.0v1.0h-1.0zM324.7 104.0h1.0v1.0h-1.0zM328.6 89.1h1.0v1.0h-1.0zM316.9 88.4h1.0v1.0h-1.0zM326.3 91.5h1.0v1.0h-1.0zM331.0 91.3h1.0v1.0h-1.0zM324.9 98.0h1.0v1.0h-1.0z" fill="#9ea7cf" opacity="0.75"/>
</g>
<rect x="302.8" y="24" width="85.7" height="85.2" fill="none" stroke="#2a2a2a" stroke-width="1.6" />
<rect x="303.8" y="52.7" width="30.0" height="54.7" fill="none" stroke="#94529a" stroke-width="1.5" />
<rect x="333.8" y="42.5" width="30.3" height="64.9" fill="none" stroke="#94529a" stroke-width="1.5" />
<text x="305.2" y="50" font-family="'Liberation Serif', serif" font-size="12" stroke="#000" stroke-width="0.22" textLength="28.4" lengthAdjust="spacingAndGlyphs">90.1%</text>
<text x="339.6" y="39.4" font-family="'Liberation Serif', serif" font-size="12" stroke="#000" stroke-width="0.22" textLength="23.5" lengthAdjust="spacingAndGlyphs">9.9%</text>
<g filter="url(#soft)">
<path d="M333.4 187.7h1.0v1.0h-1.0zM327.3 189.8h1.0v1.0h-1.0zM328.1 188.4h1.0v1.0h-1.0zM327.4 179.8h1.0v1.0h-1.0zM327.7 181.5h1.0v1.0h-1.0zM332.1 177.8h1.0v1.0h-1.0zM321.7 189.7h1.0v1.0h-1.0zM328.4 190.2h1.0v1.0h-1.0zM324.9 188.1h1.0v1.0h-1.0zM326.0 182.3h1.0v1.0h-1.0zM327.7 194.4h1.0v1.0h-1.0zM329.8 189.4h1.0v1.0h-1.0zM328.7 190.1h1.0v1.0h-1.0zM326.2 191.4h1.0v1.0h-1.0zM325.4 191.2h1.0v1.0h-1.0zM325.1 185.1h1.0v1.0h-1.0zM333.9 189.3h1.0v1.0h-1.0zM329.7 193.5h1.0v1.0h-1.0zM325.4 186.3h1.0v1.0h-1.0zM323.4 190.5h1.0v1.0h-1.0zM327.1 187.4h1.0v1.0h-1.0zM325.3 189.4h1.0v1.0h-1.0zM332.5 189.8h1.0v1.0h-1.0zM328.0 182.5h1.0v1.0h-1.0zM324.3 187.9h1.0v1.0h-1.0zM333.1 179.5h1.0v1.0h-1.0zM329.0 190.6h1.0v1.0h-1.0zM330.0 193.5h1.0v1.0h-1.0zM325.2 191.1h1.0v1.0h-1.0zM331.8 184.4h1.0v1.0h-1.0zM334.4 187.5h1.0v1.0h-1.0zM336.4 176.9h1.0v1.0h-1.0zM336.4 186.2h1.0v1.0h-1.0zM323.6 181.8h1.0v1.0h-1.0zM329.2 188.7h1.0v1.0h-1.0zM323.8 179.3h1.0v1.0h-1.0zM338.5 185.7h1.0v1.0h-1.0zM325.8 195.3h1.0v1.0h-1.0zM321.6 186.2h1.0v1.0h-1.0zM327.7 190.3h1.0v1.0h-1.0zM332.3 196.7h1.0v1.0h-1.0zM332.6 182.6h1.0v1.0h-1.0zM322.1 187.8h1.0v1.0h-1.0zM320.4 180.9h1.0v1.0h-1.0zM330.6 195.5h1.0v1.0h-1.0zM331.3 184.1h1.0v1.0h-1.0zM332.3 187.9h1.0v1.0h-1.0zM320.9 181.2h1.0v1.0h-1.0zM333.8 191.7h1.0v1.0h-1.0zM327.1 186.4h1.0v1.0h-1.0zM326.2 192.6h1.0v1.0h-1.0zM329.3 189.1h1.0v1.0h-1.0zM324.2 193.4h1.0v1.0h-1.0zM329.5 186.2h1.0v1.0h-1.0zM328.4 192.2h1.0v1.0h-1.0zM331.7 191.4h1.0v1.0h-1.0zM332.2 196.8h1.0v1.0h-1.0zM323.1 184.6h1.0v1.0h-1.0zM335.5 190.3h1.0v1.0h-1.0zM330.7 179.4h1.0v1.0h-1.0zM331.4 182.1h1.0v1.0h-1.0zM334.5 188.6h1.0v1.0h-1.0zM331.0 183.1h1.0v1.0h-1.0zM317.5 185.9h1.0v1.0h-1.0zM329.9 184.0h1.0v1.0h-1.0zM328.0 190.2h1.0v1.0h-1.0zM328.5 189.2h1.0v1.0h-1.0zM323.5 186.2h1.0v1.0h-1.0zM329.1 179.7h1.0v1.0h-1.0zM332.0 173.7h1.0v1.0h-1.0zM329.0 186.1h1.0v1.0h-1.0zM332.4 192.5h1.0v1.0h-1.0zM328.6 178.8h1.0v1.0h-1.0zM334.2 189.0h1.0v1.0h-1.0zM341.1 186.5h1.0v1.0h-1.0zM339.5 191.8h1.0v1.0h-1.0zM325.9 188.9h1.0v1.0h-1.0zM328.7 186.8h1.0v1.0h-1.0zM328.2 187.0h1.0v1.0h-1.0zM336.4 189.2h1.0v1.0h-1.0zM331.4 177.1h1.0v1.0h-1.0zM318.9 185.6h1.0v1.0h-1.0zM324.5 196.6h1.0v1.0h-1.0zM325.7 177.2h1.0v1.0h-1.0zM317.2 183.6h1.0v1.0h-1.0zM329.5 178.1h1.0v1.0h-1.0zM322.6 178.6h1.0v1.0h-1.0zM318.8 185.4h1.0v1.0h-1.0zM331.2 190.4h1.0v1.0h-1.0zM336.9 194.2h1.0v1.0h-1.0zM332.4 185.2h1.0v1.0h-1.0zM325.7 200.0h1.0v1.0h-1.0zM323.3 189.9h1.0v1.0h-1.0zM331.1 183.0h1.0v1.0h-1.0zM325.0 197.0h1.0v1.0h-1.0zM322.7 176.5h1.0v1.0h-1.0zM321.3 175.2h1.0v1.0h-1.0zM334.9 190.1h1.0v1.0h-1.0zM327.6 185.1h1.0v1.0h-1.0zM322.6 183.1h1.0v1.0h-1.0zM328.6 184.3h1.0v1.0h-1.0zM335.7 190.0h1.0v1.0h-1.0zM329.5 189.0h1.0v1.0h-1.0zM331.6 181.2h1.0v1.0h-1.0zM325.9 198.1h1.0v1.0h-1.0zM317.8 188.8h1.0v1.0h-1.0zM330.9 182.4h1.0v1.0h-1.0zM330.4 190.6h1.0v1.0h-1.0zM330.6 193.5h1.0v1.0h-1.0zM328.7 183.6h1.0v1.0h-1.0zM335.4 183.5h1.0v1.0h-1.0zM336.3 193.0h1.0v1.0h-1.0zM326.3 196.7h1.0v1.0h-1.0zM329.6 190.3h1.0v1.0h-1.0zM323.6 193.1h1.0v1.0h-1.0zM329.6 190.2h1.0v1.0h-1.0zM330.1 179.0h1.0v1.0h-1.0zM329.9 185.9h1.0v1.0h-1.0zM326.0 186.7h1.0v1.0h-1.0zM324.8 183.6h1.0v1.0h-1.0zM331.5 186.5h1.0v1.0h-1.0zM326.5 182.1h1.0v1.0h-1.0zM319.0 178.5h1.0v1.0h-1.0zM335.5 183.9h1.0v1.0h-1.0zM323.5 184.2h1.0v1.0h-1.0zM329.3 189.0h1.0v1.0h-1.0zM326.1 183.8h1.0v1.0h-1.0zM330.3 188.4h1.0v1.0h-1.0z" fill="#9ea7cf" opacity="0.75"/>
</g>
<rect x="303.1" y="116.7" width="85.7" height="85.3" fill="none" stroke="#2a2a2a" stroke-width="1.6" />
<rect x="303.6" y="144.9" width="30.2" height="55.0" fill="none" stroke="#94529a" stroke-width="1.5" />
<rect x="333.8" y="135.4" width="30.7" height="64.1" fill="none" stroke="#94529a" stroke-width="1.5" />
<text x="304.8" y="142.9" font-family="'Liberation Serif', serif" font-size="12" stroke="#000" stroke-width="0.22" textLength="29.8" lengthAdjust="spacingAndGlyphs">76.8%</text>
<text x="339" y="133.4" font-family="'Liberation Serif', serif" font-size="12" stroke="#000" stroke-width="0.22" textLength="29.8" lengthAdjust="spacingAndGlyphs">23.2%</text>
<line x1="305" y1="211.1" x2="340.2" y2="211.1" stroke="#000" stroke-width="2.3" stroke-linecap="round"/>
<path d="M336.2 206.79999999999998 L341 211.1 L336.2 215.4" fill="none" stroke="#000" stroke-width="1.8" stroke-linejoin="miter"/>
<text x="345.4" y="214.8" font-family="'Liberation Serif', serif" font-size="12" stroke="#000" stroke-width="0.22" textLength="42.4" lengthAdjust="spacingAndGlyphs">Endoglin</text>
<g filter="url(#soft)">
<path d="M436.4 91.4h1.0v1.0h-1.0zM430.8 91.5h1.0v1.0h-1.0zM439.5 87.9h1.0v1.0h-1.0zM435.3 97.8h1.0v1.0h-1.0zM428.9 77.6h1.0v1.0h-1.0zM432.9 96.7h1.0v1.0h-1.0zM432.4 97.7h1.0v1.0h-1.0zM429.7 88.9h1.0v1.0h-1.0zM435.7 78.4h1.0v1.0h-1.0zM437.2 107.4h1.0v1.0h-1.0zM426.7 97.0h1.0v1.0h-1.0zM438.7 92.4h1.0v1.0h-1.0zM425.9 90.0h1.0v1.0h-1.0zM431.1 90.5h1.0v1.0h-1.0zM442.6 84.8h1.0v1.0h-1.0zM430.6 98.4h1.0v1.0h-1.0zM426.6 86.4h1.0v1.0h-1.0zM435.8 90.5h1.0v1.0h-1.0zM427.5 89.0h1.0v1.0h-1.0zM433.4 87.3h1.0v1.0h-1.0zM432.5 91.4h1.0v1.0h-1.0zM438.4 98.4h1.0v1.0h-1.0zM435.1 88.3h1.0v1.0h-1.0zM432.9 87.2h1.0v1.0h-1.0zM432.4 91.4h1.0v1.0h-1.0zM429.7 88.0h1.0v1.0h-1.0zM440.0 83.1h1.0v1.0h-1.0zM426.5 84.5h1.0v1.0h-1.0zM433.4 82.3h1.0v1.0h-1.0zM435.0 81.9h1.0v1.0h-1.0zM428.1 81.4h1.0v1.0h-1.0zM444.3 88.7h1.0v1.0h-1.0zM433.6 88.6h1.0v1.0h-1.0zM433.2 92.1h1.0v1.0h-1.0zM432.0 97.7h1.0v1.0h-1.0zM435.1 92.2h1.0v1.0h-1.0zM436.9 93.6h1.0v1.0h-1.0zM433.7 100.2h1.0v1.0h-1.0zM434.4 95.0h1.0v1.0h-1.0zM433.2 95.3h1.0v1.0h-1.0zM434.5 80.2h1.0v1.0h-1.0zM433.8 84.5h1.0v1.0h-1.0zM431.6 80.4h1.0v1.0h-1.0zM435.5 92.6h1.0v1.0h-1.0zM432.5 96.1h1.0v1.0h-1.0zM433.3 86.1h1.0v1.0h-1.0zM432.0 93.9h1.0v1.0h-1.0zM429.1 91.0h1.0v1.0h-1.0zM426.1 83.2h1.0v1.0h-1.0zM438.9 76.2h1.0v1.0h-1.0zM431.9 95.0h1.0v1.0h-1.0zM432.0 96.1h1.0v1.0h-1.0zM428.2 88.1h1.0v1.0h-1.0zM428.6 96.4h1.0v1.0h-1.0zM429.0 79.2h1.0v1.0h-1.0zM427.5 92.0h1.0v1.0h-1.0zM432.4 93.8h1.0v1.0h-1.0zM435.8 84.1h1.0v1.0h-1.0zM436.0 94.4h1.0v1.0h-1.0zM432.7 78.8h1.0v1.0h-1.0zM431.4 90.0h1.0v1.0h-1.0zM432.1 91.1h1.0v1.0h-1.0zM428.7 90.7h1.0v1.0h-1.0zM431.7 91.7h1.0v1.0h-1.0zM426.8 92.7h1.0v1.0h-1.0zM436.2 88.7h1.0v1.0h-1.0zM439.0 92.3h1.0v1.0h-1.0zM433.8 88.9h1.0v1.0h-1.0zM436.6 88.6h1.0v1.0h-1.0zM441.4 95.8h1.0v1.0h-1.0zM429.2 98.5h1.0v1.0h-1.0zM443.6 95.2h1.0v1.0h-1.0zM442.2 91.0h1.0v1.0h-1.0zM431.8 82.6h1.0v1.0h-1.0zM429.7 100.3h1.0v1.0h-1.0zM429.0 94.0h1.0v1.0h-1.0zM445.1 88.0h1.0v1.0h-1.0zM440.0 79.9h1.0v1.0h-1.0zM429.7 86.0h1.0v1.0h-1.0zM434.7 84.1h1.0v1.0h-1.0zM435.6 78.6h1.0v1.0h-1.0zM424.5 90.9h1.0v1.0h-1.0zM438.1 100.2h1.0v1.0h-1.0zM425.0 82.3h1.0v1.0h-1.0zM431.2 83.0h1.0v1.0h-1.0zM434.3 95.7h1.0v1.0h-1.0zM434.9 93.6h1.0v1.0h-1.0zM439.3 94.0h1.0v1.0h-1.0zM432.5 103.3h1.0v1.0h-1.0zM430.8 96.7h1.0v1.0h-1.0zM428.0 97.1h1.0v1.0h-1.0zM436.7 92.2h1.0v1.0h-1.0zM434.2 80.8h1.0v1.0h-1.0zM432.8 86.6h1.0v1.0h-1.0zM431.6 97.6h1.0v1.0h-1.0zM427.7 92.0h1.0v1.0h-1.0zM428.9 89.0h1.0v1.0h-1.0zM433.7 89.5h1.0v1.0h-1.0zM440.6 80.5h1.0v1.0h-1.0zM431.0 100.3h1.0v1.0h-1.0zM432.9 80.6h1.0v1.0h-1.0zM439.4 91.4h1.0v1.0h-1.0zM436.6 76.0h1.0v1.0h-1.0zM428.0 91.0h1.0v1.0h-1.0zM423.1 83.3h1.0v1.0h-1.0zM431.5 91.8h1.0v1.0h-1.0zM430.3 91.2h1.0v1.0h-1.0zM430.8 83.1h1.0v1.0h-1.0zM435.8 86.0h1.0v1.0h-1.0zM431.1 88.5h1.0v1.0h-1.0zM442.1 86.5h1.0v1.0h-1.0zM433.5 88.6h1.0v1.0h-1.0zM426.0 92.8h1.0v1.0h-1.0zM434.4 98.3h1.0v1.0h-1.0zM438.7 99.3h1.0v1.0h-1.0zM428.4 87.8h1.0v1.0h-1.0zM433.7 92.8h1.0v1.0h-1.0zM429.0 93.6h1.0v1.0h-1.0zM438.2 85.9h1.0v1.0h-1.0zM429.6 87.2h1.0v1.0h-1.0zM432.2 92.4h1.0v1.0h-1.0zM435.2 90.0h1.0v1.0h-1.0zM428.6 102.5h1.0v1.0h-1.0zM428.2 80.0h1.0v1.0h-1.0zM430.3 106.1h1.0v1.0h-1.0zM432.8 92.5h1.0v1.0h-1.0zM424.9 102.6h1.0v1.0h-1.0zM423.0 86.1h1.0v1.0h-1.0zM428.3 93.5h1.0v1.0h-1.0zM427.0 84.5h1.0v1.0h-1.0zM431.3 94.1h1.0v1.0h-1.0zM433.6 85.7h1.0v1.0h-1.0zM436.8 92.2h1.0v1.0h-1.0zM425.1 105.5h1.0v1.0h-1.0zM425.5 85.5h1.0v1.0h-1.0zM436.2 95.5h1.0v1.0h-1.0zM443.5 80.6h1.0v1.0h-1.0zM437.4 92.5h1.0v1.0h-1.0zM432.4 97.4h1.0v1.0h-1.0zM434.9 100.8h1.0v1.0h-1.0zM436.4 89.3h1.0v1.0h-1.0zM438.9 78.0h1.0v1.0h-1.0zM429.1 95.1h1.0v1.0h-1.0zM431.0 91.5h1.0v1.0h-1.0zM430.6 85.8h1.0v1.0h-1.0zM432.2 84.9h1.0v1.0h-1.0z" fill="#9ea7cf" opacity="0.75"/>
</g>
<rect x="422.8" y="24.1" width="85.7" height="85.5" fill="none" stroke="#2a2a2a" stroke-width="1.6" />
<rect x="423.4" y="66.4" width="23.2" height="41.0" fill="none" stroke="#94529a" stroke-width="1.5" />
<rect x="446.6" y="53.5" width="34.7" height="53.1" fill="none" stroke="#94529a" stroke-width="1.5" />
<text x="423.1" y="63.8" font-family="'Liberation Serif', serif" font-size="12" stroke="#000" stroke-width="0.22" textLength="30.4" lengthAdjust="spacingAndGlyphs">90.6%</text>
<text x="454.8" y="50.6" font-family="'Liberation Serif', serif" font-size="12" stroke="#000" stroke-width="0.22" textLength="24.7" lengthAdjust="spacingAndGlyphs">9.4%</text>
<g filter="url(#soft)">
<path d="M426.1 174.7h1.0v1.0h-1.0zM433.4 179.0h1.0v1.0h-1.0zM430.4 174.2h1.0v1.0h-1.0zM440.2 177.5h1.0v1.0h-1.0zM433.9 185.2h1.0v1.0h-1.0zM435.6 177.5h1.0v1.0h-1.0zM432.1 190.1h1.0v1.0h-1.0zM441.7 180.8h1.0v1.0h-1.0zM440.5 179.3h1.0v1.0h-1.0zM440.1 178.8h1.0v1.0h-1.0zM442.8 172.8h1.0v1.0h-1.0zM439.8 187.9h1.0v1.0h-1.0zM432.6 179.2h1.0v1.0h-1.0zM432.9 171.6h1.0v1.0h-1.0zM435.5 184.7h1.0v1.0h-1.0zM433.4 189.9h1.0v1.0h-1.0zM445.5 179.5h1.0v1.0h-1.0zM435.5 170.8h1.0v1.0h-1.0zM431.5 165.4h1.0v1.0h-1.0zM445.1 186.8h1.0v1.0h-1.0zM439.5 187.8h1.0v1.0h-1.0zM433.9 189.8h1.0v1.0h-1.0zM432.4 180.1h1.0v1.0h-1.0zM439.7 182.8h1.0v1.0h-1.0zM435.7 173.7h1.0v1.0h-1.0zM433.7 196.8h1.0v1.0h-1.0zM449.2 177.8h1.0v1.0h-1.0zM437.8 184.5h1.0v1.0h-1.0zM431.6 172.4h1.0v1.0h-1.0zM434.0 181.1h1.0v1.0h-1.0zM440.8 174.9h1.0v1.0h-1.0zM446.4 179.8h1.0v1.0h-1.0zM429.2 177.6h1.0v1.0h-1.0zM431.6 174.6h1.0v1.0h-1.0zM436.9 180.8h1.0v1.0h-1.0zM426.8 178.6h1.0v1.0h-1.0zM434.4 178.6h1.0v1.0h-1.0zM431.9 176.0h1.0v1.0h-1.0zM427.5 191.6h1.0v1.0h-1.0zM441.3 167.0h1.0v1.0h-1.0zM427.2 173.6h1.0v1.0h-1.0zM424.2 181.6h1.0v1.0h-1.0zM432.6 178.6h1.0v1.0h-1.0zM435.0 177.0h1.0v1.0h-1.0zM441.2 179.3h1.0v1.0h-1.0zM434.6 193.2h1.0v1.0h-1.0zM440.0 190.3h1.0v1.0h-1.0zM433.3 185.4h1.0v1.0h-1.0zM443.0 175.2h1.0v1.0h-1.0zM426.8 177.2h1.0v1.0h-1.0zM443.6 182.7h1.0v1.0h-1.0zM424.1 182.5h1.0v1.0h-1.0zM436.2 172.2h1.0v1.0h-1.0zM436.5 191.1h1.0v1.0h-1.0zM434.1 177.2h1.0v1.0h-1.0zM441.8 195.7h1.0v1.0h-1.0zM445.8 175.4h1.0v1.0h-1.0zM426.4 178.7h1.0v1.0h-1.0zM441.7 175.1h1.0v1.0h-1.0zM431.7 185.0h1.0v1.0h-1.0zM436.7 181.1h1.0v1.0h-1.0zM446.6 177.0h1.0v1.0h-1.0zM433.5 189.9h1.0v1.0h-1.0zM435.2 179.2h1.0v1.0h-1.0zM438.0 180.1h1.0v1.0h-1.0zM425.5 184.1h1.0v1.0h-1.0zM442.0 185.8h1.0v1.0h-1.0zM434.3 166.9h1.0v1.0h-1.0zM445.7 176.5h1.0v1.0h-1.0zM439.5 175.1h1.0v1.0h-1.0zM428.0 173.2h1.0v1.0h-1.0zM429.4 161.6h1.0v1.0h-1.0zM443.8 173.7h1.0v1.0h-1.0zM435.9 185.8h1.0v1.0h-1.0zM438.2 174.0h1.0v1.0h-1.0zM440.1 176.3h1.0v1.0h-1.0zM431.2 169.5h1.0v1.0h-1.0zM434.3 181.1h1.0v1.0h-1.0zM440.6 187.2h1.0v1.0h-1.0zM433.8 170.8h1.0v1.0h-1.0zM439.8 175.9h1.0v1.0h-1.0zM436.0 191.5h1.0v1.0h-1.0zM429.5 194.3h1.0v1.0h-1.0zM430.5 183.7h1.0v1.0h-1.0zM430.5 185.7h1.0v1.0h-1.0zM433.3 176.0h1.0v1.0h-1.0zM432.5 196.3h1.0v1.0h-1.0zM437.1 180.3h1.0v1.0h-1.0zM437.4 183.3h1.0v1.0h-1.0zM434.2 184.8h1.0v1.0h-1.0zM437.9 185.2h1.0v1.0h-1.0zM446.8 181.7h1.0v1.0h-1.0zM430.8 166.3h1.0v1.0h-1.0zM446.5 171.0h1.0v1.0h-1.0zM440.0 175.4h1.0v1.0h-1.0zM425.3 177.5h1.0v1.0h-1.0zM437.6 185.3h1.0v1.0h-1.0zM447.2 190.2h1.0v1.0h-1.0zM435.3 184.6h1.0v1.0h-1.0zM433.6 184.9h1.0v1.0h-1.0zM445.0 182.1h1.0v1.0h-1.0zM426.5 182.7h1.0v1.0h-1.0zM435.4 187.9h1.0v1.0h-1.0zM434.4 179.7h1.0v1.0h-1.0zM434.3 182.9h1.0v1.0h-1.0zM442.8 178.8h1.0v1.0h-1.0zM444.8 185.5h1.0v1.0h-1.0zM441.3 180.4h1.0v1.0h-1.0zM446.7 176.5h1.0v1.0h-1.0zM437.5 170.6h1.0v1.0h-1.0zM434.6 168.5h1.0v1.0h-1.0zM446.5 179.4h1.0v1.0h-1.0zM437.3 173.2h1.0v1.0h-1.0zM435.1 178.1h1.0v1.0h-1.0zM431.7 186.6h1.0v1.0h-1.0zM436.2 183.7h1.0v1.0h-1.0zM431.1 178.4h1.0v1.0h-1.0zM432.0 175.9h1.0v1.0h-1.0zM432.3 183.9h1.0v1.0h-1.0zM444.8 175.1h1.0v1.0h-1.0zM432.2 171.3h1.0v1.0h-1.0zM446.7 185.4h1.0v1.0h-1.0zM438.7 173.4h1.0v1.0h-1.0zM433.0 177.2h1.0v1.0h-1.0zM431.9 177.8h1.0v1.0h-1.0zM433.2 185.3h1.0v1.0h-1.0zM442.2 184.3h1.0v1.0h-1.0zM424.2 198.2h1.0v1.0h-1.0zM433.0 179.4h1.0v1.0h-1.0zM426.1 191.4h1.0v1.0h-1.0zM437.2 170.8h1.0v1.0h-1.0zM434.7 180.5h1.0v1.0h-1.0zM431.3 170.4h1.0v1.0h-1.0zM429.2 180.8h1.0v1.0h-1.0zM432.8 180.7h1.0v1.0h-1.0zM431.1 174.5h1.0v1.0h-1.0zM441.8 176.0h1.0v1.0h-1.0zM435.8 180.9h1.0v1.0h-1.0zM438.2 183.7h1.0v1.0h-1.0zM444.0 172.0h1.0v1.0h-1.0zM441.5 176.5h1.0v1.0h-1.0zM441.2 182.9h1.0v1.0h-1.0zM441.0 181.4h1.0v1.0h-1.0zM444.4 173.0h1.0v1.0h-1.0zM449.0 175.5h1.0v1.0h-1.0zM448.2 179.1h1.0v1.0h-1.0zM433.0 160.0h1.0v1.0h-1.0zM429.4 172.2h1.0v1.0h-1.0z" fill="#9ea7cf" opacity="0.75"/>
</g>
<rect x="423.1" y="115.4" width="85.7" height="86.0" fill="none" stroke="#2a2a2a" stroke-width="1.6" />
<rect x="423.5" y="157.6" width="24.2" height="41.3" fill="none" stroke="#94529a" stroke-width="1.5" />
<rect x="447.7" y="144.5" width="34.6" height="53.3" fill="none" stroke="#94529a" stroke-width="1.5" />
<text x="423.8" y="152.4" font-family="'Liberation Serif', serif" font-size="12" stroke="#000" stroke-width="0.22" textLength="30.3" lengthAdjust="spacingAndGlyphs">82.6%</text>
<text x="455.5" y="142.9" font-family="'Liberation Serif', serif" font-size="12" stroke="#000" stroke-width="0.22" textLength="30.3" lengthAdjust="spacingAndGlyphs">17.4%</text>
<line x1="427" y1="212.3" x2="461.8" y2="212.3" stroke="#000" stroke-width="2.3" stroke-linecap="round"/>
<path d="M457.8 208.0 L462.6 212.3 L457.8 216.60000000000002" fill="none" stroke="#000" stroke-width="1.8" stroke-linejoin="miter"/>
<text x="478.1" y="215.9" font-family="'Liberation Serif', serif" font-size="12" stroke="#000" stroke-width="0.22" textLength="33.1" lengthAdjust="spacingAndGlyphs">CD150</text>
<text x="2.0" y="246.0" font-family="'Liberation Sans', sans-serif" font-size="17.8" font-weight="bold">B</text>
<line x1="44.6" y1="260.6" x2="44.6" y2="343.4" stroke="#8a8a8a" stroke-width="1.3" />
<line x1="44.6" y1="342.9" x2="97" y2="342.9" stroke="#8a8a8a" stroke-width="1.3" />
<line x1="41.6" y1="342.9" x2="44.6" y2="342.9" stroke="#8a8a8a" stroke-width="1.2" />
<text x="34.800000000000004" y="346.695" font-family="'Liberation Serif', serif" font-size="11.5" text-anchor="end" fill="#222" stroke="#222" stroke-width="0.22" textLength="6.0" lengthAdjust="spacingAndGlyphs">0</text>
<line x1="41.6" y1="329.17999999999995" x2="44.6" y2="329.17999999999995" stroke="#8a8a8a" stroke-width="1.2" />
<text x="36.6" y="332.97499999999997" font-family="'Liberation Serif', serif" font-size="11.5" text-anchor="end" fill="#222" stroke="#222" stroke-width="0.22" textLength="15.0" lengthAdjust="spacingAndGlyphs">0.1</text>
<line x1="41.6" y1="315.46" x2="44.6" y2="315.46" stroke="#8a8a8a" stroke-width="1.2" />
<text x="36.6" y="319.255" font-family="'Liberation Serif', serif" font-size="11.5" text-anchor="end" fill="#222" stroke="#222" stroke-width="0.22" textLength="15.0" lengthAdjust="spacingAndGlyphs">0.2</text>
<line x1="41.6" y1="301.73999999999995" x2="44.6" y2="301.73999999999995" stroke="#8a8a8a" stroke-width="1.2" />
<text x="36.6" y="305.53499999999997" font-family="'Liberation Serif', serif" font-size="11.5" text-anchor="end" fill="#222" stroke="#222" stroke-width="0.22" textLength="15.0" lengthAdjust="spacingAndGlyphs">0.3</text>
<line x1="41.6" y1="288.02" x2="44.6" y2="288.02" stroke="#8a8a8a" stroke-width="1.2" />
<text x="36.6" y="291.815" font-family="'Liberation Serif', serif" font-size="11.5" text-anchor="end" fill="#222" stroke="#222" stroke-width="0.22" textLength="15.0" lengthAdjust="spacingAndGlyphs">0.4</text>
<line x1="41.6" y1="274.29999999999995" x2="44.6" y2="274.29999999999995" stroke="#8a8a8a" stroke-width="1.2" />
<text x="36.6" y="278.09499999999997" font-family="'Liberation Serif', serif" font-size="11.5" text-anchor="end" fill="#222" stroke="#222" stroke-width="0.22" textLength="15.0" lengthAdjust="spacingAndGlyphs">0.5</text>
<line x1="41.6" y1="260.58" x2="44.6" y2="260.58" stroke="#8a8a8a" stroke-width="1.2" />
<text x="36.6" y="264.375" font-family="'Liberation Serif', serif" font-size="11.5" text-anchor="end" fill="#222" stroke="#222" stroke-width="0.22" textLength="15.0" lengthAdjust="spacingAndGlyphs">0.6</text>
<rect x="47.7" y="291" width="21.1" height="51.9" fill="#6584bf" />
<rect x="73" y="276.3" width="21.2" height="66.6" fill="#6584bf" />
<line x1="58.2" y1="285.6" x2="58.2" y2="296.6" stroke="#16234f" stroke-width="1.3" />
<line x1="56.0" y1="285.6" x2="60.400000000000006" y2="285.6" stroke="#16234f" stroke-width="1.3" />
<line x1="56.0" y1="296.6" x2="60.400000000000006" y2="296.6" stroke="#16234f" stroke-width="1.3" />
<line x1="83.7" y1="270.6" x2="83.7" y2="282.3" stroke="#16234f" stroke-width="1.3" />
<line x1="81.5" y1="270.6" x2="85.9" y2="270.6" stroke="#16234f" stroke-width="1.3" />
<line x1="81.5" y1="282.3" x2="85.9" y2="282.3" stroke="#16234f" stroke-width="1.3" />
<text x="51.5" y="266.4" font-family="'Liberation Serif', serif" font-size="12" fill="#222" stroke="#222" stroke-width="0.22" textLength="38.5" lengthAdjust="spacingAndGlyphs"><tspan font-style="italic">P</tspan> = .0097</text>
<text x="49.5" y="356.1" font-family="'Liberation Serif', serif" font-size="11.8" stroke="#000" stroke-width="0.22" textLength="16.9" lengthAdjust="spacingAndGlyphs">WT</text>
<text x="74.9" y="356.1" font-family="'Liberation Serif', serif" font-size="11.8" stroke="#000" stroke-width="0.22" textLength="17.2" lengthAdjust="spacingAndGlyphs">KO</text>
<text x="17.4" y="346.4" font-family="'Liberation Serif', serif" font-size="12.2" stroke="#000" stroke-width="0.22" textLength="82" lengthAdjust="spacingAndGlyphs" transform="rotate(-90 17.4 346.4)">% LSK in BMNC</text>
<text x="116.9" y="247.4" font-family="'Liberation Sans', sans-serif" font-size="17" font-weight="bold">C</text>
<line x1="176.4" y1="260.8" x2="176.4" y2="344.7" stroke="#8a8a8a" stroke-width="1.3" />
<line x1="176.4" y1="344.2" x2="226.5" y2="344.2" stroke="#8a8a8a" stroke-width="1.3" />
<line x1="173.4" y1="344.2" x2="176.4" y2="344.2" stroke="#8a8a8a" stroke-width="1.2" />
<text x="169.4" y="347.5" font-family="'Liberation Serif', serif" font-size="10" text-anchor="end" fill="#222" stroke="#222" stroke-width="0.22" textLength="4.3" lengthAdjust="spacingAndGlyphs">0</text>
<line x1="173.4" y1="316.4" x2="176.4" y2="316.4" stroke="#8a8a8a" stroke-width="1.2" />
<text x="169.4" y="319.7" font-family="'Liberation Serif', serif" font-size="10" text-anchor="end" fill="#222" stroke="#222" stroke-width="0.22" textLength="10.8" lengthAdjust="spacingAndGlyphs">0.1</text>
<line x1="173.4" y1="288.59999999999997" x2="176.4" y2="288.59999999999997" stroke="#8a8a8a" stroke-width="1.2" />
<text x="169.4" y="291.9" font-family="'Liberation Serif', serif" font-size="10" text-anchor="end" fill="#222" stroke="#222" stroke-width="0.22" textLength="10.8" lengthAdjust="spacingAndGlyphs">0.2</text>
<line x1="173.4" y1="260.79999999999995" x2="176.4" y2="260.79999999999995" stroke="#8a8a8a" stroke-width="1.2" />
<text x="169.4" y="264.09999999999997" font-family="'Liberation Serif', serif" font-size="10" text-anchor="end" fill="#222" stroke="#222" stroke-width="0.22" textLength="10.8" lengthAdjust="spacingAndGlyphs">0.3</text>
<line x1="173.4" y1="330.3" x2="176.4" y2="330.3" stroke="#8a8a8a" stroke-width="1.2" />
<line x1="173.4" y1="302.5" x2="176.4" y2="302.5" stroke="#8a8a8a" stroke-width="1.2" />
<line x1="173.4" y1="274.7" x2="176.4" y2="274.7" stroke="#8a8a8a" stroke-width="1.2" />
<rect x="180.2" y="317" width="19.0" height="27.2" fill="#6584bf" />
<rect x="204.5" y="280.2" width="19.2" height="64.0" fill="#6584bf" />
<line x1="190.2" y1="313.8" x2="190.2" y2="319.6" stroke="#16234f" stroke-width="1.3" />
<line x1="188.0" y1="313.8" x2="192.39999999999998" y2="313.8" stroke="#16234f" stroke-width="1.3" />
<line x1="188.0" y1="319.6" x2="192.39999999999998" y2="319.6" stroke="#16234f" stroke-width="1.3" />
<line x1="214.3" y1="275" x2="214.3" y2="286.2" stroke="#16234f" stroke-width="1.3" />
<line x1="212.10000000000002" y1="275" x2="216.5" y2="275" stroke="#16234f" stroke-width="1.3" />
<line x1="212.10000000000002" y1="286.2" x2="216.5" y2="286.2" stroke="#16234f" stroke-width="1.3" />
<text x="182.7" y="271.3" font-family="'Liberation Serif', serif" font-size="11.8" fill="#222" stroke="#222" stroke-width="0.22" textLength="38.6" lengthAdjust="spacingAndGlyphs"><tspan font-style="italic">P</tspan> &lt; .0001</text>
<text x="182.2" y="358.2" font-family="'Liberation Serif', serif" font-size="11.8" stroke="#000" stroke-width="0.22" textLength="17.8" lengthAdjust="spacingAndGlyphs">WT</text>
<text x="206.2" y="358.2" font-family="'Liberation Serif', serif" font-size="11.8" stroke="#000" stroke-width="0.22" textLength="17" lengthAdjust="spacingAndGlyphs">KO</text>
<text x="153.8" y="351.8" transform="rotate(-90 153.8 351.8)" font-family="'Liberation Serif', serif" font-size="10.5" fill="#222" stroke="#222" stroke-width="0.22" textLength="96.8" lengthAdjust="spacingAndGlyphs">%LSK/Flk2<tspan dy="-4" font-size="7">+</tspan><tspan dy="4"> in BMNC</tspan></text>
<text x="248.4" y="249.3" font-family="'Liberation Sans', sans-serif" font-size="17.2" font-weight="bold">D</text>
<line x1="315" y1="261.9" x2="315" y2="344.4" stroke="#8a8a8a" stroke-width="1.3" />
<line x1="315" y1="343.9" x2="369" y2="343.9" stroke="#8a8a8a" stroke-width="1.3" />
<line x1="312" y1="343.9" x2="315" y2="343.9" stroke="#8a8a8a" stroke-width="1.2" />
<text x="308.2" y="347.53" font-family="'Liberation Serif', serif" font-size="11" text-anchor="end" fill="#222" stroke="#222" stroke-width="0.22" textLength="5.2" lengthAdjust="spacingAndGlyphs">0</text>
<line x1="312" y1="323.4" x2="315" y2="323.4" stroke="#8a8a8a" stroke-width="1.2" />
<text x="309.4" y="327.03" font-family="'Liberation Serif', serif" font-size="11" text-anchor="end" fill="#222" stroke="#222" stroke-width="0.22" textLength="13.0" lengthAdjust="spacingAndGlyphs">0.2</text>
<line x1="312" y1="302.9" x2="315" y2="302.9" stroke="#8a8a8a" stroke-width="1.2" />
<text x="309.4" y="306.53" font-family="'Liberation Serif', serif" font-size="11" text-anchor="end" fill="#222" stroke="#222" stroke-width="0.22" textLength="13.0" lengthAdjust="spacingAndGlyphs">0.4</text>
<line x1="312" y1="282.4" x2="315" y2="282.4" stroke="#8a8a8a" stroke-width="1.2" />
<text x="309.4" y="286.03" font-family="'Liberation Serif', serif" font-size="11" text-anchor="end" fill="#222" stroke="#222" stroke-width="0.22" textLength="13.0" lengthAdjust="spacingAndGlyphs">0.6</text>
<line x1="312" y1="261.9" x2="315" y2="261.9" stroke="#8a8a8a" stroke-width="1.2" />
<text x="309.4" y="265.53" font-family="'Liberation Serif', serif" font-size="11" text-anchor="end" fill="#222" stroke="#222" stroke-width="0.22" textLength="13.0" lengthAdjust="spacingAndGlyphs">0.8</text>
<rect x="317.9" y="315.4" width="21.0" height="28.5" fill="#6584bf" />
<rect x="344.5" y="276.5" width="21.3" height="67.4" fill="#6584bf" />
<line x1="328.4" y1="310.4" x2="328.4" y2="320.8" stroke="#16234f" stroke-width="1.3" />
<line x1="326.2" y1="310.4" x2="330.59999999999997" y2="310.4" stroke="#16234f" stroke-width="1.3" />
<line x1="326.2" y1="320.8" x2="330.59999999999997" y2="320.8" stroke="#16234f" stroke-width="1.3" />
<line x1="355.2" y1="266.5" x2="355.2" y2="286.8" stroke="#16234f" stroke-width="1.3" />
<line x1="353.0" y1="266.5" x2="357.4" y2="266.5" stroke="#16234f" stroke-width="1.3" />
<line x1="353.0" y1="286.8" x2="357.4" y2="286.8" stroke="#16234f" stroke-width="1.3" />
<text x="323.3" y="263.8" font-family="'Liberation Serif', serif" font-size="11.8" fill="#222" stroke="#222" stroke-width="0.22" textLength="39.6" lengthAdjust="spacingAndGlyphs"><tspan font-style="italic">P</tspan> &lt; .0001</text>
<text x="320.6" y="356.5" font-family="'Liberation Serif', serif" font-size="11.8" stroke="#000" stroke-width="0.22" textLength="16.2" lengthAdjust="spacingAndGlyphs">WT</text>
<text x="346.7" y="356.5" font-family="'Liberation Serif', serif" font-size="11.8" stroke="#000" stroke-width="0.22" textLength="17" lengthAdjust="spacingAndGlyphs">KO</text>
<text x="280.2" y="347.7" font-family="'Liberation Serif', serif" font-size="10.8" fill="#222" stroke="#222" stroke-width="0.22" textLength="84.8" lengthAdjust="spacingAndGlyphs" transform="rotate(-90 280.2 347.7)">Absolute number of</text>
<text x="292.6" y="339.7" transform="rotate(-90 292.6 339.7)" font-family="'Liberation Serif', serif" font-size="10.8" fill="#222" stroke="#222" stroke-width="0.22" textLength="67.8" lengthAdjust="spacingAndGlyphs">LSK/Flk2<tspan dy="-4" font-size="7">+</tspan><tspan dy="4"> cells</tspan></text>
<text x="387.7" y="248.0" font-family="'Liberation Sans', sans-serif" font-size="16.5" font-weight="bold">E</text>
<line x1="460.3" y1="259.5" x2="460.3" y2="344.1" stroke="#8a8a8a" stroke-width="1.3" />
<line x1="460.3" y1="343.6" x2="516" y2="343.6" stroke="#8a8a8a" stroke-width="1.3" />
<line x1="457.3" y1="343.6" x2="460.3" y2="343.6" stroke="#8a8a8a" stroke-width="1.2" />
<text x="455.2" y="346.90000000000003" font-family="'Liberation Serif', serif" font-size="10" text-anchor="end" fill="#222" stroke="#222" stroke-width="0.22" textLength="5.0" lengthAdjust="spacingAndGlyphs">0</text>
<line x1="457.3" y1="315.56" x2="460.3" y2="315.56" stroke="#8a8a8a" stroke-width="1.2" />
<text x="455.8" y="318.86" font-family="'Liberation Serif', serif" font-size="10" text-anchor="end" fill="#222" stroke="#222" stroke-width="0.22" textLength="12.6" lengthAdjust="spacingAndGlyphs">0.1</text>
<line x1="457.3" y1="287.52000000000004" x2="460.3" y2="287.52000000000004" stroke="#8a8a8a" stroke-width="1.2" />
<text x="455.8" y="290.82000000000005" font-family="'Liberation Serif', serif" font-size="10" text-anchor="end" fill="#222" stroke="#222" stroke-width="0.22" textLength="12.6" lengthAdjust="spacingAndGlyphs">0.2</text>
<line x1="457.3" y1="259.48" x2="460.3" y2="259.48" stroke="#8a8a8a" stroke-width="1.2" />
<text x="455.8" y="262.78000000000003" font-family="'Liberation Serif', serif" font-size="10" text-anchor="end" fill="#222" stroke="#222" stroke-width="0.22" textLength="12.6" lengthAdjust="spacingAndGlyphs">0.3</text>
<line x1="457.3" y1="329.58000000000004" x2="460.3" y2="329.58000000000004" stroke="#8a8a8a" stroke-width="1.2" />
<line x1="457.3" y1="301.54" x2="460.3" y2="301.54" stroke="#8a8a8a" stroke-width="1.2" />
<line x1="457.3" y1="273.5" x2="460.3" y2="273.5" stroke="#8a8a8a" stroke-width="1.2" />
<rect x="463.3" y="282.9" width="21.6" height="60.7" fill="#6584bf" />
<rect x="492.5" y="280.3" width="21.4" height="63.3" fill="#6584bf" />
<line x1="474.3" y1="277.4" x2="474.3" y2="288.6" stroke="#16234f" stroke-width="1.3" />
<line x1="472.1" y1="277.4" x2="476.5" y2="277.4" stroke="#16234f" stroke-width="1.3" />
<line x1="472.1" y1="288.6" x2="476.5" y2="288.6" stroke="#16234f" stroke-width="1.3" />
<line x1="503.2" y1="274.3" x2="503.2" y2="286.5" stroke="#16234f" stroke-width="1.3" />
<line x1="501.0" y1="274.3" x2="505.4" y2="274.3" stroke="#16234f" stroke-width="1.3" />
<line x1="501.0" y1="286.5" x2="505.4" y2="286.5" stroke="#16234f" stroke-width="1.3" />
<text x="474.2" y="269.6" font-family="'Liberation Serif', serif" font-size="12.4" fill="#222" stroke="#222" stroke-width="0.22" textLength="42.6" lengthAdjust="spacingAndGlyphs"><tspan font-style="italic">P</tspan> = .5995</text>
<text x="466" y="354.9" font-family="'Liberation Serif', serif" font-size="11.8" stroke="#000" stroke-width="0.22" textLength="16.9" lengthAdjust="spacingAndGlyphs">WT</text>
<text x="494" y="354.9" font-family="'Liberation Serif', serif" font-size="11.8" stroke="#000" stroke-width="0.22" textLength="17.4" lengthAdjust="spacingAndGlyphs">KO</text>
<text x="423.8" y="342.1" font-family="'Liberation Serif', serif" font-size="10.2" fill="#222" stroke="#222" stroke-width="0.22" textLength="81.9" lengthAdjust="spacingAndGlyphs" transform="rotate(-90 423.8 342.1)">% LSK/Flk2+ cells</text>
<text x="435.2" y="317.8" font-family="'Liberation Serif', serif" font-size="10.5" fill="#222" stroke="#222" stroke-width="0.22" textLength="29.2" lengthAdjust="spacingAndGlyphs" transform="rotate(-90 435.2 317.8)">BMNC</text>
<text x="2.6" y="392.2" font-family="'Liberation Sans', sans-serif" font-size="17.8" font-weight="bold">F</text>
<line x1="38.6" y1="410.5" x2="38.6" y2="511.5" stroke="#9a9a9a" stroke-width="1.1" />
<line x1="38.6" y1="511.5" x2="226.2" y2="511.5" stroke="#9a9a9a" stroke-width="1.1" />
<line x1="36" y1="511.5" x2="38.6" y2="511.5" stroke="#9a9a9a" stroke-width="1" />
<text x="31.800000000000004" y="514.9" font-family="'Liberation Serif', serif" font-size="10.5" text-anchor="end" fill="#222" stroke="#222" stroke-width="0.22" textLength="4.7" lengthAdjust="spacingAndGlyphs">0</text>
<line x1="36" y1="497.14" x2="38.6" y2="497.14" stroke="#9a9a9a" stroke-width="1" />
<text x="33.2" y="500.53999999999996" font-family="'Liberation Serif', serif" font-size="10.5" text-anchor="end" fill="#222" stroke="#222" stroke-width="0.22" textLength="9.4" lengthAdjust="spacingAndGlyphs">10</text>
<line x1="36" y1="482.78" x2="38.6" y2="482.78" stroke="#9a9a9a" stroke-width="1" />
<text x="33.2" y="486.17999999999995" font-family="'Liberation Serif', serif" font-size="10.5" text-anchor="end" fill="#222" stroke="#222" stroke-width="0.22" textLength="9.4" lengthAdjust="spacingAndGlyphs">20</text>
<line x1="36" y1="468.42" x2="38.6" y2="468.42" stroke="#9a9a9a" stroke-width="1" />
<text x="33.2" y="471.82" font-family="'Liberation Serif', serif" font-size="10.5" text-anchor="end" fill="#222" stroke="#222" stroke-width="0.22" textLength="9.4" lengthAdjust="spacingAndGlyphs">30</text>
<line x1="36" y1="454.06" x2="38.6" y2="454.06" stroke="#9a9a9a" stroke-width="1" />
<text x="33.2" y="457.46" font-family="'Liberation Serif', serif" font-size="10.5" text-anchor="end" fill="#222" stroke="#222" stroke-width="0.22" textLength="9.4" lengthAdjust="spacingAndGlyphs">40</text>
<line x1="36" y1="439.7" x2="38.6" y2="439.7" stroke="#9a9a9a" stroke-width="1" />
<text x="33.2" y="443.09999999999997" font-family="'Liberation Serif', serif" font-size="10.5" text-anchor="end" fill="#222" stroke="#222" stroke-width="0.22" textLength="9.4" lengthAdjust="spacingAndGlyphs">50</text>
<line x1="36" y1="425.34000000000003" x2="38.6" y2="425.34000000000003" stroke="#9a9a9a" stroke-width="1" />
<text x="33.2" y="428.74" font-family="'Liberation Serif', serif" font-size="10.5" text-anchor="end" fill="#222" stroke="#222" stroke-width="0.22" textLength="9.4" lengthAdjust="spacingAndGlyphs">60</text>
<line x1="36" y1="410.98" x2="38.6" y2="410.98" stroke="#9a9a9a" stroke-width="1" />
<text x="33.2" y="414.38" font-family="'Liberation Serif', serif" font-size="10.5" text-anchor="end" fill="#222" stroke="#222" stroke-width="0.22" textLength="9.4" lengthAdjust="spacingAndGlyphs">70</text>
<line x1="69.8" y1="511.5" x2="69.8" y2="514.0" stroke="#9a9a9a" stroke-width="1" />
<line x1="100.9" y1="511.5" x2="100.9" y2="514.0" stroke="#9a9a9a" stroke-width="1" />
<line x1="133" y1="511.5" x2="133" y2="514.0" stroke="#9a9a9a" stroke-width="1" />
<line x1="163.8" y1="511.5" x2="163.8" y2="514.0" stroke="#9a9a9a" stroke-width="1" />
<line x1="194.7" y1="511.5" x2="194.7" y2="514.0" stroke="#9a9a9a" stroke-width="1" />
<line x1="226" y1="511.5" x2="226" y2="514.0" stroke="#9a9a9a" stroke-width="1" />
<line x1="133" y1="511.5" x2="133" y2="532.5" stroke="#9a9a9a" stroke-width="1" />
<text x="19.4" y="474" font-family="'Liberation Serif', serif" font-size="10" fill="#222" stroke="#222" stroke-width="0.22" textLength="8.8" lengthAdjust="spacingAndGlyphs" transform="rotate(-90 19.4 474)">%</text>
<line x1="49.349999999999994" y1="438.5" x2="49.349999999999994" y2="432.8" stroke="#5a6060" stroke-width="1" />
<line x1="47.14999999999999" y1="432.8" x2="51.55" y2="432.8" stroke="#5a6060" stroke-width="1.2" />
<line x1="58.75" y1="443.4" x2="58.75" y2="438.5" stroke="#5a6060" stroke-width="1" />
<line x1="56.55" y1="438.5" x2="60.95" y2="438.5" stroke="#5a6060" stroke-width="1.2" />
<rect x="44.8" y="438.9" width="9.1" height="72.6" fill="#9b9bd3" stroke="#3e3558" stroke-width="0.9" />
<rect x="54.699999999999996" y="443.79999999999995" width="8.1" height="67.7" fill="#8a2c62" stroke="#3e3558" stroke-width="0.9" />
<line x1="80.75" y1="466.2" x2="80.75" y2="460.3" stroke="#5a6060" stroke-width="1" />
<line x1="78.55" y1="460.3" x2="82.95" y2="460.3" stroke="#5a6060" stroke-width="1.2" />
<line x1="89.95" y1="455.0" x2="89.95" y2="438.0" stroke="#5a6060" stroke-width="1" />
<line x1="87.75" y1="438.0" x2="92.15" y2="438.0" stroke="#5a6060" stroke-width="1.2" />
<rect x="76.5" y="466.59999999999997" width="8.5" height="44.9" fill="#9b9bd3" stroke="#3e3558" stroke-width="0.9" />
<rect x="85.80000000000001" y="455.4" width="8.3" height="56.1" fill="#8a2c62" stroke="#3e3558" stroke-width="0.9" />
<line x1="111.75" y1="504.1" x2="111.75" y2="501.5" stroke="#5a6060" stroke-width="1" />
<line x1="109.55" y1="501.5" x2="113.95" y2="501.5" stroke="#5a6060" stroke-width="1.2" />
<line x1="121.3" y1="504.1" x2="121.3" y2="498.4" stroke="#5a6060" stroke-width="1" />
<line x1="119.1" y1="498.4" x2="123.5" y2="498.4" stroke="#5a6060" stroke-width="1.2" />
<rect x="107.60000000000001" y="504.5" width="8.3" height="7.0" fill="#9b9bd3" stroke="#3e3558" stroke-width="0.9" />
<rect x="116.7" y="504.5" width="9.2" height="7.0" fill="#8a2c62" stroke="#3e3558" stroke-width="0.9" />
<line x1="143.45" y1="424.2" x2="143.45" y2="421.2" stroke="#5a6060" stroke-width="1" />
<line x1="141.25" y1="421.2" x2="145.64999999999998" y2="421.2" stroke="#5a6060" stroke-width="1.2" />
<line x1="152.45" y1="434.2" x2="152.45" y2="420.3" stroke="#5a6060" stroke-width="1" />
<line x1="150.25" y1="420.3" x2="154.64999999999998" y2="420.3" stroke="#5a6060" stroke-width="1.2" />
<rect x="139.20000000000002" y="424.59999999999997" width="8.5" height="86.9" fill="#9b9bd3" stroke="#3e3558" stroke-width="0.9" />
<rect x="148.5" y="434.59999999999997" width="7.9" height="76.9" fill="#8a2c62" stroke="#3e3558" stroke-width="0.9" />
<line x1="174.35" y1="469.2" x2="174.35" y2="464.2" stroke="#5a6060" stroke-width="1" />
<line x1="172.15" y1="464.2" x2="176.54999999999998" y2="464.2" stroke="#5a6060" stroke-width="1.2" />
<line x1="183.6" y1="465.3" x2="183.6" y2="438.8" stroke="#5a6060" stroke-width="1" />
<line x1="181.4" y1="438.8" x2="185.79999999999998" y2="438.8" stroke="#5a6060" stroke-width="1.2" />
<rect x="169.9" y="469.59999999999997" width="8.9" height="41.9" fill="#9b9bd3" stroke="#3e3558" stroke-width="0.9" />
<rect x="179.6" y="465.7" width="8.0" height="45.8" fill="#8a2c62" stroke="#3e3558" stroke-width="0.9" />
<line x1="206.05" y1="503.4" x2="206.05" y2="501.5" stroke="#5a6060" stroke-width="1" />
<line x1="203.85000000000002" y1="501.5" x2="208.25" y2="501.5" stroke="#5a6060" stroke-width="1.2" />
<line x1="215.25" y1="498.1" x2="215.25" y2="488.2" stroke="#5a6060" stroke-width="1" />
<line x1="213.05" y1="488.2" x2="217.45" y2="488.2" stroke="#5a6060" stroke-width="1.2" />
<rect x="201.6" y="503.79999999999995" width="8.9" height="7.7" fill="#9b9bd3" stroke="#3e3558" stroke-width="0.9" />
<rect x="211.3" y="498.5" width="7.9" height="13.0" fill="#8a2c62" stroke="#3e3558" stroke-width="0.9" />
<text x="43.8" y="526.4" font-family="'Liberation Serif', serif" font-size="10" fill="#111" stroke="#111" stroke-width="0.22" textLength="26" lengthAdjust="spacingAndGlyphs">G0/G1</text>
<text x="82.7" y="526.4" font-family="'Liberation Serif', serif" font-size="10" fill="#111" stroke="#111" stroke-width="0.22" textLength="5" lengthAdjust="spacingAndGlyphs">S</text>
<text x="107.2" y="526.4" font-family="'Liberation Serif', serif" font-size="10" fill="#111" stroke="#111" stroke-width="0.22" textLength="24" lengthAdjust="spacingAndGlyphs">G2/M</text>
<text x="137.7" y="527.4" font-family="'Liberation Serif', serif" font-size="10" fill="#111" stroke="#111" stroke-width="0.22" textLength="25.4" lengthAdjust="spacingAndGlyphs">G0/G1</text>
<text x="176.8" y="527.4" font-family="'Liberation Serif', serif" font-size="10" fill="#111" stroke="#111" stroke-width="0.22" textLength="5" lengthAdjust="spacingAndGlyphs">S</text>
<text x="202.3" y="527.4" font-family="'Liberation Serif', serif" font-size="10" fill="#111" stroke="#111" stroke-width="0.22" textLength="23.2" lengthAdjust="spacingAndGlyphs">G2/M</text>
<line x1="42.7" y1="530" x2="127.7" y2="530" stroke="#000" stroke-width="2" />
<line x1="138.4" y1="531.2" x2="224.7" y2="531.2" stroke="#000" stroke-width="2" />
<text x="79.6" y="538.7" font-family="'Liberation Serif', serif" font-size="10" fill="#222" stroke="#222" stroke-width="0.22" textLength="16" lengthAdjust="spacing">Lin-</text>
<text x="172.2" y="538.7" font-family="'Liberation Serif', serif" font-size="10" fill="#222" stroke="#222" stroke-width="0.22" textLength="18.6" lengthAdjust="spacing">LSK</text>
<rect x="179.8" y="410.8" width="3.6" height="3.6" fill="#9b9bd3" stroke="#3e3558" stroke-width="0.9" />
<rect x="179.8" y="422.0" width="3.6" height="3.6" fill="#8a2c62" stroke="#3e3558" stroke-width="0.9" />
<text x="185.6" y="416.2" font-family="'Liberation Serif', serif" font-size="10.2" fill="#222" stroke="#222" stroke-width="0.22" textLength="38.6" lengthAdjust="spacing">W T n=3</text>
<text x="185.6" y="427.3" font-family="'Liberation Serif', serif" font-size="10.2" fill="#222" stroke="#222" stroke-width="0.22" textLength="38.6" lengthAdjust="spacing">KO  n=4</text>
<text x="271.0" y="392.8" font-family="'Liberation Sans', sans-serif" font-size="18.2" font-weight="bold">G</text>
<line x1="326.6" y1="417.5" x2="326.6" y2="523.8" stroke="#9a9a9a" stroke-width="1.1" />
<line x1="326.6" y1="523.8" x2="514" y2="523.8" stroke="#b8b8b8" stroke-width="0.9" />
<line x1="387.7" y1="523.8" x2="387.7" y2="526.0" stroke="#b8b8b8" stroke-width="0.9" />
<line x1="456.5" y1="523.8" x2="456.5" y2="526.0" stroke="#b8b8b8" stroke-width="0.9" />
<line x1="324" y1="523.8" x2="326.6" y2="523.8" stroke="#9a9a9a" stroke-width="1" />
<text x="319.2" y="527.4" font-family="'Liberation Serif', serif" font-size="11" text-anchor="end" fill="#222" stroke="#222" stroke-width="0.22" textLength="5.2" lengthAdjust="spacingAndGlyphs">0</text>
<line x1="324" y1="506.11999999999995" x2="326.6" y2="506.11999999999995" stroke="#9a9a9a" stroke-width="1" />
<text x="320.8" y="509.71999999999997" font-family="'Liberation Serif', serif" font-size="11" text-anchor="end" fill="#222" stroke="#222" stroke-width="0.22" textLength="11" lengthAdjust="spacingAndGlyphs">10</text>
<line x1="324" y1="488.43999999999994" x2="326.6" y2="488.43999999999994" stroke="#9a9a9a" stroke-width="1" />
<text x="320.8" y="492.03999999999996" font-family="'Liberation Serif', serif" font-size="11" text-anchor="end" fill="#222" stroke="#222" stroke-width="0.22" textLength="11" lengthAdjust="spacingAndGlyphs">20</text>
<line x1="324" y1="470.75999999999993" x2="326.6" y2="470.75999999999993" stroke="#9a9a9a" stroke-width="1" />
<text x="320.8" y="474.35999999999996" font-family="'Liberation Serif', serif" font-size="11" text-anchor="end" fill="#222" stroke="#222" stroke-width="0.22" textLength="11" lengthAdjust="spacingAndGlyphs">30</text>
<line x1="324" y1="453.0799999999999" x2="326.6" y2="453.0799999999999" stroke="#9a9a9a" stroke-width="1" />
<text x="320.8" y="456.67999999999995" font-family="'Liberation Serif', serif" font-size="11" text-anchor="end" fill="#222" stroke="#222" stroke-width="0.22" textLength="11" lengthAdjust="spacingAndGlyphs">40</text>
<line x1="324" y1="435.4" x2="326.6" y2="435.4" stroke="#9a9a9a" stroke-width="1" />
<text x="320.8" y="439.0" font-family="'Liberation Serif', serif" font-size="11" text-anchor="end" fill="#222" stroke="#222" stroke-width="0.22" textLength="11" lengthAdjust="spacingAndGlyphs">50</text>
<line x1="324" y1="417.71999999999997" x2="326.6" y2="417.71999999999997" stroke="#9a9a9a" stroke-width="1" />
<text x="320.8" y="421.32" font-family="'Liberation Serif', serif" font-size="11" text-anchor="end" fill="#222" stroke="#222" stroke-width="0.22" textLength="11" lengthAdjust="spacingAndGlyphs">60</text>
<text x="303.4" y="521.2" font-family="'Liberation Serif', serif" font-size="12" fill="#222" stroke="#222" stroke-width="0.22" textLength="98.9" lengthAdjust="spacingAndGlyphs" transform="rotate(-90 303.4 521.2)">% of total BMNC</text>
<rect x="330.0" y="518.3" width="4.0" height="5.5" fill="#9a9ad0" stroke="#6b7080" stroke-width="0.8" />
<rect x="334.79999999999995" y="522.0" width="3.1" height="1.8" fill="#7b2a5c" stroke="#6b7080" stroke-width="0.8" />
<rect x="338.7" y="462.3" width="3.6" height="61.5" fill="#fdfde0" stroke="#6b7080" stroke-width="0.8" />
<rect x="343.09999999999997" y="453.3" width="4.0" height="70.5" fill="#ecfbfb" stroke="#6b7080" stroke-width="0.8" />
<rect x="354.09999999999997" y="516.2" width="4.0" height="7.6" fill="#9a9ad0" stroke="#6b7080" stroke-width="0.8" />
<rect x="358.9" y="522.3" width="3.0" height="1.5" fill="#7b2a5c" stroke="#6b7080" stroke-width="0.8" />
<rect x="362.7" y="484.6" width="3.6" height="39.2" fill="#fdfde0" stroke="#6b7080" stroke-width="0.8" />
<rect x="367.09999999999997" y="476.7" width="4.0" height="47.1" fill="#ecfbfb" stroke="#6b7080" stroke-width="0.8" />
<rect x="401.4" y="518.2" width="4.0" height="5.6" fill="#9a9ad0" stroke="#6b7080" stroke-width="0.8" />
<rect x="406.2" y="520.6" width="3.3" height="3.2" fill="#7b2a5c" stroke="#6b7080" stroke-width="0.8" />
<rect x="410.29999999999995" y="462.4" width="3.5" height="61.4" fill="#fdfde0" stroke="#6b7080" stroke-width="0.8" />
<rect x="414.59999999999997" y="437.2" width="3.6" height="86.6" fill="#ecfbfb" stroke="#6b7080" stroke-width="0.8" />
<rect x="424.7" y="518.2" width="3.6" height="5.6" fill="#9a9ad0" stroke="#6b7080" stroke-width="0.8" />
<rect x="429.09999999999997" y="519.4" width="4.0" height="4.4" fill="#7b2a5c" stroke="#6b7080" stroke-width="0.8" />
<rect x="433.9" y="479.2" width="3.2" height="44.6" fill="#fdfde0" stroke="#6b7080" stroke-width="0.8" />
<rect x="437.9" y="461.2" width="3.6" height="62.6" fill="#ecfbfb" stroke="#6b7080" stroke-width="0.8" />
<rect x="471.79999999999995" y="515.8" width="3.8" height="8.0" fill="#9a9ad0" stroke="#6b7080" stroke-width="0.8" />
<rect x="476.4" y="504.5" width="3.5" height="19.3" fill="#7b2a5c" stroke="#6b7080" stroke-width="0.8" />
<rect x="480.7" y="462.9" width="3.3" height="60.9" fill="#fdfde0" stroke="#6b7080" stroke-width="0.8" />
<rect x="484.79999999999995" y="433.3" width="4.0" height="90.5" fill="#ecfbfb" stroke="#6b7080" stroke-width="0.8" />
<rect x="495.59999999999997" y="517.7" width="3.6" height="6.1" fill="#9a9ad0" stroke="#6b7080" stroke-width="0.8" />
<rect x="500.0" y="508.6" width="3.3" height="15.2" fill="#7b2a5c" stroke="#6b7080" stroke-width="0.8" />
<rect x="504.09999999999997" y="478.5" width="3.5" height="45.3" fill="#fdfde0" stroke="#6b7080" stroke-width="0.8" />
<rect x="508.4" y="465.3" width="4.0" height="58.5" fill="#ecfbfb" stroke="#6b7080" stroke-width="0.8" />
<text x="330" y="536.2" font-family="'Liberation Serif', serif" font-size="12" fill="#222" stroke="#222" stroke-width="0.22" textLength="17.9" lengthAdjust="spacingAndGlyphs">WT</text>
<text x="355.6" y="536.2" font-family="'Liberation Serif', serif" font-size="12" fill="#222" stroke="#222" stroke-width="0.22" textLength="16.3" lengthAdjust="spacingAndGlyphs">KO</text>
<text x="402.2" y="536.2" font-family="'Liberation Serif', serif" font-size="12" fill="#222" stroke="#222" stroke-width="0.22" textLength="16.8" lengthAdjust="spacingAndGlyphs">WT</text>
<text x="427.5" y="536.2" font-family="'Liberation Serif', serif" font-size="12" fill="#222" stroke="#222" stroke-width="0.22" textLength="16.8" lengthAdjust="spacingAndGlyphs">KO</text>
<text x="472.4" y="536.2" font-family="'Liberation Serif', serif" font-size="12" fill="#222" stroke="#222" stroke-width="0.22" textLength="16.8" lengthAdjust="spacingAndGlyphs">WT</text>
<text x="498.8" y="536.2" font-family="'Liberation Serif', serif" font-size="12" fill="#222" stroke="#222" stroke-width="0.22" textLength="15.9" lengthAdjust="spacingAndGlyphs">KO</text>
<text x="341.4" y="546.6" font-family="'Liberation Serif', serif" font-size="12" fill="#222" stroke="#222" stroke-width="0.22" textLength="24.8" lengthAdjust="spacingAndGlyphs">day 3</text>
<text x="410.5" y="546.0" font-family="'Liberation Serif', serif" font-size="12" fill="#222" stroke="#222" stroke-width="0.22" textLength="24.2" lengthAdjust="spacingAndGlyphs">day 6</text>
<text x="480.2" y="547.2" font-family="'Liberation Serif', serif" font-size="12" fill="#222" stroke="#222" stroke-width="0.22" textLength="25.4" lengthAdjust="spacingAndGlyphs">day 9</text>
<rect x="362.5" y="405.4" width="4.3" height="4.3" fill="#9a9ad0" stroke="#6b7080" stroke-width="0.8" />
<text x="368.2" y="410.6" font-family="'Liberation Serif', serif" font-size="10.5" fill="#222" stroke="#222" stroke-width="0.22" textLength="30.5" lengthAdjust="spacingAndGlyphs">B220+</text>
<rect x="362.5" y="417.4" width="4.3" height="4.3" fill="#7b2a5c" stroke="#6b7080" stroke-width="0.8" />
<text x="368.2" y="422.3" font-family="'Liberation Serif', serif" font-size="10.5" fill="#222" stroke="#222" stroke-width="0.22" textLength="25.5" lengthAdjust="spacingAndGlyphs">CD3+</text>
<rect x="362.5" y="428.3" width="4.3" height="4.3" fill="#fdfde0" stroke="#6b7080" stroke-width="0.8" />
<text x="368.2" y="433.5" font-family="'Liberation Serif', serif" font-size="10.5" fill="#222" stroke="#222" stroke-width="0.22" textLength="22.5" lengthAdjust="spacingAndGlyphs">Gr1+</text>
<rect x="362.5" y="439.0" width="4.3" height="4.3" fill="#ecfbfb" stroke="#6b7080" stroke-width="0.8" />
<text x="368.2" y="444.5" font-family="'Liberation Serif', serif" font-size="10.5" fill="#222" stroke="#222" stroke-width="0.22" textLength="29.5" lengthAdjust="spacingAndGlyphs">Mac1+</text>
<text x="2.9" y="582.2" font-family="'Liberation Sans', sans-serif" font-size="18.5" font-weight="bold">H</text>
<line x1="68.0" y1="702.26" x2="157.2" y2="702.26" stroke="#000" stroke-width="2" />
<text x="63.4" y="705.46" font-family="'Liberation Sans', sans-serif" font-size="9.4" text-anchor="end" fill="#4e4e4e" textLength="8.6" lengthAdjust="spacingAndGlyphs">10</text>
<line x1="68.0" y1="686.52" x2="157.2" y2="686.52" stroke="#000" stroke-width="2" />
<text x="63.4" y="689.72" font-family="'Liberation Sans', sans-serif" font-size="9.4" text-anchor="end" fill="#4e4e4e" textLength="8.6" lengthAdjust="spacingAndGlyphs">20</text>
<line x1="68.0" y1="670.78" x2="157.2" y2="670.78" stroke="#000" stroke-width="2" />
<text x="63.4" y="673.98" font-family="'Liberation Sans', sans-serif" font-size="9.4" text-anchor="end" fill="#4e4e4e" textLength="8.6" lengthAdjust="spacingAndGlyphs">30</text>
<line x1="68.0" y1="655.04" x2="157.2" y2="655.04" stroke="#000" stroke-width="2" />
<text x="63.4" y="658.24" font-family="'Liberation Sans', sans-serif" font-size="9.4" text-anchor="end" fill="#4e4e4e" textLength="8.6" lengthAdjust="spacingAndGlyphs">40</text>
<line x1="68.0" y1="639.3" x2="157.2" y2="639.3" stroke="#000" stroke-width="2" />
<text x="63.4" y="642.5" font-family="'Liberation Sans', sans-serif" font-size="9.4" text-anchor="end" fill="#4e4e4e" textLength="8.6" lengthAdjust="spacingAndGlyphs">50</text>
<line x1="68.0" y1="623.56" x2="157.2" y2="623.56" stroke="#000" stroke-width="2" />
<text x="63.4" y="626.76" font-family="'Liberation Sans', sans-serif" font-size="9.4" text-anchor="end" fill="#4e4e4e" textLength="8.6" lengthAdjust="spacingAndGlyphs">60</text>
<line x1="68.0" y1="607.8199999999999" x2="157.2" y2="607.8199999999999" stroke="#000" stroke-width="2" />
<text x="63.4" y="611.02" font-family="'Liberation Sans', sans-serif" font-size="9.4" text-anchor="end" fill="#4e4e4e" textLength="8.6" lengthAdjust="spacingAndGlyphs">70</text>
<line x1="68.0" y1="592.08" x2="157.2" y2="592.08" stroke="#000" stroke-width="2" />
<text x="63.4" y="595.2800000000001" font-family="'Liberation Sans', sans-serif" font-size="9.4" text-anchor="end" fill="#4e4e4e" textLength="8.6" lengthAdjust="spacingAndGlyphs">80</text>
<text x="63.4" y="721.2" font-family="'Liberation Sans', sans-serif" font-size="9.4" text-anchor="end" fill="#4e4e4e" textLength="4.4" lengthAdjust="spacingAndGlyphs">0</text>
<line x1="71.2" y1="591.08" x2="71.2" y2="721" stroke="#000" stroke-width="2" />
<line x1="68.0" y1="718" x2="158.2" y2="718" stroke="#000" stroke-width="2" />
<line x1="71.2" y1="718" x2="71.2" y2="721.2" stroke="#000" stroke-width="1.8" />
<line x1="114.19999999999999" y1="718" x2="114.19999999999999" y2="721.2" stroke="#000" stroke-width="1.8" />
<line x1="157.2" y1="718" x2="157.2" y2="721.2" stroke="#000" stroke-width="1.8" />
<line x1="93.3" y1="680" x2="93.3" y2="632.5" stroke="#222" stroke-width="1" />
<line x1="91.0" y1="632.5" x2="95.6" y2="632.5" stroke="#222" stroke-width="1.1" />
<line x1="136.1" y1="660" x2="136.1" y2="592.2" stroke="#222" stroke-width="1" />
<rect x="80.3" y="661.5" width="25.9" height="56.5" fill="#9b9ad1" stroke="#000" stroke-width="2" />
<rect x="121.6" y="635" width="26.9" height="83" fill="#9b9ad1" stroke="#000" stroke-width="2" />
<text x="94" y="581.4" font-family="'Liberation Sans', sans-serif" font-size="14" font-weight="bold" textLength="26.6" lengthAdjust="spacingAndGlyphs">LSK</text>
<text x="75.4" y="619" font-family="'Liberation Sans', sans-serif" font-size="10.5" font-weight="bold" textLength="53.8" lengthAdjust="spacingAndGlyphs"><tspan font-style="italic">P</tspan> = .27, n=3</text>
<text x="85" y="736.8" font-family="'Liberation Sans', sans-serif" font-size="9.6" fill="#333" textLength="15.6" lengthAdjust="spacing">WT</text>
<text x="128.3" y="736.8" font-family="'Liberation Sans', sans-serif" font-size="9.6" fill="#333" textLength="14.2" lengthAdjust="spacing">KO</text>
<text x="49.4" y="704.7" font-family="'Liberation Sans', sans-serif" font-size="9.3" font-weight="bold" textLength="84.4" lengthAdjust="spacingAndGlyphs" transform="rotate(-90 49.4 704.7)">% Apoptotic cells</text>
<line x1="201.4" y1="704.25" x2="296.4" y2="704.25" stroke="#000" stroke-width="2" />
<text x="196" y="707.45" font-family="'Liberation Sans', sans-serif" font-size="9.4" text-anchor="end" fill="#4e4e4e" textLength="8.6" lengthAdjust="spacingAndGlyphs">10</text>
<line x1="201.4" y1="690.1999999999999" x2="296.4" y2="690.1999999999999" stroke="#000" stroke-width="2" />
<text x="196" y="693.4" font-family="'Liberation Sans', sans-serif" font-size="9.4" text-anchor="end" fill="#4e4e4e" textLength="8.6" lengthAdjust="spacingAndGlyphs">20</text>
<line x1="201.4" y1="676.15" x2="296.4" y2="676.15" stroke="#000" stroke-width="2" />
<text x="196" y="679.35" font-family="'Liberation Sans', sans-serif" font-size="9.4" text-anchor="end" fill="#4e4e4e" textLength="8.6" lengthAdjust="spacingAndGlyphs">30</text>
<line x1="201.4" y1="662.0999999999999" x2="296.4" y2="662.0999999999999" stroke="#000" stroke-width="2" />
<text x="196" y="665.3" font-family="'Liberation Sans', sans-serif" font-size="9.4" text-anchor="end" fill="#4e4e4e" textLength="8.6" lengthAdjust="spacingAndGlyphs">40</text>
<line x1="201.4" y1="648.05" x2="296.4" y2="648.05" stroke="#000" stroke-width="2" />
<text x="196" y="651.25" font-family="'Liberation Sans', sans-serif" font-size="9.4" text-anchor="end" fill="#4e4e4e" textLength="8.6" lengthAdjust="spacingAndGlyphs">50</text>
<line x1="201.4" y1="634.0" x2="296.4" y2="634.0" stroke="#000" stroke-width="2" />
<text x="196" y="637.2" font-family="'Liberation Sans', sans-serif" font-size="9.4" text-anchor="end" fill="#4e4e4e" textLength="8.6" lengthAdjust="spacingAndGlyphs">60</text>
<line x1="201.4" y1="619.9499999999999" x2="296.4" y2="619.9499999999999" stroke="#000" stroke-width="2" />
<text x="196" y="623.15" font-family="'Liberation Sans', sans-serif" font-size="9.4" text-anchor="end" fill="#4e4e4e" textLength="8.6" lengthAdjust="spacingAndGlyphs">70</text>
<line x1="201.4" y1="605.9" x2="296.4" y2="605.9" stroke="#000" stroke-width="2" />
<text x="196" y="609.1" font-family="'Liberation Sans', sans-serif" font-size="9.4" text-anchor="end" fill="#4e4e4e" textLength="8.6" lengthAdjust="spacingAndGlyphs">80</text>
<line x1="201.4" y1="591.8499999999999" x2="296.4" y2="591.8499999999999" stroke="#000" stroke-width="2" />
<text x="196" y="595.05" font-family="'Liberation Sans', sans-serif" font-size="9.4" text-anchor="end" fill="#4e4e4e" textLength="8.6" lengthAdjust="spacingAndGlyphs">90</text>
<text x="196" y="721.5" font-family="'Liberation Sans', sans-serif" font-size="9.4" text-anchor="end" fill="#4e4e4e" textLength="4.4" lengthAdjust="spacingAndGlyphs">0</text>
<line x1="204.6" y1="590.8499999999999" x2="204.6" y2="721.3" stroke="#000" stroke-width="2" />
<line x1="201.4" y1="718.3" x2="297.4" y2="718.3" stroke="#000" stroke-width="2" />
<line x1="204.6" y1="718.3" x2="204.6" y2="721.5" stroke="#000" stroke-width="1.8" />
<line x1="250.5" y1="718.3" x2="250.5" y2="721.5" stroke="#000" stroke-width="1.8" />
<line x1="296.4" y1="718.3" x2="296.4" y2="721.5" stroke="#000" stroke-width="1.8" />
<line x1="228.3" y1="680" x2="228.3" y2="616.9" stroke="#222" stroke-width="1" />
<line x1="226.0" y1="616.9" x2="230.60000000000002" y2="616.9" stroke="#222" stroke-width="1.1" />
<line x1="274.4" y1="660" x2="274.4" y2="596.8" stroke="#222" stroke-width="1" />
<line x1="272.09999999999997" y1="596.8" x2="276.7" y2="596.8" stroke="#222" stroke-width="1.1" />
<rect x="213.5" y="649.8" width="28.9" height="68.5" fill="#9b9ad1" stroke="#000" stroke-width="2" />
<rect x="259.8" y="633.5" width="28.6" height="84.8" fill="#9b9ad1" stroke="#000" stroke-width="2" />
<text x="224.4" y="581.6" font-family="'Liberation Sans', sans-serif" font-size="14" font-weight="bold" textLength="55.8" lengthAdjust="spacingAndGlyphs">LT-HSCs</text>
<text x="216.3" y="615.6" font-family="'Liberation Sans', sans-serif" font-size="10.5" font-weight="bold" textLength="55" lengthAdjust="spacingAndGlyphs"><tspan font-style="italic">P</tspan> = .29, n=3</text>
<text x="220" y="736.6" font-family="'Liberation Sans', sans-serif" font-size="9.6" fill="#333" textLength="15.6" lengthAdjust="spacing">WT</text>
<text x="267.5" y="736.6" font-family="'Liberation Sans', sans-serif" font-size="9.6" fill="#333" textLength="14.2" lengthAdjust="spacing">KO</text>
<text x="183.3" y="703.8" font-family="'Liberation Sans', sans-serif" font-size="9.3" font-weight="bold" textLength="84.4" lengthAdjust="spacingAndGlyphs" transform="rotate(-90 183.3 703.8)">% Apoptotic cells</text>
<line x1="344.7" y1="702.51" x2="436" y2="702.51" stroke="#000" stroke-width="2" />
<text x="339.3" y="705.71" font-family="'Liberation Sans', sans-serif" font-size="9.4" text-anchor="end" fill="#4e4e4e" textLength="8.6" lengthAdjust="spacingAndGlyphs">10</text>
<line x1="344.7" y1="686.52" x2="436" y2="686.52" stroke="#000" stroke-width="2" />
<text x="339.3" y="689.72" font-family="'Liberation Sans', sans-serif" font-size="9.4" text-anchor="end" fill="#4e4e4e" textLength="8.6" lengthAdjust="spacingAndGlyphs">20</text>
<line x1="344.7" y1="670.53" x2="436" y2="670.53" stroke="#000" stroke-width="2" />
<text x="339.3" y="673.73" font-family="'Liberation Sans', sans-serif" font-size="9.4" text-anchor="end" fill="#4e4e4e" textLength="8.6" lengthAdjust="spacingAndGlyphs">30</text>
<line x1="344.7" y1="654.54" x2="436" y2="654.54" stroke="#000" stroke-width="2" />
<text x="339.3" y="657.74" font-family="'Liberation Sans', sans-serif" font-size="9.4" text-anchor="end" fill="#4e4e4e" textLength="8.6" lengthAdjust="spacingAndGlyphs">40</text>
<line x1="344.7" y1="638.55" x2="436" y2="638.55" stroke="#000" stroke-width="2" />
<text x="339.3" y="641.75" font-family="'Liberation Sans', sans-serif" font-size="9.4" text-anchor="end" fill="#4e4e4e" textLength="8.6" lengthAdjust="spacingAndGlyphs">50</text>
<line x1="344.7" y1="622.56" x2="436" y2="622.56" stroke="#000" stroke-width="2" />
<text x="339.3" y="625.76" font-family="'Liberation Sans', sans-serif" font-size="9.4" text-anchor="end" fill="#4e4e4e" textLength="8.6" lengthAdjust="spacingAndGlyphs">60</text>
<line x1="344.7" y1="606.5699999999999" x2="436" y2="606.5699999999999" stroke="#000" stroke-width="2" />
<text x="339.3" y="609.77" font-family="'Liberation Sans', sans-serif" font-size="9.4" text-anchor="end" fill="#4e4e4e" textLength="8.6" lengthAdjust="spacingAndGlyphs">70</text>
<line x1="344.7" y1="590.58" x2="436" y2="590.58" stroke="#000" stroke-width="2" />
<text x="339.3" y="593.7800000000001" font-family="'Liberation Sans', sans-serif" font-size="9.4" text-anchor="end" fill="#4e4e4e" textLength="8.6" lengthAdjust="spacingAndGlyphs">80</text>
<text x="339.3" y="721.7" font-family="'Liberation Sans', sans-serif" font-size="9.4" text-anchor="end" fill="#4e4e4e" textLength="4.4" lengthAdjust="spacingAndGlyphs">0</text>
<line x1="347.9" y1="589.58" x2="347.9" y2="721.5" stroke="#000" stroke-width="2" />
<line x1="344.7" y1="718.5" x2="437" y2="718.5" stroke="#000" stroke-width="2" />
<line x1="347.9" y1="718.5" x2="347.9" y2="721.7" stroke="#000" stroke-width="1.8" />
<line x1="391.95" y1="718.5" x2="391.95" y2="721.7" stroke="#000" stroke-width="1.8" />
<line x1="436" y1="718.5" x2="436" y2="721.7" stroke="#000" stroke-width="1.8" />
<line x1="370.5" y1="690" x2="370.5" y2="643" stroke="#222" stroke-width="1" />
<line x1="368.2" y1="643" x2="372.8" y2="643" stroke="#222" stroke-width="1.1" />
<line x1="413.1" y1="670" x2="413.1" y2="601.3" stroke="#222" stroke-width="1" />
<line x1="410.8" y1="601.3" x2="415.40000000000003" y2="601.3" stroke="#222" stroke-width="1.1" />
<rect x="356.2" y="667.8" width="26.3" height="50.7" fill="#9b9ad1" stroke="#000" stroke-width="2" />
<rect x="399.3" y="645.4" width="27.6" height="73.1" fill="#9b9ad1" stroke="#000" stroke-width="2" />
<text x="364.5" y="581.3" font-family="'Liberation Sans', sans-serif" font-size="14" font-weight="bold" textLength="58" lengthAdjust="spacingAndGlyphs">ST-HSCs</text>
<text x="353.9" y="618.8" font-family="'Liberation Sans', sans-serif" font-size="10.5" font-weight="bold" textLength="50.6" lengthAdjust="spacingAndGlyphs"><tspan font-style="italic">P</tspan> = .35, n=3</text>
<text x="361.9" y="736.3" font-family="'Liberation Sans', sans-serif" font-size="9.6" fill="#333" textLength="15.6" lengthAdjust="spacing">WT</text>
<text x="405" y="736.3" font-family="'Liberation Sans', sans-serif" font-size="9.6" fill="#333" textLength="14.2" lengthAdjust="spacing">KO</text>
<text x="326.1" y="704.8" font-family="'Liberation Sans', sans-serif" font-size="9.3" font-weight="bold" textLength="84.4" lengthAdjust="spacingAndGlyphs" transform="rotate(-90 326.1 704.8)">% Apoptotic cells</text>
</svg>
</body></html>
